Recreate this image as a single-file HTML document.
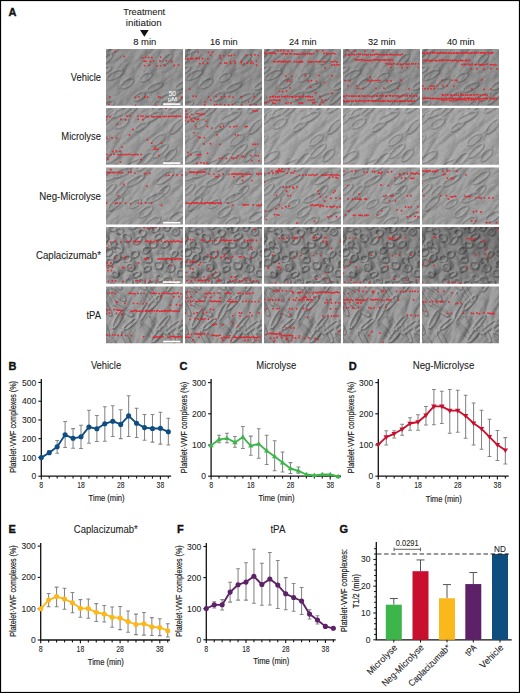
<!DOCTYPE html>
<html><head><meta charset="utf-8"><style>
html,body{margin:0;padding:0;background:#fff;}
svg{display:block;font-family:"Liberation Sans", sans-serif;}
</style></head><body>
<svg width="520" height="693" viewBox="0 0 520 693">
<rect x="0" y="0" width="520" height="693" fill="#fff"/>
<text x="8.60" y="15.80" font-size="11" text-anchor="start" fill="#111" font-weight="bold" stroke="#111" stroke-width="0.35">A</text>
<text x="144.20" y="14.80" font-size="9.3" text-anchor="middle" fill="#222" textLength="42.00" lengthAdjust="spacingAndGlyphs" stroke="#222" stroke-width="0.08" >Treatment</text>
<text x="143.80" y="25.80" font-size="9.3" text-anchor="middle" fill="#222" textLength="36.00" lengthAdjust="spacingAndGlyphs" stroke="#222" stroke-width="0.08" >initiation</text>
<path d="M140.0 30.1 L148.7 30.1 L144.35 36.7 Z" fill="#111"/>
<text x="144.80" y="45.00" font-size="9.9" text-anchor="middle" fill="#151515" textLength="23.20" lengthAdjust="spacingAndGlyphs" stroke="#151515" stroke-width="0.08" >8 min</text>
<text x="223.80" y="45.00" font-size="9.9" text-anchor="middle" fill="#151515" textLength="27.70" lengthAdjust="spacingAndGlyphs" stroke="#151515" stroke-width="0.08" >16 min</text>
<text x="302.80" y="45.00" font-size="9.9" text-anchor="middle" fill="#151515" textLength="27.70" lengthAdjust="spacingAndGlyphs" stroke="#151515" stroke-width="0.08" >24 min</text>
<text x="381.80" y="45.00" font-size="9.9" text-anchor="middle" fill="#151515" textLength="27.70" lengthAdjust="spacingAndGlyphs" stroke="#151515" stroke-width="0.08" >32 min</text>
<text x="460.80" y="45.00" font-size="9.9" text-anchor="middle" fill="#151515" textLength="27.70" lengthAdjust="spacingAndGlyphs" stroke="#151515" stroke-width="0.08" >40 min</text>
<text x="101.00" y="81.30" font-size="10.0" text-anchor="end" fill="#1a1a1a" textLength="30.20" lengthAdjust="spacingAndGlyphs" stroke="#1a1a1a" stroke-width="0.08" >Vehicle</text>
<text x="101.00" y="140.30" font-size="10.0" text-anchor="end" fill="#1a1a1a" textLength="39.70" lengthAdjust="spacingAndGlyphs" stroke="#1a1a1a" stroke-width="0.08" >Microlyse</text>
<text x="101.00" y="199.90" font-size="10.0" text-anchor="end" fill="#1a1a1a" textLength="61.70" lengthAdjust="spacingAndGlyphs" stroke="#1a1a1a" stroke-width="0.08" >Neg-Microlyse</text>
<text x="101.00" y="259.30" font-size="10.0" text-anchor="end" fill="#1a1a1a" textLength="65.00" lengthAdjust="spacingAndGlyphs" stroke="#1a1a1a" stroke-width="0.08" >Caplacizumab*</text>
<text x="101.00" y="318.70" font-size="10.0" text-anchor="end" fill="#1a1a1a" textLength="14.50" lengthAdjust="spacingAndGlyphs" stroke="#1a1a1a" stroke-width="0.08" >tPA</text>
<defs>
<clipPath id="tc"><rect x="0" y="0" width="77" height="56.8"/></clipPath>
<filter id="dic0" x="0" y="0" width="100%" height="100%" color-interpolation-filters="sRGB"><feTurbulence type="turbulence" baseFrequency="0.035 0.08" numOctaves="3" seed="4" result="n"/><feDiffuseLighting in="n" surfaceScale="2.4" diffuseConstant="1" lighting-color="#ffffff" result="l"><feDistantLight azimuth="225" elevation="50"/></feDiffuseLighting><feComposite in="SourceGraphic" in2="l" operator="arithmetic" k1="0" k2="1" k3="0.24" k4="-0.173"/></filter>
<filter id="dic1" x="0" y="0" width="100%" height="100%" color-interpolation-filters="sRGB"><feTurbulence type="turbulence" baseFrequency="0.035 0.085" numOctaves="3" seed="6" result="n"/><feDiffuseLighting in="n" surfaceScale="2.2" diffuseConstant="1" lighting-color="#ffffff" result="l"><feDistantLight azimuth="225" elevation="50"/></feDiffuseLighting><feComposite in="SourceGraphic" in2="l" operator="arithmetic" k1="0" k2="1" k3="0.22" k4="-0.158"/></filter>
<filter id="dic2" x="0" y="0" width="100%" height="100%" color-interpolation-filters="sRGB"><feTurbulence type="turbulence" baseFrequency="0.035 0.08" numOctaves="3" seed="8" result="n"/><feDiffuseLighting in="n" surfaceScale="2.4" diffuseConstant="1" lighting-color="#ffffff" result="l"><feDistantLight azimuth="225" elevation="50"/></feDiffuseLighting><feComposite in="SourceGraphic" in2="l" operator="arithmetic" k1="0" k2="1" k3="0.24" k4="-0.173"/></filter>
<filter id="dic3" x="0" y="0" width="100%" height="100%" color-interpolation-filters="sRGB"><feTurbulence type="turbulence" baseFrequency="0.085 0.075" numOctaves="2" seed="10" result="n"/><feDiffuseLighting in="n" surfaceScale="3.0" diffuseConstant="1" lighting-color="#ffffff" result="l"><feDistantLight azimuth="225" elevation="50"/></feDiffuseLighting><feComposite in="SourceGraphic" in2="l" operator="arithmetic" k1="0" k2="1" k3="0.28" k4="-0.202"/></filter>
<filter id="dic4" x="0" y="0" width="100%" height="100%" color-interpolation-filters="sRGB"><feTurbulence type="turbulence" baseFrequency="0.03 0.09" numOctaves="3" seed="12" result="n"/><feDiffuseLighting in="n" surfaceScale="2.6" diffuseConstant="1" lighting-color="#ffffff" result="l"><feDistantLight azimuth="225" elevation="50"/></feDiffuseLighting><feComposite in="SourceGraphic" in2="l" operator="arithmetic" k1="0" k2="1" k3="0.26" k4="-0.187"/></filter>
<filter id="grain" x="0" y="0" width="100%" height="100%" color-interpolation-filters="sRGB"><feTurbulence type="fractalNoise" baseFrequency="0.9" numOctaves="1" seed="9" result="g"/><feColorMatrix in="g" type="matrix" values="0.33 0.33 0.33 0 0  0.33 0.33 0.33 0 0  0.33 0.33 0.33 0 0  0 0 0 0 1" result="gg"/><feComposite in="SourceGraphic" in2="gg" operator="arithmetic" k1="0" k2="1" k3="0.14" k4="-0.07"/></filter>
<filter id="soft" x="-5%" y="-5%" width="110%" height="110%"><feGaussianBlur stdDeviation="0.35"/></filter>
</defs>
<defs><filter id="emb0" filterUnits="userSpaceOnUse" x="-2" y="-2" width="81" height="60.8" color-interpolation-filters="sRGB"><feGaussianBlur in="SourceAlpha" stdDeviation="0.7" result="b"/><feDiffuseLighting in="b" surfaceScale="1.4" diffuseConstant="1" lighting-color="#ffffff" result="l"><feDistantLight azimuth="225" elevation="45"/></feDiffuseLighting><feColorMatrix in="l" type="matrix" values="0 0 0 0 1  0 0 0 0 1  0 0 0 0 1  0.26 0 0 0 -0.1838" result="hi"/><feColorMatrix in="l" type="matrix" values="0 0 0 0 0  0 0 0 0 0  0 0 0 0 0  -0.26 0 0 0 0.1838" result="lo"/><feMerge><feMergeNode in="hi"/><feMergeNode in="lo"/></feMerge></filter><g id="cells0"><ellipse cx="9.1" cy="25.6" rx="8.8" ry="3.3" transform="rotate(-27 9.1 25.6)" fill="none" stroke="#000" stroke-width="1.3"/><ellipse cx="33.0" cy="47.2" rx="6.3" ry="2.9" transform="rotate(-34 33.0 47.2)" fill="none" stroke="#000" stroke-width="1.3"/><ellipse cx="1.0" cy="55.6" rx="7.3" ry="2.8" transform="rotate(-22 1.0 55.6)" fill="none" stroke="#000" stroke-width="1.3"/><ellipse cx="60.7" cy="9.8" rx="6.8" ry="2.8" transform="rotate(-45 60.7 9.8)" fill="none" stroke="#000" stroke-width="1.3"/><ellipse cx="49.0" cy="57.5" rx="9.8" ry="3.1" transform="rotate(-44 49.0 57.5)" fill="none" stroke="#000" stroke-width="1.3"/><ellipse cx="71.8" cy="48.4" rx="8.6" ry="2.5" transform="rotate(-45 71.8 48.4)" fill="none" stroke="#000" stroke-width="1.3"/><ellipse cx="-2.5" cy="21.8" rx="8.3" ry="2.6" transform="rotate(-27 -2.5 21.8)" fill="none" stroke="#000" stroke-width="1.3"/><ellipse cx="77.4" cy="35.3" rx="9.1" ry="3.0" transform="rotate(-28 77.4 35.3)" fill="none" stroke="#000" stroke-width="1.3"/><ellipse cx="21.1" cy="34.1" rx="7.4" ry="3.4" transform="rotate(-34 21.1 34.1)" fill="none" stroke="#000" stroke-width="1.3"/><ellipse cx="60.2" cy="48.1" rx="8.6" ry="2.7" transform="rotate(-23 60.2 48.1)" fill="none" stroke="#000" stroke-width="1.3"/><ellipse cx="39.6" cy="28.0" rx="6.6" ry="3.2" transform="rotate(-33 39.6 28.0)" fill="none" stroke="#000" stroke-width="1.3"/><ellipse cx="7.0" cy="0.2" rx="6.9" ry="2.8" transform="rotate(-32 7.0 0.2)" fill="none" stroke="#000" stroke-width="1.3"/><ellipse cx="48.6" cy="37.9" rx="8.3" ry="2.8" transform="rotate(-28 48.6 37.9)" fill="none" stroke="#000" stroke-width="1.3"/><ellipse cx="0.9" cy="9.4" rx="6.4" ry="2.6" transform="rotate(-43 0.9 9.4)" fill="none" stroke="#000" stroke-width="1.3"/></g></defs>
<defs><filter id="emb1" filterUnits="userSpaceOnUse" x="-2" y="-2" width="81" height="60.8" color-interpolation-filters="sRGB"><feGaussianBlur in="SourceAlpha" stdDeviation="0.7" result="b"/><feDiffuseLighting in="b" surfaceScale="1.3" diffuseConstant="1" lighting-color="#ffffff" result="l"><feDistantLight azimuth="225" elevation="45"/></feDiffuseLighting><feColorMatrix in="l" type="matrix" values="0 0 0 0 1  0 0 0 0 1  0 0 0 0 1  0.25 0 0 0 -0.1768" result="hi"/><feColorMatrix in="l" type="matrix" values="0 0 0 0 0  0 0 0 0 0  0 0 0 0 0  -0.25 0 0 0 0.1768" result="lo"/><feMerge><feMergeNode in="hi"/><feMergeNode in="lo"/></feMerge></filter><g id="cells1"><ellipse cx="45.2" cy="9.2" rx="10.9" ry="3.0" transform="rotate(-27 45.2 9.2)" fill="none" stroke="#000" stroke-width="1.3"/><ellipse cx="15.4" cy="15.1" rx="7.7" ry="3.6" transform="rotate(-33 15.4 15.1)" fill="none" stroke="#000" stroke-width="1.3"/><ellipse cx="2.8" cy="9.1" rx="10.2" ry="2.8" transform="rotate(-48 2.8 9.1)" fill="none" stroke="#000" stroke-width="1.3"/><ellipse cx="36.1" cy="17.5" rx="8.6" ry="2.6" transform="rotate(-35 36.1 17.5)" fill="none" stroke="#000" stroke-width="1.3"/><ellipse cx="6.2" cy="48.7" rx="9.7" ry="3.5" transform="rotate(-34 6.2 48.7)" fill="none" stroke="#000" stroke-width="1.3"/><ellipse cx="52.5" cy="-2.6" rx="9.2" ry="2.8" transform="rotate(-39 52.5 -2.6)" fill="none" stroke="#000" stroke-width="1.3"/><ellipse cx="-2.2" cy="32.4" rx="6.9" ry="2.6" transform="rotate(-46 -2.2 32.4)" fill="none" stroke="#000" stroke-width="1.3"/><ellipse cx="53.8" cy="42.7" rx="9.7" ry="3.0" transform="rotate(-41 53.8 42.7)" fill="none" stroke="#000" stroke-width="1.3"/><ellipse cx="38.4" cy="52.0" rx="10.7" ry="3.2" transform="rotate(-43 38.4 52.0)" fill="none" stroke="#000" stroke-width="1.3"/><ellipse cx="25.7" cy="56.4" rx="10.5" ry="2.5" transform="rotate(-29 25.7 56.4)" fill="none" stroke="#000" stroke-width="1.3"/><ellipse cx="64.2" cy="46.8" rx="7.6" ry="3.4" transform="rotate(-47 64.2 46.8)" fill="none" stroke="#000" stroke-width="1.3"/><ellipse cx="70.4" cy="18.2" rx="9.2" ry="3.2" transform="rotate(-48 70.4 18.2)" fill="none" stroke="#000" stroke-width="1.3"/><ellipse cx="26.1" cy="0.6" rx="10.5" ry="2.5" transform="rotate(-43 26.1 0.6)" fill="none" stroke="#000" stroke-width="1.3"/><ellipse cx="14.0" cy="4.0" rx="10.8" ry="2.8" transform="rotate(-26 14.0 4.0)" fill="none" stroke="#000" stroke-width="1.3"/><ellipse cx="70.7" cy="-2.2" rx="10.6" ry="3.0" transform="rotate(-35 70.7 -2.2)" fill="none" stroke="#000" stroke-width="1.3"/><ellipse cx="51.8" cy="31.7" rx="8.3" ry="3.5" transform="rotate(-37 51.8 31.7)" fill="none" stroke="#000" stroke-width="1.3"/></g></defs>
<defs><filter id="emb2" filterUnits="userSpaceOnUse" x="-2" y="-2" width="81" height="60.8" color-interpolation-filters="sRGB"><feGaussianBlur in="SourceAlpha" stdDeviation="0.7" result="b"/><feDiffuseLighting in="b" surfaceScale="1.4" diffuseConstant="1" lighting-color="#ffffff" result="l"><feDistantLight azimuth="225" elevation="45"/></feDiffuseLighting><feColorMatrix in="l" type="matrix" values="0 0 0 0 1  0 0 0 0 1  0 0 0 0 1  0.26 0 0 0 -0.1838" result="hi"/><feColorMatrix in="l" type="matrix" values="0 0 0 0 0  0 0 0 0 0  0 0 0 0 0  -0.26 0 0 0 0.1838" result="lo"/><feMerge><feMergeNode in="hi"/><feMergeNode in="lo"/></feMerge></filter><g id="cells2"><ellipse cx="9.3" cy="35.7" rx="9.4" ry="3.1" transform="rotate(-44 9.3 35.7)" fill="none" stroke="#000" stroke-width="1.3"/><ellipse cx="28.9" cy="35.8" rx="6.6" ry="3.0" transform="rotate(-33 28.9 35.8)" fill="none" stroke="#000" stroke-width="1.3"/><ellipse cx="48.4" cy="29.6" rx="9.5" ry="2.9" transform="rotate(-24 48.4 29.6)" fill="none" stroke="#000" stroke-width="1.3"/><ellipse cx="15.8" cy="5.0" rx="9.3" ry="3.1" transform="rotate(-26 15.8 5.0)" fill="none" stroke="#000" stroke-width="1.3"/><ellipse cx="39.3" cy="43.9" rx="8.1" ry="3.5" transform="rotate(-37 39.3 43.9)" fill="none" stroke="#000" stroke-width="1.3"/><ellipse cx="70.8" cy="48.8" rx="8.4" ry="3.5" transform="rotate(-31 70.8 48.8)" fill="none" stroke="#000" stroke-width="1.3"/><ellipse cx="46.8" cy="54.5" rx="8.6" ry="3.6" transform="rotate(-32 46.8 54.5)" fill="none" stroke="#000" stroke-width="1.3"/><ellipse cx="28.9" cy="13.0" rx="10.4" ry="2.7" transform="rotate(-30 28.9 13.0)" fill="none" stroke="#000" stroke-width="1.3"/><ellipse cx="15.3" cy="23.1" rx="8.4" ry="2.7" transform="rotate(-45 15.3 23.1)" fill="none" stroke="#000" stroke-width="1.3"/><ellipse cx="3.7" cy="21.4" rx="6.9" ry="2.6" transform="rotate(-45 3.7 21.4)" fill="none" stroke="#000" stroke-width="1.3"/><ellipse cx="57.4" cy="23.0" rx="7.2" ry="2.8" transform="rotate(-42 57.4 23.0)" fill="none" stroke="#000" stroke-width="1.3"/><ellipse cx="58.7" cy="9.7" rx="9.8" ry="3.4" transform="rotate(-36 58.7 9.7)" fill="none" stroke="#000" stroke-width="1.3"/><ellipse cx="4.7" cy="7.7" rx="8.0" ry="3.4" transform="rotate(-27 4.7 7.7)" fill="none" stroke="#000" stroke-width="1.3"/><ellipse cx="35.9" cy="-2.5" rx="7.3" ry="3.2" transform="rotate(-41 35.9 -2.5)" fill="none" stroke="#000" stroke-width="1.3"/></g></defs>
<defs><filter id="emb3" filterUnits="userSpaceOnUse" x="-2" y="-2" width="81" height="60.8" color-interpolation-filters="sRGB"><feGaussianBlur in="SourceAlpha" stdDeviation="0.7" result="b"/><feDiffuseLighting in="b" surfaceScale="1.6" diffuseConstant="1" lighting-color="#ffffff" result="l"><feDistantLight azimuth="225" elevation="45"/></feDiffuseLighting><feColorMatrix in="l" type="matrix" values="0 0 0 0 1  0 0 0 0 1  0 0 0 0 1  0.4 0 0 0 -0.2828" result="hi"/><feColorMatrix in="l" type="matrix" values="0 0 0 0 0  0 0 0 0 0  0 0 0 0 0  -0.4 0 0 0 0.2828" result="lo"/><feMerge><feMergeNode in="hi"/><feMergeNode in="lo"/></feMerge></filter><g id="cells3"><ellipse cx="78.3" cy="25.7" rx="4.1" ry="2.6" transform="rotate(12 78.3 25.7)" fill="none" stroke="#000" stroke-width="1.5"/><ellipse cx="3.5" cy="34.9" rx="3.5" ry="3.4" transform="rotate(-48 3.5 34.9)" fill="none" stroke="#000" stroke-width="1.5"/><ellipse cx="69.4" cy="4.5" rx="3.2" ry="3.3" transform="rotate(-52 69.4 4.5)" fill="none" stroke="#000" stroke-width="1.5"/><ellipse cx="-0.9" cy="11.1" rx="3.0" ry="2.9" transform="rotate(-49 -0.9 11.1)" fill="none" stroke="#000" stroke-width="1.5"/><ellipse cx="12.2" cy="22.7" rx="4.1" ry="2.8" transform="rotate(13 12.2 22.7)" fill="none" stroke="#000" stroke-width="1.5"/><ellipse cx="62.2" cy="33.0" rx="3.2" ry="2.7" transform="rotate(23 62.2 33.0)" fill="none" stroke="#000" stroke-width="1.5"/><ellipse cx="45.2" cy="56.4" rx="3.7" ry="2.6" transform="rotate(2 45.2 56.4)" fill="none" stroke="#000" stroke-width="1.5"/><ellipse cx="20.4" cy="10.6" rx="4.4" ry="3.4" transform="rotate(39 20.4 10.6)" fill="none" stroke="#000" stroke-width="1.5"/><ellipse cx="40.9" cy="41.5" rx="3.7" ry="2.5" transform="rotate(-30 40.9 41.5)" fill="none" stroke="#000" stroke-width="1.5"/><ellipse cx="31.9" cy="12.9" rx="4.5" ry="2.4" transform="rotate(-50 31.9 12.9)" fill="none" stroke="#000" stroke-width="1.5"/><ellipse cx="64.5" cy="40.9" rx="3.7" ry="3.5" transform="rotate(-51 64.5 40.9)" fill="none" stroke="#000" stroke-width="1.5"/><ellipse cx="21.2" cy="31.5" rx="3.5" ry="3.3" transform="rotate(-0 21.2 31.5)" fill="none" stroke="#000" stroke-width="1.5"/><ellipse cx="2.4" cy="24.9" rx="4.0" ry="3.3" transform="rotate(-56 2.4 24.9)" fill="none" stroke="#000" stroke-width="1.5"/><ellipse cx="42.1" cy="32.5" rx="3.2" ry="2.8" transform="rotate(2 42.1 32.5)" fill="none" stroke="#000" stroke-width="1.5"/><ellipse cx="28.5" cy="27.0" rx="3.8" ry="3.1" transform="rotate(-27 28.5 27.0)" fill="none" stroke="#000" stroke-width="1.5"/><ellipse cx="24.2" cy="40.0" rx="3.8" ry="3.5" transform="rotate(25 24.2 40.0)" fill="none" stroke="#000" stroke-width="1.5"/><ellipse cx="22.7" cy="54.7" rx="3.4" ry="3.3" transform="rotate(-42 22.7 54.7)" fill="none" stroke="#000" stroke-width="1.5"/><ellipse cx="69.3" cy="56.3" rx="3.4" ry="2.7" transform="rotate(8 69.3 56.3)" fill="none" stroke="#000" stroke-width="1.5"/><ellipse cx="49.4" cy="1.2" rx="4.4" ry="3.0" transform="rotate(-57 49.4 1.2)" fill="none" stroke="#000" stroke-width="1.5"/><ellipse cx="58.7" cy="17.0" rx="3.7" ry="2.8" transform="rotate(-35 58.7 17.0)" fill="none" stroke="#000" stroke-width="1.5"/><ellipse cx="46.3" cy="17.6" rx="3.6" ry="2.5" transform="rotate(19 46.3 17.6)" fill="none" stroke="#000" stroke-width="1.5"/><ellipse cx="61.3" cy="53.2" rx="3.8" ry="3.3" transform="rotate(8 61.3 53.2)" fill="none" stroke="#000" stroke-width="1.5"/><ellipse cx="74.5" cy="-2.4" rx="2.8" ry="2.7" transform="rotate(-11 74.5 -2.4)" fill="none" stroke="#000" stroke-width="1.5"/><ellipse cx="53.2" cy="51.1" rx="2.8" ry="3.5" transform="rotate(-34 53.2 51.1)" fill="none" stroke="#000" stroke-width="1.5"/><ellipse cx="6.3" cy="0.3" rx="3.8" ry="3.3" transform="rotate(33 6.3 0.3)" fill="none" stroke="#000" stroke-width="1.5"/><ellipse cx="52.3" cy="38.0" rx="4.1" ry="3.5" transform="rotate(-9 52.3 38.0)" fill="none" stroke="#000" stroke-width="1.5"/><ellipse cx="60.5" cy="0.3" rx="2.8" ry="3.2" transform="rotate(-32 60.5 0.3)" fill="none" stroke="#000" stroke-width="1.5"/><ellipse cx="13.4" cy="3.8" rx="3.4" ry="2.8" transform="rotate(5 13.4 3.8)" fill="none" stroke="#000" stroke-width="1.5"/><ellipse cx="78.0" cy="36.9" rx="4.2" ry="3.4" transform="rotate(22 78.0 36.9)" fill="none" stroke="#000" stroke-width="1.5"/><ellipse cx="27.0" cy="-1.8" rx="4.4" ry="3.2" transform="rotate(-34 27.0 -1.8)" fill="none" stroke="#000" stroke-width="1.5"/><ellipse cx="52.4" cy="9.4" rx="4.5" ry="2.6" transform="rotate(-30 52.4 9.4)" fill="none" stroke="#000" stroke-width="1.5"/><ellipse cx="35.5" cy="54.5" rx="3.3" ry="2.6" transform="rotate(18 35.5 54.5)" fill="none" stroke="#000" stroke-width="1.5"/><ellipse cx="7.1" cy="17.0" rx="3.0" ry="2.7" transform="rotate(-36 7.1 17.0)" fill="none" stroke="#000" stroke-width="1.5"/><ellipse cx="16.8" cy="59.7" rx="4.4" ry="2.6" transform="rotate(10 16.8 59.7)" fill="none" stroke="#000" stroke-width="1.5"/><ellipse cx="36.1" cy="5.7" rx="3.5" ry="3.4" transform="rotate(-57 36.1 5.7)" fill="none" stroke="#000" stroke-width="1.5"/><ellipse cx="30.4" cy="47.3" rx="4.1" ry="2.3" transform="rotate(-33 30.4 47.3)" fill="none" stroke="#000" stroke-width="1.5"/><ellipse cx="9.2" cy="47.0" rx="3.3" ry="2.6" transform="rotate(25 9.2 47.0)" fill="none" stroke="#000" stroke-width="1.5"/><ellipse cx="4.4" cy="59.1" rx="3.3" ry="2.9" transform="rotate(-3 4.4 59.1)" fill="none" stroke="#000" stroke-width="1.5"/><ellipse cx="74.6" cy="45.9" rx="3.9" ry="3.4" transform="rotate(2 74.6 45.9)" fill="none" stroke="#000" stroke-width="1.5"/><ellipse cx="42.2" cy="-2.1" rx="4.0" ry="2.7" transform="rotate(28 42.2 -2.1)" fill="none" stroke="#000" stroke-width="1.5"/><ellipse cx="68.3" cy="26.8" rx="3.6" ry="2.4" transform="rotate(-49 68.3 26.8)" fill="none" stroke="#000" stroke-width="1.5"/><ellipse cx="40.2" cy="22.7" rx="3.9" ry="2.9" transform="rotate(-28 40.2 22.7)" fill="none" stroke="#000" stroke-width="1.5"/><ellipse cx="10.6" cy="30.7" rx="3.7" ry="2.9" transform="rotate(-42 10.6 30.7)" fill="none" stroke="#000" stroke-width="1.5"/><ellipse cx="-2.2" cy="18.7" rx="4.3" ry="2.8" transform="rotate(-9 -2.2 18.7)" fill="none" stroke="#000" stroke-width="1.5"/></g></defs>
<defs><filter id="emb4" filterUnits="userSpaceOnUse" x="-2" y="-2" width="81" height="60.8" color-interpolation-filters="sRGB"><feGaussianBlur in="SourceAlpha" stdDeviation="0.7" result="b"/><feDiffuseLighting in="b" surfaceScale="1.6" diffuseConstant="1" lighting-color="#ffffff" result="l"><feDistantLight azimuth="225" elevation="45"/></feDiffuseLighting><feColorMatrix in="l" type="matrix" values="0 0 0 0 1  0 0 0 0 1  0 0 0 0 1  0.36 0 0 0 -0.2546" result="hi"/><feColorMatrix in="l" type="matrix" values="0 0 0 0 0  0 0 0 0 0  0 0 0 0 0  -0.36 0 0 0 0.2546" result="lo"/><feMerge><feMergeNode in="hi"/><feMergeNode in="lo"/></feMerge></filter><g id="cells4"><ellipse cx="76.7" cy="51.8" rx="8.2" ry="2.4" transform="rotate(43 76.7 51.8)" fill="none" stroke="#000" stroke-width="1.4"/><ellipse cx="64.0" cy="-1.9" rx="7.3" ry="2.3" transform="rotate(-60 64.0 -1.9)" fill="none" stroke="#000" stroke-width="1.4"/><ellipse cx="24.4" cy="37.5" rx="8.5" ry="2.0" transform="rotate(-39 24.4 37.5)" fill="none" stroke="#000" stroke-width="1.4"/><ellipse cx="48.6" cy="36.5" rx="9.2" ry="2.0" transform="rotate(53 48.6 36.5)" fill="none" stroke="#000" stroke-width="1.4"/><ellipse cx="11.9" cy="32.7" rx="10.4" ry="2.5" transform="rotate(-62 11.9 32.7)" fill="none" stroke="#000" stroke-width="1.4"/><ellipse cx="17.9" cy="23.0" rx="11.2" ry="1.9" transform="rotate(37 17.9 23.0)" fill="none" stroke="#000" stroke-width="1.4"/><ellipse cx="52.4" cy="47.6" rx="10.9" ry="2.6" transform="rotate(-49 52.4 47.6)" fill="none" stroke="#000" stroke-width="1.4"/><ellipse cx="0.3" cy="20.8" rx="9.6" ry="1.8" transform="rotate(61 0.3 20.8)" fill="none" stroke="#000" stroke-width="1.4"/><ellipse cx="9.8" cy="-2.4" rx="7.1" ry="2.3" transform="rotate(41 9.8 -2.4)" fill="none" stroke="#000" stroke-width="1.4"/><ellipse cx="56.6" cy="36.6" rx="10.0" ry="2.0" transform="rotate(-49 56.6 36.6)" fill="none" stroke="#000" stroke-width="1.4"/><ellipse cx="66.9" cy="40.6" rx="10.5" ry="2.2" transform="rotate(-39 66.9 40.6)" fill="none" stroke="#000" stroke-width="1.4"/><ellipse cx="40.4" cy="43.1" rx="10.9" ry="1.9" transform="rotate(48 40.4 43.1)" fill="none" stroke="#000" stroke-width="1.4"/><ellipse cx="37.2" cy="25.4" rx="9.4" ry="2.5" transform="rotate(-62 37.2 25.4)" fill="none" stroke="#000" stroke-width="1.4"/><ellipse cx="47.8" cy="16.3" rx="9.6" ry="2.5" transform="rotate(-48 47.8 16.3)" fill="none" stroke="#000" stroke-width="1.4"/><ellipse cx="-2.1" cy="40.3" rx="8.2" ry="1.9" transform="rotate(59 -2.1 40.3)" fill="none" stroke="#000" stroke-width="1.4"/><ellipse cx="4.1" cy="10.3" rx="10.3" ry="1.8" transform="rotate(58 4.1 10.3)" fill="none" stroke="#000" stroke-width="1.4"/><ellipse cx="39.0" cy="11.4" rx="7.6" ry="2.2" transform="rotate(49 39.0 11.4)" fill="none" stroke="#000" stroke-width="1.4"/><ellipse cx="2.9" cy="52.6" rx="9.2" ry="2.6" transform="rotate(48 2.9 52.6)" fill="none" stroke="#000" stroke-width="1.4"/><ellipse cx="19.9" cy="53.4" rx="10.2" ry="2.6" transform="rotate(61 19.9 53.4)" fill="none" stroke="#000" stroke-width="1.4"/><ellipse cx="35.1" cy="-2.3" rx="6.9" ry="2.1" transform="rotate(48 35.1 -2.3)" fill="none" stroke="#000" stroke-width="1.4"/><ellipse cx="11.8" cy="7.5" rx="9.8" ry="2.4" transform="rotate(41 11.8 7.5)" fill="none" stroke="#000" stroke-width="1.4"/><ellipse cx="64.4" cy="48.6" rx="8.2" ry="2.0" transform="rotate(63 64.4 48.6)" fill="none" stroke="#000" stroke-width="1.4"/><ellipse cx="77.7" cy="39.2" rx="7.8" ry="2.3" transform="rotate(-36 77.7 39.2)" fill="none" stroke="#000" stroke-width="1.4"/><ellipse cx="44.7" cy="6.2" rx="10.9" ry="1.9" transform="rotate(58 44.7 6.2)" fill="none" stroke="#000" stroke-width="1.4"/></g></defs>
<defs><linearGradient id="gR" x1="0" y1="1" x2="1" y2="0"><stop offset="0" stop-color="#fff" stop-opacity="0.06"/><stop offset="1" stop-color="#000" stop-opacity="0.16"/></linearGradient><linearGradient id="gR2" x1="0" y1="1" x2="1" y2="0"><stop offset="0" stop-color="#fff" stop-opacity="0.04"/><stop offset="1" stop-color="#000" stop-opacity="0.08"/></linearGradient></defs>
<g transform="translate(106 49.00)"><g clip-path="url(#tc)">
<g filter="url(#grain)"><rect x="-21.5" y="-31.6" width="120" height="120" fill="rgb(142,142,142)" filter="url(#dic0)" transform="rotate(-35 38.5 28.4)"/></g>
<g filter="url(#emb0)"><use href="#cells0"/></g>
<circle cx="9.20" cy="2.45" r="0.9" fill="#e4232b"/>
<circle cx="18.10" cy="7.46" r="0.9" fill="#e4232b"/>
<circle cx="36.70" cy="8.82" r="0.9" fill="#e4232b"/>
<circle cx="39.70" cy="8.37" r="0.9" fill="#e4232b"/>
<circle cx="42.60" cy="8.41" r="0.9" fill="#e4232b"/>
<circle cx="45.90" cy="8.49" r="0.9" fill="#e4232b"/>
<circle cx="54.80" cy="8.08" r="0.9" fill="#e4232b"/>
<circle cx="38.20" cy="12.21" r="0.9" fill="#e4232b"/>
<circle cx="40.00" cy="12.33" r="0.9" fill="#e4232b"/>
<circle cx="44.40" cy="12.49" r="0.9" fill="#e4232b"/>
<circle cx="47.80" cy="11.79" r="0.9" fill="#e4232b"/>
<circle cx="54.00" cy="12.00" r="0.9" fill="#e4232b"/>
<circle cx="60.40" cy="11.79" r="0.9" fill="#e4232b"/>
<circle cx="65.90" cy="12.51" r="0.9" fill="#e4232b"/>
<circle cx="38.50" cy="16.59" r="0.9" fill="#e4232b"/>
<circle cx="43.40" cy="15.94" r="0.9" fill="#e4232b"/>
<circle cx="51.10" cy="16.88" r="0.9" fill="#e4232b"/>
<circle cx="54.50" cy="16.86" r="0.9" fill="#e4232b"/>
<circle cx="58.90" cy="16.55" r="0.9" fill="#e4232b"/>
<circle cx="68.10" cy="16.52" r="0.9" fill="#e4232b"/>
<circle cx="72.60" cy="16.06" r="0.9" fill="#e4232b"/>
<circle cx="4.00" cy="47.82" r="0.9" fill="#e4232b"/>
<circle cx="29.60" cy="48.33" r="0.9" fill="#e4232b"/>
<circle cx="32.90" cy="47.86" r="0.9" fill="#e4232b"/>
<circle cx="38.80" cy="47.99" r="0.9" fill="#e4232b"/>
<circle cx="41.50" cy="48.04" r="0.9" fill="#e4232b"/>
<circle cx="52.60" cy="47.83" r="0.9" fill="#e4232b"/>
<circle cx="54.20" cy="48.26" r="0.9" fill="#e4232b"/>
<circle cx="75.50" cy="48.24" r="0.9" fill="#e4232b"/>
<circle cx="3.00" cy="55.14" r="0.9" fill="#e4232b"/>
<circle cx="29.60" cy="56.32" r="0.9" fill="#e4232b"/>
<circle cx="49.60" cy="56.44" r="0.9" fill="#e4232b"/>
</g></g>
<g transform="translate(185 49.00)"><g clip-path="url(#tc)">
<g filter="url(#grain)"><rect x="-21.5" y="-31.6" width="120" height="120" fill="rgb(140,140,140)" filter="url(#dic0)" transform="rotate(-35 38.5 28.4)"/></g>
<g filter="url(#emb0)"><use href="#cells0"/></g>
<circle cx="13.30" cy="3.30" r="0.9" fill="#e4232b"/>
<circle cx="23.40" cy="3.46" r="0.9" fill="#e4232b"/>
<circle cx="27.40" cy="3.26" r="0.9" fill="#e4232b"/>
<circle cx="25.90" cy="6.08" r="0.9" fill="#e4232b"/>
<circle cx="34.80" cy="6.80" r="0.9" fill="#e4232b"/>
<circle cx="38.80" cy="6.80" r="0.9" fill="#e4232b"/>
<circle cx="43.70" cy="6.64" r="0.9" fill="#e4232b"/>
<circle cx="46.30" cy="6.51" r="0.9" fill="#e4232b"/>
<circle cx="49.60" cy="6.12" r="0.9" fill="#e4232b"/>
<circle cx="61.20" cy="6.03" r="0.9" fill="#e4232b"/>
<circle cx="65.90" cy="6.09" r="0.9" fill="#e4232b"/>
<circle cx="70.00" cy="5.87" r="0.9" fill="#e4232b"/>
<circle cx="73.30" cy="6.57" r="0.9" fill="#e4232b"/>
<circle cx="-0.10" cy="9.91" r="0.9" fill="#e4232b"/>
<circle cx="2.27" cy="9.91" r="0.9" fill="#e4232b"/>
<circle cx="3.05" cy="9.97" r="0.9" fill="#e4232b"/>
<circle cx="5.69" cy="9.51" r="0.9" fill="#e4232b"/>
<circle cx="6.92" cy="9.85" r="0.9" fill="#e4232b"/>
<circle cx="8.10" cy="9.45" r="0.9" fill="#e4232b"/>
<circle cx="11.00" cy="9.26" r="0.9" fill="#e4232b"/>
<circle cx="12.05" cy="9.20" r="0.9" fill="#e4232b"/>
<circle cx="14.23" cy="9.65" r="0.9" fill="#e4232b"/>
<circle cx="17.50" cy="9.49" r="0.9" fill="#e4232b"/>
<circle cx="23.00" cy="10.03" r="0.9" fill="#e4232b"/>
<circle cx="35.80" cy="9.43" r="0.9" fill="#e4232b"/>
<circle cx="45.20" cy="12.74" r="0.9" fill="#e4232b"/>
<circle cx="49.60" cy="12.22" r="0.9" fill="#e4232b"/>
<circle cx="56.30" cy="12.52" r="0.9" fill="#e4232b"/>
<circle cx="66.60" cy="12.31" r="0.9" fill="#e4232b"/>
<circle cx="71.50" cy="12.37" r="0.9" fill="#e4232b"/>
<circle cx="14.80" cy="14.67" r="0.9" fill="#e4232b"/>
<circle cx="18.20" cy="14.50" r="0.9" fill="#e4232b"/>
<circle cx="22.50" cy="14.00" r="0.9" fill="#e4232b"/>
<circle cx="35.80" cy="14.58" r="0.9" fill="#e4232b"/>
<circle cx="39.70" cy="13.91" r="0.9" fill="#e4232b"/>
<circle cx="41.50" cy="14.09" r="0.9" fill="#e4232b"/>
<circle cx="45.90" cy="14.55" r="0.9" fill="#e4232b"/>
<circle cx="50.30" cy="14.34" r="0.9" fill="#e4232b"/>
<circle cx="56.30" cy="13.80" r="0.9" fill="#e4232b"/>
<circle cx="59.20" cy="14.69" r="0.9" fill="#e4232b"/>
<circle cx="62.20" cy="13.91" r="0.9" fill="#e4232b"/>
<circle cx="65.90" cy="13.96" r="0.9" fill="#e4232b"/>
<circle cx="68.10" cy="14.47" r="0.9" fill="#e4232b"/>
<circle cx="71.50" cy="16.13" r="0.9" fill="#e4232b"/>
<circle cx="4.70" cy="40.10" r="0.9" fill="#e4232b"/>
<circle cx="8.10" cy="47.27" r="0.9" fill="#e4232b"/>
<circle cx="11.10" cy="47.29" r="0.9" fill="#e4232b"/>
<circle cx="23.70" cy="47.78" r="0.9" fill="#e4232b"/>
<circle cx="31.10" cy="47.44" r="0.9" fill="#e4232b"/>
<circle cx="36.30" cy="47.80" r="0.9" fill="#e4232b"/>
<circle cx="40.00" cy="47.57" r="0.9" fill="#e4232b"/>
<circle cx="44.40" cy="47.65" r="0.9" fill="#e4232b"/>
<circle cx="48.10" cy="48.16" r="0.9" fill="#e4232b"/>
<circle cx="56.00" cy="47.68" r="0.9" fill="#e4232b"/>
<circle cx="69.60" cy="47.77" r="0.9" fill="#e4232b"/>
<circle cx="25.90" cy="51.17" r="0.9" fill="#e4232b"/>
<circle cx="19.70" cy="52.88" r="0.9" fill="#e4232b"/>
<circle cx="63.70" cy="52.85" r="0.9" fill="#e4232b"/>
<circle cx="19.70" cy="56.01" r="0.9" fill="#e4232b"/>
<circle cx="29.60" cy="55.92" r="0.9" fill="#e4232b"/>
<circle cx="31.80" cy="55.35" r="0.9" fill="#e4232b"/>
<circle cx="35.50" cy="55.29" r="0.9" fill="#e4232b"/>
<circle cx="39.70" cy="55.84" r="0.9" fill="#e4232b"/>
<circle cx="43.70" cy="56.04" r="0.9" fill="#e4232b"/>
<circle cx="47.40" cy="55.30" r="0.9" fill="#e4232b"/>
<circle cx="57.00" cy="56.05" r="0.9" fill="#e4232b"/>
<circle cx="65.20" cy="55.98" r="0.9" fill="#e4232b"/>
<circle cx="71.10" cy="55.70" r="0.9" fill="#e4232b"/>
</g></g>
<g transform="translate(264 49.00)"><g clip-path="url(#tc)">
<g filter="url(#grain)"><rect x="-21.5" y="-31.6" width="120" height="120" fill="rgb(140,140,140)" filter="url(#dic0)" transform="rotate(-35 38.5 28.4)"/></g>
<g filter="url(#emb0)"><use href="#cells0"/></g>
<circle cx="14.00" cy="1.72" r="0.9" fill="#e4232b"/>
<circle cx="17.00" cy="1.40" r="0.9" fill="#e4232b"/>
<circle cx="20.00" cy="1.34" r="0.9" fill="#e4232b"/>
<circle cx="24.00" cy="2.26" r="0.9" fill="#e4232b"/>
<circle cx="28.00" cy="1.54" r="0.9" fill="#e4232b"/>
<circle cx="53.00" cy="2.00" r="0.9" fill="#e4232b"/>
<circle cx="59.00" cy="1.56" r="0.9" fill="#e4232b"/>
<circle cx="0.32" cy="4.39" r="0.9" fill="#e4232b"/>
<circle cx="1.32" cy="4.50" r="0.9" fill="#e4232b"/>
<circle cx="2.86" cy="4.35" r="0.9" fill="#e4232b"/>
<circle cx="5.28" cy="4.10" r="0.9" fill="#e4232b"/>
<circle cx="6.93" cy="3.86" r="0.9" fill="#e4232b"/>
<circle cx="8.80" cy="3.90" r="0.9" fill="#e4232b"/>
<circle cx="10.29" cy="4.36" r="0.9" fill="#e4232b"/>
<circle cx="11.82" cy="4.65" r="0.9" fill="#e4232b"/>
<circle cx="18.16" cy="4.97" r="0.9" fill="#e4232b"/>
<circle cx="19.59" cy="4.38" r="0.9" fill="#e4232b"/>
<circle cx="21.90" cy="4.98" r="0.9" fill="#e4232b"/>
<circle cx="23.24" cy="4.92" r="0.9" fill="#e4232b"/>
<circle cx="25.82" cy="4.64" r="0.9" fill="#e4232b"/>
<circle cx="27.42" cy="4.84" r="0.9" fill="#e4232b"/>
<circle cx="30.30" cy="5.01" r="0.9" fill="#e4232b"/>
<circle cx="32.23" cy="5.17" r="0.9" fill="#e4232b"/>
<circle cx="33.91" cy="5.16" r="0.9" fill="#e4232b"/>
<circle cx="35.80" cy="5.06" r="0.9" fill="#e4232b"/>
<circle cx="38.11" cy="4.91" r="0.9" fill="#e4232b"/>
<circle cx="39.92" cy="4.90" r="0.9" fill="#e4232b"/>
<circle cx="41.57" cy="5.24" r="0.9" fill="#e4232b"/>
<circle cx="43.82" cy="4.70" r="0.9" fill="#e4232b"/>
<circle cx="45.73" cy="4.75" r="0.9" fill="#e4232b"/>
<circle cx="47.37" cy="5.03" r="0.9" fill="#e4232b"/>
<circle cx="49.44" cy="4.78" r="0.9" fill="#e4232b"/>
<circle cx="60.20" cy="4.50" r="0.9" fill="#e4232b"/>
<circle cx="62.39" cy="4.28" r="0.9" fill="#e4232b"/>
<circle cx="63.31" cy="4.66" r="0.9" fill="#e4232b"/>
<circle cx="64.86" cy="4.87" r="0.9" fill="#e4232b"/>
<circle cx="67.13" cy="4.85" r="0.9" fill="#e4232b"/>
<circle cx="69.12" cy="4.23" r="0.9" fill="#e4232b"/>
<circle cx="71.10" cy="4.87" r="0.9" fill="#e4232b"/>
<circle cx="9.88" cy="12.67" r="0.9" fill="#e4232b"/>
<circle cx="11.00" cy="12.60" r="0.9" fill="#e4232b"/>
<circle cx="13.37" cy="12.79" r="0.9" fill="#e4232b"/>
<circle cx="14.52" cy="12.30" r="0.9" fill="#e4232b"/>
<circle cx="15.97" cy="12.34" r="0.9" fill="#e4232b"/>
<circle cx="17.74" cy="12.59" r="0.9" fill="#e4232b"/>
<circle cx="19.32" cy="13.03" r="0.9" fill="#e4232b"/>
<circle cx="20.00" cy="12.18" r="0.9" fill="#e4232b"/>
<circle cx="21.64" cy="12.79" r="0.9" fill="#e4232b"/>
<circle cx="23.42" cy="12.86" r="0.9" fill="#e4232b"/>
<circle cx="24.45" cy="12.56" r="0.9" fill="#e4232b"/>
<circle cx="26.34" cy="12.36" r="0.9" fill="#e4232b"/>
<circle cx="30.55" cy="12.92" r="0.9" fill="#e4232b"/>
<circle cx="32.78" cy="12.94" r="0.9" fill="#e4232b"/>
<circle cx="34.98" cy="12.97" r="0.9" fill="#e4232b"/>
<circle cx="35.99" cy="12.51" r="0.9" fill="#e4232b"/>
<circle cx="37.35" cy="12.99" r="0.9" fill="#e4232b"/>
<circle cx="38.62" cy="12.66" r="0.9" fill="#e4232b"/>
<circle cx="44.02" cy="12.70" r="0.9" fill="#e4232b"/>
<circle cx="45.85" cy="12.86" r="0.9" fill="#e4232b"/>
<circle cx="47.61" cy="12.99" r="0.9" fill="#e4232b"/>
<circle cx="49.59" cy="12.56" r="0.9" fill="#e4232b"/>
<circle cx="52.24" cy="12.49" r="0.9" fill="#e4232b"/>
<circle cx="54.04" cy="12.87" r="0.9" fill="#e4232b"/>
<circle cx="55.71" cy="12.74" r="0.9" fill="#e4232b"/>
<circle cx="59.00" cy="12.82" r="0.9" fill="#e4232b"/>
<circle cx="61.00" cy="12.92" r="0.9" fill="#e4232b"/>
<circle cx="67.00" cy="12.74" r="0.9" fill="#e4232b"/>
<circle cx="69.00" cy="12.82" r="0.9" fill="#e4232b"/>
<circle cx="71.00" cy="12.31" r="0.9" fill="#e4232b"/>
<circle cx="73.00" cy="13.00" r="0.9" fill="#e4232b"/>
<circle cx="68.00" cy="15.98" r="0.9" fill="#e4232b"/>
<circle cx="70.50" cy="15.98" r="0.9" fill="#e4232b"/>
<circle cx="73.00" cy="15.54" r="0.9" fill="#e4232b"/>
<circle cx="75.00" cy="15.79" r="0.9" fill="#e4232b"/>
<circle cx="61.00" cy="18.82" r="0.9" fill="#e4232b"/>
<circle cx="22.00" cy="27.21" r="0.9" fill="#e4232b"/>
<circle cx="28.00" cy="27.16" r="0.9" fill="#e4232b"/>
<circle cx="41.50" cy="26.65" r="0.9" fill="#e4232b"/>
<circle cx="55.00" cy="26.38" r="0.9" fill="#e4232b"/>
<circle cx="68.00" cy="26.74" r="0.9" fill="#e4232b"/>
<circle cx="23.70" cy="32.05" r="0.9" fill="#e4232b"/>
<circle cx="26.00" cy="32.27" r="0.9" fill="#e4232b"/>
<circle cx="44.40" cy="31.99" r="0.9" fill="#e4232b"/>
<circle cx="47.40" cy="31.53" r="0.9" fill="#e4232b"/>
<circle cx="52.60" cy="32.31" r="0.9" fill="#e4232b"/>
<circle cx="60.40" cy="33.36" r="0.9" fill="#e4232b"/>
<circle cx="26.00" cy="38.90" r="0.9" fill="#e4232b"/>
<circle cx="46.60" cy="38.27" r="0.9" fill="#e4232b"/>
<circle cx="15.50" cy="42.24" r="0.9" fill="#e4232b"/>
<circle cx="18.50" cy="42.69" r="0.9" fill="#e4232b"/>
<circle cx="22.50" cy="42.04" r="0.9" fill="#e4232b"/>
<circle cx="51.50" cy="43.85" r="0.9" fill="#e4232b"/>
<circle cx="67.80" cy="44.22" r="0.9" fill="#e4232b"/>
<circle cx="6.22" cy="48.01" r="0.9" fill="#e4232b"/>
<circle cx="8.36" cy="47.69" r="0.9" fill="#e4232b"/>
<circle cx="9.59" cy="47.45" r="0.9" fill="#e4232b"/>
<circle cx="11.60" cy="47.91" r="0.9" fill="#e4232b"/>
<circle cx="13.71" cy="48.01" r="0.9" fill="#e4232b"/>
<circle cx="15.32" cy="47.59" r="0.9" fill="#e4232b"/>
<circle cx="17.93" cy="47.44" r="0.9" fill="#e4232b"/>
<circle cx="20.02" cy="47.72" r="0.9" fill="#e4232b"/>
<circle cx="21.09" cy="47.73" r="0.9" fill="#e4232b"/>
<circle cx="23.28" cy="47.27" r="0.9" fill="#e4232b"/>
<circle cx="25.30" cy="47.61" r="0.9" fill="#e4232b"/>
<circle cx="27.33" cy="47.69" r="0.9" fill="#e4232b"/>
<circle cx="28.75" cy="47.73" r="0.9" fill="#e4232b"/>
<circle cx="31.37" cy="48.08" r="0.9" fill="#e4232b"/>
<circle cx="32.51" cy="47.36" r="0.9" fill="#e4232b"/>
<circle cx="34.60" cy="48.06" r="0.9" fill="#e4232b"/>
<circle cx="35.87" cy="47.42" r="0.9" fill="#e4232b"/>
<circle cx="38.34" cy="47.37" r="0.9" fill="#e4232b"/>
<circle cx="39.41" cy="47.42" r="0.9" fill="#e4232b"/>
<circle cx="41.68" cy="47.54" r="0.9" fill="#e4232b"/>
<circle cx="43.30" cy="47.34" r="0.9" fill="#e4232b"/>
<circle cx="44.74" cy="47.71" r="0.9" fill="#e4232b"/>
<circle cx="46.43" cy="47.73" r="0.9" fill="#e4232b"/>
<circle cx="48.35" cy="47.62" r="0.9" fill="#e4232b"/>
<circle cx="56.00" cy="47.36" r="0.9" fill="#e4232b"/>
<circle cx="5.70" cy="51.12" r="0.9" fill="#e4232b"/>
<circle cx="7.80" cy="51.32" r="0.9" fill="#e4232b"/>
<circle cx="9.88" cy="50.76" r="0.9" fill="#e4232b"/>
<circle cx="11.66" cy="51.36" r="0.9" fill="#e4232b"/>
<circle cx="12.73" cy="51.38" r="0.9" fill="#e4232b"/>
<circle cx="14.91" cy="51.35" r="0.9" fill="#e4232b"/>
<circle cx="15.60" cy="51.20" r="0.9" fill="#e4232b"/>
<circle cx="32.00" cy="50.60" r="0.9" fill="#e4232b"/>
<circle cx="44.00" cy="51.33" r="0.9" fill="#e4232b"/>
<circle cx="46.00" cy="50.92" r="0.9" fill="#e4232b"/>
<circle cx="48.00" cy="51.29" r="0.9" fill="#e4232b"/>
<circle cx="50.00" cy="50.63" r="0.9" fill="#e4232b"/>
<circle cx="58.00" cy="50.90" r="0.9" fill="#e4232b"/>
<circle cx="61.50" cy="51.19" r="0.9" fill="#e4232b"/>
<circle cx="0.00" cy="53.52" r="0.9" fill="#e4232b"/>
<circle cx="2.00" cy="53.70" r="0.9" fill="#e4232b"/>
<circle cx="9.00" cy="54.18" r="0.9" fill="#e4232b"/>
<circle cx="11.00" cy="54.41" r="0.9" fill="#e4232b"/>
<circle cx="22.00" cy="54.47" r="0.9" fill="#e4232b"/>
<circle cx="24.00" cy="53.62" r="0.9" fill="#e4232b"/>
<circle cx="27.00" cy="54.01" r="0.9" fill="#e4232b"/>
<circle cx="35.00" cy="54.26" r="0.9" fill="#e4232b"/>
<circle cx="37.00" cy="54.00" r="0.9" fill="#e4232b"/>
<circle cx="38.50" cy="54.19" r="0.9" fill="#e4232b"/>
<circle cx="49.00" cy="53.69" r="0.9" fill="#e4232b"/>
<circle cx="50.60" cy="53.57" r="0.9" fill="#e4232b"/>
<circle cx="59.00" cy="53.61" r="0.9" fill="#e4232b"/>
<circle cx="56.00" cy="55.54" r="0.9" fill="#e4232b"/>
</g></g>
<g transform="translate(343 49.00)"><g clip-path="url(#tc)">
<g filter="url(#grain)"><rect x="-21.5" y="-31.6" width="120" height="120" fill="rgb(140,140,140)" filter="url(#dic0)" transform="rotate(-35 38.5 28.4)"/></g>
<g filter="url(#emb0)"><use href="#cells0"/></g>
<circle cx="6.00" cy="2.05" r="0.9" fill="#e4232b"/>
<circle cx="12.00" cy="2.01" r="0.9" fill="#e4232b"/>
<circle cx="22.00" cy="2.07" r="0.9" fill="#e4232b"/>
<circle cx="30.00" cy="1.65" r="0.9" fill="#e4232b"/>
<circle cx="2.68" cy="5.23" r="0.9" fill="#e4232b"/>
<circle cx="5.51" cy="5.88" r="0.9" fill="#e4232b"/>
<circle cx="6.09" cy="5.91" r="0.9" fill="#e4232b"/>
<circle cx="8.55" cy="5.34" r="0.9" fill="#e4232b"/>
<circle cx="10.06" cy="5.44" r="0.9" fill="#e4232b"/>
<circle cx="11.41" cy="5.68" r="0.9" fill="#e4232b"/>
<circle cx="13.60" cy="5.46" r="0.9" fill="#e4232b"/>
<circle cx="15.77" cy="5.23" r="0.9" fill="#e4232b"/>
<circle cx="17.44" cy="5.06" r="0.9" fill="#e4232b"/>
<circle cx="19.78" cy="5.68" r="0.9" fill="#e4232b"/>
<circle cx="21.64" cy="5.41" r="0.9" fill="#e4232b"/>
<circle cx="23.37" cy="5.93" r="0.9" fill="#e4232b"/>
<circle cx="25.11" cy="5.87" r="0.9" fill="#e4232b"/>
<circle cx="27.58" cy="5.78" r="0.9" fill="#e4232b"/>
<circle cx="29.42" cy="5.84" r="0.9" fill="#e4232b"/>
<circle cx="31.21" cy="5.74" r="0.9" fill="#e4232b"/>
<circle cx="32.89" cy="5.11" r="0.9" fill="#e4232b"/>
<circle cx="34.31" cy="5.06" r="0.9" fill="#e4232b"/>
<circle cx="36.17" cy="5.61" r="0.9" fill="#e4232b"/>
<circle cx="38.08" cy="5.65" r="0.9" fill="#e4232b"/>
<circle cx="39.47" cy="5.56" r="0.9" fill="#e4232b"/>
<circle cx="41.00" cy="5.95" r="0.9" fill="#e4232b"/>
<circle cx="43.20" cy="5.74" r="0.9" fill="#e4232b"/>
<circle cx="44.63" cy="5.60" r="0.9" fill="#e4232b"/>
<circle cx="46.81" cy="5.41" r="0.9" fill="#e4232b"/>
<circle cx="48.23" cy="5.39" r="0.9" fill="#e4232b"/>
<circle cx="49.80" cy="5.87" r="0.9" fill="#e4232b"/>
<circle cx="51.87" cy="5.92" r="0.9" fill="#e4232b"/>
<circle cx="54.19" cy="5.62" r="0.9" fill="#e4232b"/>
<circle cx="55.27" cy="5.59" r="0.9" fill="#e4232b"/>
<circle cx="57.20" cy="5.89" r="0.9" fill="#e4232b"/>
<circle cx="59.18" cy="5.20" r="0.9" fill="#e4232b"/>
<circle cx="12.11" cy="10.60" r="0.9" fill="#e4232b"/>
<circle cx="13.64" cy="11.02" r="0.9" fill="#e4232b"/>
<circle cx="15.11" cy="10.81" r="0.9" fill="#e4232b"/>
<circle cx="16.86" cy="10.81" r="0.9" fill="#e4232b"/>
<circle cx="18.19" cy="10.56" r="0.9" fill="#e4232b"/>
<circle cx="19.26" cy="10.69" r="0.9" fill="#e4232b"/>
<circle cx="21.22" cy="11.36" r="0.9" fill="#e4232b"/>
<circle cx="22.49" cy="11.44" r="0.9" fill="#e4232b"/>
<circle cx="24.23" cy="11.36" r="0.9" fill="#e4232b"/>
<circle cx="26.07" cy="11.43" r="0.9" fill="#e4232b"/>
<circle cx="27.44" cy="11.39" r="0.9" fill="#e4232b"/>
<circle cx="28.98" cy="11.43" r="0.9" fill="#e4232b"/>
<circle cx="30.76" cy="10.65" r="0.9" fill="#e4232b"/>
<circle cx="32.15" cy="10.73" r="0.9" fill="#e4232b"/>
<circle cx="33.45" cy="10.66" r="0.9" fill="#e4232b"/>
<circle cx="35.02" cy="10.96" r="0.9" fill="#e4232b"/>
<circle cx="36.27" cy="10.93" r="0.9" fill="#e4232b"/>
<circle cx="37.85" cy="11.45" r="0.9" fill="#e4232b"/>
<circle cx="39.78" cy="10.76" r="0.9" fill="#e4232b"/>
<circle cx="41.19" cy="11.26" r="0.9" fill="#e4232b"/>
<circle cx="42.19" cy="10.79" r="0.9" fill="#e4232b"/>
<circle cx="43.97" cy="11.08" r="0.9" fill="#e4232b"/>
<circle cx="45.71" cy="10.72" r="0.9" fill="#e4232b"/>
<circle cx="47.26" cy="11.37" r="0.9" fill="#e4232b"/>
<circle cx="48.00" cy="10.60" r="0.9" fill="#e4232b"/>
<circle cx="49.73" cy="11.11" r="0.9" fill="#e4232b"/>
<circle cx="43.04" cy="14.62" r="0.9" fill="#e4232b"/>
<circle cx="44.95" cy="15.05" r="0.9" fill="#e4232b"/>
<circle cx="46.85" cy="14.98" r="0.9" fill="#e4232b"/>
<circle cx="48.69" cy="15.22" r="0.9" fill="#e4232b"/>
<circle cx="50.79" cy="14.66" r="0.9" fill="#e4232b"/>
<circle cx="53.68" cy="15.24" r="0.9" fill="#e4232b"/>
<circle cx="55.36" cy="14.78" r="0.9" fill="#e4232b"/>
<circle cx="57.65" cy="15.14" r="0.9" fill="#e4232b"/>
<circle cx="60.10" cy="15.04" r="0.9" fill="#e4232b"/>
<circle cx="62.99" cy="14.93" r="0.9" fill="#e4232b"/>
<circle cx="64.16" cy="15.34" r="0.9" fill="#e4232b"/>
<circle cx="65.91" cy="15.06" r="0.9" fill="#e4232b"/>
<circle cx="68.60" cy="14.82" r="0.9" fill="#e4232b"/>
<circle cx="70.31" cy="14.74" r="0.9" fill="#e4232b"/>
<circle cx="72.55" cy="14.82" r="0.9" fill="#e4232b"/>
<circle cx="75.44" cy="14.80" r="0.9" fill="#e4232b"/>
<circle cx="48.00" cy="18.36" r="0.9" fill="#e4232b"/>
<circle cx="59.00" cy="18.73" r="0.9" fill="#e4232b"/>
<circle cx="64.00" cy="18.37" r="0.9" fill="#e4232b"/>
<circle cx="75.00" cy="18.12" r="0.9" fill="#e4232b"/>
<circle cx="27.00" cy="28.21" r="0.9" fill="#e4232b"/>
<circle cx="2.00" cy="31.57" r="0.9" fill="#e4232b"/>
<circle cx="7.00" cy="31.92" r="0.9" fill="#e4232b"/>
<circle cx="25.00" cy="31.94" r="0.9" fill="#e4232b"/>
<circle cx="27.00" cy="31.91" r="0.9" fill="#e4232b"/>
<circle cx="29.00" cy="31.44" r="0.9" fill="#e4232b"/>
<circle cx="31.00" cy="31.80" r="0.9" fill="#e4232b"/>
<circle cx="33.00" cy="31.30" r="0.9" fill="#e4232b"/>
<circle cx="35.00" cy="31.32" r="0.9" fill="#e4232b"/>
<circle cx="37.00" cy="31.40" r="0.9" fill="#e4232b"/>
<circle cx="44.00" cy="31.93" r="0.9" fill="#e4232b"/>
<circle cx="48.00" cy="31.89" r="0.9" fill="#e4232b"/>
<circle cx="58.00" cy="31.25" r="0.9" fill="#e4232b"/>
<circle cx="5.00" cy="36.86" r="0.9" fill="#e4232b"/>
<circle cx="14.00" cy="36.87" r="0.9" fill="#e4232b"/>
<circle cx="15.00" cy="39.36" r="0.9" fill="#e4232b"/>
<circle cx="20.00" cy="39.40" r="0.9" fill="#e4232b"/>
<circle cx="33.00" cy="39.39" r="0.9" fill="#e4232b"/>
<circle cx="41.00" cy="39.19" r="0.9" fill="#e4232b"/>
<circle cx="55.00" cy="39.56" r="0.9" fill="#e4232b"/>
<circle cx="66.00" cy="39.80" r="0.9" fill="#e4232b"/>
<circle cx="0.04" cy="47.30" r="0.9" fill="#e4232b"/>
<circle cx="1.61" cy="47.23" r="0.9" fill="#e4232b"/>
<circle cx="3.88" cy="46.57" r="0.9" fill="#e4232b"/>
<circle cx="6.04" cy="47.06" r="0.9" fill="#e4232b"/>
<circle cx="8.38" cy="47.27" r="0.9" fill="#e4232b"/>
<circle cx="9.85" cy="47.26" r="0.9" fill="#e4232b"/>
<circle cx="10.97" cy="47.21" r="0.9" fill="#e4232b"/>
<circle cx="13.16" cy="47.12" r="0.9" fill="#e4232b"/>
<circle cx="15.45" cy="47.13" r="0.9" fill="#e4232b"/>
<circle cx="16.63" cy="47.24" r="0.9" fill="#e4232b"/>
<circle cx="19.08" cy="46.90" r="0.9" fill="#e4232b"/>
<circle cx="21.06" cy="47.16" r="0.9" fill="#e4232b"/>
<circle cx="22.51" cy="47.20" r="0.9" fill="#e4232b"/>
<circle cx="24.93" cy="46.92" r="0.9" fill="#e4232b"/>
<circle cx="26.81" cy="47.32" r="0.9" fill="#e4232b"/>
<circle cx="29.08" cy="47.35" r="0.9" fill="#e4232b"/>
<circle cx="31.11" cy="47.02" r="0.9" fill="#e4232b"/>
<circle cx="33.31" cy="46.93" r="0.9" fill="#e4232b"/>
<circle cx="34.49" cy="47.22" r="0.9" fill="#e4232b"/>
<circle cx="36.96" cy="46.70" r="0.9" fill="#e4232b"/>
<circle cx="38.69" cy="46.81" r="0.9" fill="#e4232b"/>
<circle cx="40.55" cy="46.83" r="0.9" fill="#e4232b"/>
<circle cx="42.75" cy="47.25" r="0.9" fill="#e4232b"/>
<circle cx="43.83" cy="46.96" r="0.9" fill="#e4232b"/>
<circle cx="46.62" cy="46.58" r="0.9" fill="#e4232b"/>
<circle cx="47.51" cy="46.75" r="0.9" fill="#e4232b"/>
<circle cx="49.74" cy="47.09" r="0.9" fill="#e4232b"/>
<circle cx="50.90" cy="46.80" r="0.9" fill="#e4232b"/>
<circle cx="53.13" cy="46.83" r="0.9" fill="#e4232b"/>
<circle cx="55.11" cy="46.98" r="0.9" fill="#e4232b"/>
<circle cx="56.90" cy="47.37" r="0.9" fill="#e4232b"/>
<circle cx="58.33" cy="47.41" r="0.9" fill="#e4232b"/>
<circle cx="59.89" cy="46.59" r="0.9" fill="#e4232b"/>
<circle cx="62.68" cy="46.90" r="0.9" fill="#e4232b"/>
<circle cx="64.30" cy="46.80" r="0.9" fill="#e4232b"/>
<circle cx="66.69" cy="46.76" r="0.9" fill="#e4232b"/>
<circle cx="68.04" cy="46.88" r="0.9" fill="#e4232b"/>
<circle cx="70.38" cy="47.10" r="0.9" fill="#e4232b"/>
<circle cx="71.47" cy="46.84" r="0.9" fill="#e4232b"/>
<circle cx="73.90" cy="47.01" r="0.9" fill="#e4232b"/>
<circle cx="0.49" cy="51.79" r="0.9" fill="#e4232b"/>
<circle cx="1.35" cy="52.24" r="0.9" fill="#e4232b"/>
<circle cx="3.38" cy="52.31" r="0.9" fill="#e4232b"/>
<circle cx="4.53" cy="51.79" r="0.9" fill="#e4232b"/>
<circle cx="6.36" cy="51.98" r="0.9" fill="#e4232b"/>
<circle cx="8.88" cy="52.08" r="0.9" fill="#e4232b"/>
<circle cx="10.14" cy="52.26" r="0.9" fill="#e4232b"/>
<circle cx="12.38" cy="51.63" r="0.9" fill="#e4232b"/>
<circle cx="13.56" cy="52.04" r="0.9" fill="#e4232b"/>
<circle cx="15.21" cy="52.30" r="0.9" fill="#e4232b"/>
<circle cx="16.92" cy="51.62" r="0.9" fill="#e4232b"/>
<circle cx="18.63" cy="52.19" r="0.9" fill="#e4232b"/>
<circle cx="20.44" cy="51.65" r="0.9" fill="#e4232b"/>
<circle cx="21.83" cy="52.42" r="0.9" fill="#e4232b"/>
<circle cx="23.91" cy="51.56" r="0.9" fill="#e4232b"/>
<circle cx="25.57" cy="51.76" r="0.9" fill="#e4232b"/>
<circle cx="27.04" cy="51.56" r="0.9" fill="#e4232b"/>
<circle cx="29.37" cy="51.74" r="0.9" fill="#e4232b"/>
<circle cx="30.62" cy="51.89" r="0.9" fill="#e4232b"/>
<circle cx="32.33" cy="51.85" r="0.9" fill="#e4232b"/>
<circle cx="34.31" cy="51.78" r="0.9" fill="#e4232b"/>
<circle cx="35.86" cy="51.85" r="0.9" fill="#e4232b"/>
<circle cx="37.66" cy="52.20" r="0.9" fill="#e4232b"/>
<circle cx="39.50" cy="51.63" r="0.9" fill="#e4232b"/>
<circle cx="40.21" cy="52.16" r="0.9" fill="#e4232b"/>
<circle cx="42.11" cy="51.91" r="0.9" fill="#e4232b"/>
<circle cx="44.42" cy="51.63" r="0.9" fill="#e4232b"/>
<circle cx="45.49" cy="51.66" r="0.9" fill="#e4232b"/>
<circle cx="47.03" cy="52.38" r="0.9" fill="#e4232b"/>
<circle cx="49.10" cy="52.13" r="0.9" fill="#e4232b"/>
<circle cx="51.26" cy="51.90" r="0.9" fill="#e4232b"/>
<circle cx="52.42" cy="51.56" r="0.9" fill="#e4232b"/>
<circle cx="54.33" cy="52.43" r="0.9" fill="#e4232b"/>
<circle cx="56.15" cy="52.10" r="0.9" fill="#e4232b"/>
<circle cx="57.20" cy="51.86" r="0.9" fill="#e4232b"/>
<circle cx="58.75" cy="51.89" r="0.9" fill="#e4232b"/>
<circle cx="61.12" cy="52.29" r="0.9" fill="#e4232b"/>
<circle cx="62.24" cy="52.24" r="0.9" fill="#e4232b"/>
<circle cx="64.56" cy="51.87" r="0.9" fill="#e4232b"/>
<circle cx="65.84" cy="52.19" r="0.9" fill="#e4232b"/>
<circle cx="68.20" cy="52.19" r="0.9" fill="#e4232b"/>
<circle cx="69.78" cy="52.40" r="0.9" fill="#e4232b"/>
<circle cx="71.54" cy="51.62" r="0.9" fill="#e4232b"/>
</g></g>
<g transform="translate(422 49.00)"><g clip-path="url(#tc)">
<g filter="url(#grain)"><rect x="-21.5" y="-31.6" width="120" height="120" fill="rgb(140,140,140)" filter="url(#dic0)" transform="rotate(-35 38.5 28.4)"/></g>
<g filter="url(#emb0)"><use href="#cells0"/></g>
<circle cx="0.08" cy="4.18" r="0.9" fill="#e4232b"/>
<circle cx="1.80" cy="3.88" r="0.9" fill="#e4232b"/>
<circle cx="2.45" cy="4.43" r="0.9" fill="#e4232b"/>
<circle cx="4.49" cy="4.04" r="0.9" fill="#e4232b"/>
<circle cx="5.65" cy="3.79" r="0.9" fill="#e4232b"/>
<circle cx="7.78" cy="4.29" r="0.9" fill="#e4232b"/>
<circle cx="8.44" cy="4.29" r="0.9" fill="#e4232b"/>
<circle cx="10.57" cy="3.77" r="0.9" fill="#e4232b"/>
<circle cx="12.01" cy="3.72" r="0.9" fill="#e4232b"/>
<circle cx="12.76" cy="3.58" r="0.9" fill="#e4232b"/>
<circle cx="14.96" cy="4.40" r="0.9" fill="#e4232b"/>
<circle cx="15.84" cy="4.15" r="0.9" fill="#e4232b"/>
<circle cx="17.51" cy="4.08" r="0.9" fill="#e4232b"/>
<circle cx="18.79" cy="3.73" r="0.9" fill="#e4232b"/>
<circle cx="20.37" cy="3.90" r="0.9" fill="#e4232b"/>
<circle cx="21.91" cy="4.02" r="0.9" fill="#e4232b"/>
<circle cx="23.64" cy="3.85" r="0.9" fill="#e4232b"/>
<circle cx="24.66" cy="4.15" r="0.9" fill="#e4232b"/>
<circle cx="26.85" cy="4.09" r="0.9" fill="#e4232b"/>
<circle cx="27.76" cy="4.11" r="0.9" fill="#e4232b"/>
<circle cx="29.68" cy="4.23" r="0.9" fill="#e4232b"/>
<circle cx="31.38" cy="4.30" r="0.9" fill="#e4232b"/>
<circle cx="32.46" cy="3.94" r="0.9" fill="#e4232b"/>
<circle cx="34.46" cy="4.02" r="0.9" fill="#e4232b"/>
<circle cx="35.47" cy="4.36" r="0.9" fill="#e4232b"/>
<circle cx="36.47" cy="4.20" r="0.9" fill="#e4232b"/>
<circle cx="38.84" cy="4.09" r="0.9" fill="#e4232b"/>
<circle cx="40.02" cy="4.08" r="0.9" fill="#e4232b"/>
<circle cx="41.07" cy="3.95" r="0.9" fill="#e4232b"/>
<circle cx="42.81" cy="3.60" r="0.9" fill="#e4232b"/>
<circle cx="44.52" cy="3.77" r="0.9" fill="#e4232b"/>
<circle cx="45.75" cy="3.76" r="0.9" fill="#e4232b"/>
<circle cx="47.50" cy="4.42" r="0.9" fill="#e4232b"/>
<circle cx="49.02" cy="3.93" r="0.9" fill="#e4232b"/>
<circle cx="50.01" cy="4.22" r="0.9" fill="#e4232b"/>
<circle cx="52.20" cy="3.64" r="0.9" fill="#e4232b"/>
<circle cx="53.06" cy="4.03" r="0.9" fill="#e4232b"/>
<circle cx="54.65" cy="3.77" r="0.9" fill="#e4232b"/>
<circle cx="56.34" cy="3.61" r="0.9" fill="#e4232b"/>
<circle cx="58.52" cy="3.91" r="0.9" fill="#e4232b"/>
<circle cx="59.68" cy="3.59" r="0.9" fill="#e4232b"/>
<circle cx="61.20" cy="3.83" r="0.9" fill="#e4232b"/>
<circle cx="62.70" cy="4.43" r="0.9" fill="#e4232b"/>
<circle cx="63.43" cy="3.82" r="0.9" fill="#e4232b"/>
<circle cx="65.83" cy="3.73" r="0.9" fill="#e4232b"/>
<circle cx="66.94" cy="3.98" r="0.9" fill="#e4232b"/>
<circle cx="68.76" cy="4.45" r="0.9" fill="#e4232b"/>
<circle cx="69.81" cy="3.72" r="0.9" fill="#e4232b"/>
<circle cx="70.91" cy="3.65" r="0.9" fill="#e4232b"/>
<circle cx="-0.19" cy="11.86" r="0.9" fill="#e4232b"/>
<circle cx="2.01" cy="11.17" r="0.9" fill="#e4232b"/>
<circle cx="3.93" cy="11.45" r="0.9" fill="#e4232b"/>
<circle cx="4.53" cy="11.33" r="0.9" fill="#e4232b"/>
<circle cx="6.21" cy="11.21" r="0.9" fill="#e4232b"/>
<circle cx="8.09" cy="11.76" r="0.9" fill="#e4232b"/>
<circle cx="9.59" cy="11.85" r="0.9" fill="#e4232b"/>
<circle cx="10.79" cy="11.32" r="0.9" fill="#e4232b"/>
<circle cx="13.05" cy="11.30" r="0.9" fill="#e4232b"/>
<circle cx="14.14" cy="11.93" r="0.9" fill="#e4232b"/>
<circle cx="16.11" cy="11.53" r="0.9" fill="#e4232b"/>
<circle cx="17.49" cy="11.31" r="0.9" fill="#e4232b"/>
<circle cx="19.12" cy="11.13" r="0.9" fill="#e4232b"/>
<circle cx="20.52" cy="11.27" r="0.9" fill="#e4232b"/>
<circle cx="21.75" cy="11.22" r="0.9" fill="#e4232b"/>
<circle cx="24.00" cy="11.08" r="0.9" fill="#e4232b"/>
<circle cx="25.32" cy="11.40" r="0.9" fill="#e4232b"/>
<circle cx="26.90" cy="11.21" r="0.9" fill="#e4232b"/>
<circle cx="28.65" cy="11.37" r="0.9" fill="#e4232b"/>
<circle cx="30.46" cy="11.52" r="0.9" fill="#e4232b"/>
<circle cx="32.10" cy="11.67" r="0.9" fill="#e4232b"/>
<circle cx="33.80" cy="11.21" r="0.9" fill="#e4232b"/>
<circle cx="34.75" cy="11.60" r="0.9" fill="#e4232b"/>
<circle cx="36.44" cy="11.75" r="0.9" fill="#e4232b"/>
<circle cx="38.54" cy="11.26" r="0.9" fill="#e4232b"/>
<circle cx="39.54" cy="11.57" r="0.9" fill="#e4232b"/>
<circle cx="40.93" cy="11.59" r="0.9" fill="#e4232b"/>
<circle cx="43.17" cy="11.84" r="0.9" fill="#e4232b"/>
<circle cx="44.13" cy="11.07" r="0.9" fill="#e4232b"/>
<circle cx="45.99" cy="11.45" r="0.9" fill="#e4232b"/>
<circle cx="47.78" cy="11.12" r="0.9" fill="#e4232b"/>
<circle cx="40.07" cy="15.54" r="0.9" fill="#e4232b"/>
<circle cx="42.07" cy="15.18" r="0.9" fill="#e4232b"/>
<circle cx="43.82" cy="15.33" r="0.9" fill="#e4232b"/>
<circle cx="46.50" cy="15.29" r="0.9" fill="#e4232b"/>
<circle cx="48.24" cy="15.79" r="0.9" fill="#e4232b"/>
<circle cx="50.24" cy="15.19" r="0.9" fill="#e4232b"/>
<circle cx="53.07" cy="15.76" r="0.9" fill="#e4232b"/>
<circle cx="54.40" cy="15.38" r="0.9" fill="#e4232b"/>
<circle cx="56.83" cy="15.09" r="0.9" fill="#e4232b"/>
<circle cx="58.71" cy="15.94" r="0.9" fill="#e4232b"/>
<circle cx="60.22" cy="15.72" r="0.9" fill="#e4232b"/>
<circle cx="61.74" cy="15.85" r="0.9" fill="#e4232b"/>
<circle cx="63.71" cy="15.32" r="0.9" fill="#e4232b"/>
<circle cx="65.43" cy="15.08" r="0.9" fill="#e4232b"/>
<circle cx="68.61" cy="15.71" r="0.9" fill="#e4232b"/>
<circle cx="69.99" cy="15.55" r="0.9" fill="#e4232b"/>
<circle cx="72.09" cy="15.89" r="0.9" fill="#e4232b"/>
<circle cx="73.96" cy="15.93" r="0.9" fill="#e4232b"/>
<circle cx="49.00" cy="19.54" r="0.9" fill="#e4232b"/>
<circle cx="55.00" cy="19.90" r="0.9" fill="#e4232b"/>
<circle cx="62.00" cy="20.15" r="0.9" fill="#e4232b"/>
<circle cx="69.00" cy="19.56" r="0.9" fill="#e4232b"/>
<circle cx="75.00" cy="19.84" r="0.9" fill="#e4232b"/>
<circle cx="20.00" cy="31.19" r="0.9" fill="#e4232b"/>
<circle cx="30.00" cy="31.36" r="0.9" fill="#e4232b"/>
<circle cx="33.00" cy="31.09" r="0.9" fill="#e4232b"/>
<circle cx="35.00" cy="31.39" r="0.9" fill="#e4232b"/>
<circle cx="60.00" cy="30.96" r="0.9" fill="#e4232b"/>
<circle cx="1.00" cy="36.89" r="0.9" fill="#e4232b"/>
<circle cx="8.00" cy="37.34" r="0.9" fill="#e4232b"/>
<circle cx="10.00" cy="36.88" r="0.9" fill="#e4232b"/>
<circle cx="12.00" cy="37.28" r="0.9" fill="#e4232b"/>
<circle cx="15.00" cy="36.72" r="0.9" fill="#e4232b"/>
<circle cx="21.00" cy="36.85" r="0.9" fill="#e4232b"/>
<circle cx="25.00" cy="36.68" r="0.9" fill="#e4232b"/>
<circle cx="32.00" cy="37.05" r="0.9" fill="#e4232b"/>
<circle cx="0.00" cy="39.66" r="0.9" fill="#e4232b"/>
<circle cx="3.00" cy="39.70" r="0.9" fill="#e4232b"/>
<circle cx="6.00" cy="39.71" r="0.9" fill="#e4232b"/>
<circle cx="9.00" cy="39.97" r="0.9" fill="#e4232b"/>
<circle cx="12.00" cy="39.81" r="0.9" fill="#e4232b"/>
<circle cx="50.00" cy="39.95" r="0.9" fill="#e4232b"/>
<circle cx="62.00" cy="40.49" r="0.9" fill="#e4232b"/>
<circle cx="69.00" cy="40.18" r="0.9" fill="#e4232b"/>
<circle cx="20.36" cy="45.73" r="0.9" fill="#e4232b"/>
<circle cx="21.58" cy="46.17" r="0.9" fill="#e4232b"/>
<circle cx="23.77" cy="45.57" r="0.9" fill="#e4232b"/>
<circle cx="25.60" cy="45.90" r="0.9" fill="#e4232b"/>
<circle cx="28.50" cy="45.79" r="0.9" fill="#e4232b"/>
<circle cx="29.92" cy="46.39" r="0.9" fill="#e4232b"/>
<circle cx="32.52" cy="46.20" r="0.9" fill="#e4232b"/>
<circle cx="34.20" cy="45.84" r="0.9" fill="#e4232b"/>
<circle cx="36.27" cy="46.34" r="0.9" fill="#e4232b"/>
<circle cx="38.92" cy="46.02" r="0.9" fill="#e4232b"/>
<circle cx="40.29" cy="45.76" r="0.9" fill="#e4232b"/>
<circle cx="41.78" cy="46.09" r="0.9" fill="#e4232b"/>
<circle cx="43.67" cy="45.93" r="0.9" fill="#e4232b"/>
<circle cx="45.62" cy="46.19" r="0.9" fill="#e4232b"/>
<circle cx="48.12" cy="46.15" r="0.9" fill="#e4232b"/>
<circle cx="49.42" cy="45.80" r="0.9" fill="#e4232b"/>
<circle cx="51.89" cy="45.90" r="0.9" fill="#e4232b"/>
<circle cx="54.10" cy="45.81" r="0.9" fill="#e4232b"/>
<circle cx="56.07" cy="45.59" r="0.9" fill="#e4232b"/>
<circle cx="58.20" cy="46.06" r="0.9" fill="#e4232b"/>
<circle cx="60.90" cy="45.82" r="0.9" fill="#e4232b"/>
<circle cx="63.08" cy="45.74" r="0.9" fill="#e4232b"/>
<circle cx="65.07" cy="46.41" r="0.9" fill="#e4232b"/>
<circle cx="-0.27" cy="49.62" r="0.9" fill="#e4232b"/>
<circle cx="1.17" cy="49.40" r="0.9" fill="#e4232b"/>
<circle cx="2.35" cy="49.35" r="0.9" fill="#e4232b"/>
<circle cx="3.71" cy="49.19" r="0.9" fill="#e4232b"/>
<circle cx="5.32" cy="49.20" r="0.9" fill="#e4232b"/>
<circle cx="6.65" cy="49.13" r="0.9" fill="#e4232b"/>
<circle cx="8.21" cy="49.19" r="0.9" fill="#e4232b"/>
<circle cx="10.01" cy="49.55" r="0.9" fill="#e4232b"/>
<circle cx="10.91" cy="49.40" r="0.9" fill="#e4232b"/>
<circle cx="12.35" cy="49.41" r="0.9" fill="#e4232b"/>
<circle cx="14.00" cy="49.58" r="0.9" fill="#e4232b"/>
<circle cx="15.28" cy="49.28" r="0.9" fill="#e4232b"/>
<circle cx="16.51" cy="49.85" r="0.9" fill="#e4232b"/>
<circle cx="17.93" cy="49.65" r="0.9" fill="#e4232b"/>
<circle cx="19.43" cy="49.60" r="0.9" fill="#e4232b"/>
<circle cx="21.05" cy="49.57" r="0.9" fill="#e4232b"/>
<circle cx="23.18" cy="49.61" r="0.9" fill="#e4232b"/>
<circle cx="24.35" cy="49.42" r="0.9" fill="#e4232b"/>
<circle cx="26.12" cy="49.84" r="0.9" fill="#e4232b"/>
<circle cx="27.60" cy="49.08" r="0.9" fill="#e4232b"/>
<circle cx="28.46" cy="49.33" r="0.9" fill="#e4232b"/>
<circle cx="30.32" cy="49.18" r="0.9" fill="#e4232b"/>
<circle cx="30.87" cy="49.66" r="0.9" fill="#e4232b"/>
<circle cx="31.97" cy="49.54" r="0.9" fill="#e4232b"/>
<circle cx="33.62" cy="49.49" r="0.9" fill="#e4232b"/>
<circle cx="35.48" cy="49.61" r="0.9" fill="#e4232b"/>
<circle cx="37.27" cy="49.92" r="0.9" fill="#e4232b"/>
<circle cx="38.16" cy="49.85" r="0.9" fill="#e4232b"/>
<circle cx="39.89" cy="49.68" r="0.9" fill="#e4232b"/>
<circle cx="41.72" cy="49.79" r="0.9" fill="#e4232b"/>
<circle cx="42.65" cy="49.49" r="0.9" fill="#e4232b"/>
<circle cx="43.91" cy="49.31" r="0.9" fill="#e4232b"/>
<circle cx="45.68" cy="49.26" r="0.9" fill="#e4232b"/>
<circle cx="46.80" cy="49.21" r="0.9" fill="#e4232b"/>
<circle cx="48.08" cy="49.11" r="0.9" fill="#e4232b"/>
<circle cx="49.28" cy="49.68" r="0.9" fill="#e4232b"/>
<circle cx="50.89" cy="49.74" r="0.9" fill="#e4232b"/>
<circle cx="52.06" cy="49.83" r="0.9" fill="#e4232b"/>
<circle cx="53.63" cy="49.28" r="0.9" fill="#e4232b"/>
<circle cx="55.84" cy="49.40" r="0.9" fill="#e4232b"/>
<circle cx="56.89" cy="49.69" r="0.9" fill="#e4232b"/>
<circle cx="58.34" cy="49.73" r="0.9" fill="#e4232b"/>
<circle cx="60.50" cy="49.56" r="0.9" fill="#e4232b"/>
<circle cx="61.80" cy="49.61" r="0.9" fill="#e4232b"/>
<circle cx="63.55" cy="49.16" r="0.9" fill="#e4232b"/>
<circle cx="64.82" cy="49.26" r="0.9" fill="#e4232b"/>
<circle cx="65.46" cy="49.58" r="0.9" fill="#e4232b"/>
<circle cx="68.13" cy="49.17" r="0.9" fill="#e4232b"/>
<circle cx="69.16" cy="49.62" r="0.9" fill="#e4232b"/>
<circle cx="71.09" cy="49.94" r="0.9" fill="#e4232b"/>
<circle cx="72.08" cy="49.16" r="0.9" fill="#e4232b"/>
<circle cx="72.87" cy="49.71" r="0.9" fill="#e4232b"/>
<circle cx="74.45" cy="49.35" r="0.9" fill="#e4232b"/>
<circle cx="20.04" cy="50.98" r="0.9" fill="#e4232b"/>
<circle cx="22.01" cy="51.27" r="0.9" fill="#e4232b"/>
<circle cx="24.59" cy="50.90" r="0.9" fill="#e4232b"/>
<circle cx="27.49" cy="51.43" r="0.9" fill="#e4232b"/>
<circle cx="29.63" cy="51.04" r="0.9" fill="#e4232b"/>
<circle cx="31.65" cy="50.71" r="0.9" fill="#e4232b"/>
<circle cx="34.40" cy="50.78" r="0.9" fill="#e4232b"/>
<circle cx="35.89" cy="50.84" r="0.9" fill="#e4232b"/>
<circle cx="38.22" cy="50.68" r="0.9" fill="#e4232b"/>
<circle cx="40.35" cy="50.75" r="0.9" fill="#e4232b"/>
<circle cx="42.74" cy="50.78" r="0.9" fill="#e4232b"/>
<circle cx="44.35" cy="51.35" r="0.9" fill="#e4232b"/>
<circle cx="46.51" cy="50.71" r="0.9" fill="#e4232b"/>
<circle cx="49.72" cy="50.73" r="0.9" fill="#e4232b"/>
<circle cx="51.84" cy="50.92" r="0.9" fill="#e4232b"/>
<circle cx="54.33" cy="50.60" r="0.9" fill="#e4232b"/>
<circle cx="56.95" cy="51.11" r="0.9" fill="#e4232b"/>
<circle cx="59.35" cy="51.33" r="0.9" fill="#e4232b"/>
</g></g>
<g transform="translate(106 108.00)"><g clip-path="url(#tc)">
<g filter="url(#grain)"><rect x="-21.5" y="-31.6" width="120" height="120" fill="rgb(151,151,151)" filter="url(#dic1)" transform="rotate(-38 38.5 28.4)"/></g>
<g filter="url(#emb1)"><use href="#cells1"/></g>
<circle cx="60.00" cy="0.24" r="0.9" fill="#e4232b"/>
<circle cx="1.00" cy="8.83" r="0.9" fill="#e4232b"/>
<circle cx="4.00" cy="8.72" r="0.9" fill="#e4232b"/>
<circle cx="21.00" cy="8.18" r="0.9" fill="#e4232b"/>
<circle cx="24.00" cy="8.03" r="0.9" fill="#e4232b"/>
<circle cx="32.00" cy="8.17" r="0.9" fill="#e4232b"/>
<circle cx="35.00" cy="8.12" r="0.9" fill="#e4232b"/>
<circle cx="37.00" cy="8.07" r="0.9" fill="#e4232b"/>
<circle cx="40.00" cy="8.36" r="0.9" fill="#e4232b"/>
<circle cx="42.00" cy="8.75" r="0.9" fill="#e4232b"/>
<circle cx="45.81" cy="8.51" r="0.9" fill="#e4232b"/>
<circle cx="47.16" cy="8.91" r="0.9" fill="#e4232b"/>
<circle cx="48.93" cy="8.78" r="0.9" fill="#e4232b"/>
<circle cx="51.12" cy="8.41" r="0.9" fill="#e4232b"/>
<circle cx="53.21" cy="8.74" r="0.9" fill="#e4232b"/>
<circle cx="54.60" cy="8.91" r="0.9" fill="#e4232b"/>
<circle cx="56.92" cy="8.28" r="0.9" fill="#e4232b"/>
<circle cx="58.30" cy="8.57" r="0.9" fill="#e4232b"/>
<circle cx="60.26" cy="8.38" r="0.9" fill="#e4232b"/>
<circle cx="62.58" cy="8.38" r="0.9" fill="#e4232b"/>
<circle cx="64.00" cy="8.30" r="0.9" fill="#e4232b"/>
<circle cx="66.03" cy="8.13" r="0.9" fill="#e4232b"/>
<circle cx="68.12" cy="8.24" r="0.9" fill="#e4232b"/>
<circle cx="69.88" cy="8.66" r="0.9" fill="#e4232b"/>
<circle cx="71.00" cy="8.18" r="0.9" fill="#e4232b"/>
<circle cx="73.01" cy="8.06" r="0.9" fill="#e4232b"/>
<circle cx="74.77" cy="8.34" r="0.9" fill="#e4232b"/>
<circle cx="0.00" cy="11.95" r="0.9" fill="#e4232b"/>
<circle cx="15.00" cy="11.20" r="0.9" fill="#e4232b"/>
<circle cx="19.50" cy="11.88" r="0.9" fill="#e4232b"/>
<circle cx="32.00" cy="11.32" r="0.9" fill="#e4232b"/>
<circle cx="37.00" cy="11.75" r="0.9" fill="#e4232b"/>
<circle cx="12.00" cy="16.11" r="0.9" fill="#e4232b"/>
<circle cx="27.00" cy="21.49" r="0.9" fill="#e4232b"/>
<circle cx="23.50" cy="26.93" r="0.9" fill="#e4232b"/>
<circle cx="1.00" cy="30.46" r="0.9" fill="#e4232b"/>
<circle cx="6.00" cy="29.72" r="0.9" fill="#e4232b"/>
<circle cx="10.50" cy="29.91" r="0.9" fill="#e4232b"/>
<circle cx="41.50" cy="31.71" r="0.9" fill="#e4232b"/>
<circle cx="45.50" cy="35.18" r="0.9" fill="#e4232b"/>
<circle cx="55.50" cy="35.27" r="0.9" fill="#e4232b"/>
<circle cx="16.00" cy="39.18" r="0.9" fill="#e4232b"/>
<circle cx="49.00" cy="39.45" r="0.9" fill="#e4232b"/>
<circle cx="48.00" cy="41.32" r="0.9" fill="#e4232b"/>
<circle cx="50.00" cy="41.18" r="0.9" fill="#e4232b"/>
<circle cx="52.00" cy="41.36" r="0.9" fill="#e4232b"/>
<circle cx="7.00" cy="43.49" r="0.9" fill="#e4232b"/>
<circle cx="10.00" cy="42.65" r="0.9" fill="#e4232b"/>
<circle cx="14.00" cy="43.13" r="0.9" fill="#e4232b"/>
<circle cx="1.00" cy="46.38" r="0.9" fill="#e4232b"/>
<circle cx="5.00" cy="46.64" r="0.9" fill="#e4232b"/>
<circle cx="8.00" cy="46.21" r="0.9" fill="#e4232b"/>
<circle cx="12.00" cy="46.62" r="0.9" fill="#e4232b"/>
<circle cx="14.00" cy="46.89" r="0.9" fill="#e4232b"/>
<circle cx="16.00" cy="46.86" r="0.9" fill="#e4232b"/>
<circle cx="18.00" cy="46.63" r="0.9" fill="#e4232b"/>
<circle cx="20.00" cy="46.50" r="0.9" fill="#e4232b"/>
<circle cx="22.00" cy="46.57" r="0.9" fill="#e4232b"/>
<circle cx="23.60" cy="46.11" r="0.9" fill="#e4232b"/>
<circle cx="26.00" cy="46.84" r="0.9" fill="#e4232b"/>
<circle cx="28.00" cy="46.69" r="0.9" fill="#e4232b"/>
<circle cx="30.00" cy="46.45" r="0.9" fill="#e4232b"/>
<circle cx="32.00" cy="46.67" r="0.9" fill="#e4232b"/>
<circle cx="35.00" cy="46.42" r="0.9" fill="#e4232b"/>
<circle cx="53.00" cy="47.38" r="0.9" fill="#e4232b"/>
<circle cx="2.00" cy="51.23" r="0.9" fill="#e4232b"/>
<circle cx="35.00" cy="51.60" r="0.9" fill="#e4232b"/>
<circle cx="14.50" cy="54.07" r="0.9" fill="#e4232b"/>
</g></g>
<g transform="translate(185 108.00)"><g clip-path="url(#tc)">
<g filter="url(#grain)"><rect x="-21.5" y="-31.6" width="120" height="120" fill="rgb(151,151,151)" filter="url(#dic1)" transform="rotate(-38 38.5 28.4)"/></g>
<g filter="url(#emb1)"><use href="#cells1"/></g>
<circle cx="1.00" cy="3.02" r="0.9" fill="#e4232b"/>
<circle cx="68.00" cy="2.53" r="0.9" fill="#e4232b"/>
<circle cx="70.00" cy="3.13" r="0.9" fill="#e4232b"/>
<circle cx="72.00" cy="2.95" r="0.9" fill="#e4232b"/>
<circle cx="0.00" cy="6.09" r="0.9" fill="#e4232b"/>
<circle cx="2.00" cy="6.09" r="0.9" fill="#e4232b"/>
<circle cx="7.00" cy="6.43" r="0.9" fill="#e4232b"/>
<circle cx="12.00" cy="5.65" r="0.9" fill="#e4232b"/>
<circle cx="14.00" cy="5.97" r="0.9" fill="#e4232b"/>
<circle cx="16.00" cy="6.49" r="0.9" fill="#e4232b"/>
<circle cx="17.60" cy="6.24" r="0.9" fill="#e4232b"/>
<circle cx="19.20" cy="5.81" r="0.9" fill="#e4232b"/>
<circle cx="0.00" cy="9.24" r="0.9" fill="#e4232b"/>
<circle cx="2.00" cy="9.49" r="0.9" fill="#e4232b"/>
<circle cx="4.50" cy="8.90" r="0.9" fill="#e4232b"/>
<circle cx="6.00" cy="11.37" r="0.9" fill="#e4232b"/>
<circle cx="10.00" cy="10.63" r="0.9" fill="#e4232b"/>
<circle cx="12.00" cy="11.49" r="0.9" fill="#e4232b"/>
<circle cx="13.50" cy="10.99" r="0.9" fill="#e4232b"/>
<circle cx="0.00" cy="12.73" r="0.9" fill="#e4232b"/>
<circle cx="3.00" cy="13.34" r="0.9" fill="#e4232b"/>
<circle cx="7.00" cy="13.15" r="0.9" fill="#e4232b"/>
<circle cx="8.60" cy="13.44" r="0.9" fill="#e4232b"/>
<circle cx="21.00" cy="13.33" r="0.9" fill="#e4232b"/>
<circle cx="11.00" cy="18.80" r="0.9" fill="#e4232b"/>
<circle cx="22.50" cy="18.51" r="0.9" fill="#e4232b"/>
<circle cx="35.50" cy="18.99" r="0.9" fill="#e4232b"/>
<circle cx="38.50" cy="18.06" r="0.9" fill="#e4232b"/>
<circle cx="45.00" cy="18.87" r="0.9" fill="#e4232b"/>
<circle cx="49.00" cy="18.71" r="0.9" fill="#e4232b"/>
<circle cx="51.50" cy="18.25" r="0.9" fill="#e4232b"/>
<circle cx="60.50" cy="18.81" r="0.9" fill="#e4232b"/>
<circle cx="62.10" cy="18.45" r="0.9" fill="#e4232b"/>
<circle cx="27.00" cy="20.04" r="0.9" fill="#e4232b"/>
<circle cx="9.00" cy="24.87" r="0.9" fill="#e4232b"/>
<circle cx="32.00" cy="26.70" r="0.9" fill="#e4232b"/>
<circle cx="50.50" cy="26.78" r="0.9" fill="#e4232b"/>
<circle cx="53.00" cy="27.14" r="0.9" fill="#e4232b"/>
<circle cx="13.50" cy="29.07" r="0.9" fill="#e4232b"/>
<circle cx="15.00" cy="29.55" r="0.9" fill="#e4232b"/>
<circle cx="19.50" cy="29.79" r="0.9" fill="#e4232b"/>
<circle cx="19.00" cy="35.99" r="0.9" fill="#e4232b"/>
<circle cx="25.50" cy="35.74" r="0.9" fill="#e4232b"/>
<circle cx="35.00" cy="36.30" r="0.9" fill="#e4232b"/>
<circle cx="68.00" cy="36.36" r="0.9" fill="#e4232b"/>
<circle cx="70.00" cy="36.27" r="0.9" fill="#e4232b"/>
<circle cx="72.50" cy="36.05" r="0.9" fill="#e4232b"/>
<circle cx="2.80" cy="44.41" r="0.9" fill="#e4232b"/>
<circle cx="22.50" cy="45.30" r="0.9" fill="#e4232b"/>
<circle cx="6.00" cy="46.65" r="0.9" fill="#e4232b"/>
<circle cx="12.00" cy="46.87" r="0.9" fill="#e4232b"/>
<circle cx="14.00" cy="46.60" r="0.9" fill="#e4232b"/>
<circle cx="15.60" cy="46.54" r="0.9" fill="#e4232b"/>
<circle cx="53.00" cy="47.85" r="0.9" fill="#e4232b"/>
<circle cx="57.00" cy="48.36" r="0.9" fill="#e4232b"/>
<circle cx="58.60" cy="48.33" r="0.9" fill="#e4232b"/>
<circle cx="66.00" cy="47.62" r="0.9" fill="#e4232b"/>
<circle cx="71.00" cy="47.68" r="0.9" fill="#e4232b"/>
<circle cx="73.50" cy="47.89" r="0.9" fill="#e4232b"/>
<circle cx="34.50" cy="50.35" r="0.9" fill="#e4232b"/>
<circle cx="37.00" cy="50.12" r="0.9" fill="#e4232b"/>
<circle cx="41.50" cy="50.40" r="0.9" fill="#e4232b"/>
<circle cx="46.50" cy="49.57" r="0.9" fill="#e4232b"/>
<circle cx="48.50" cy="50.49" r="0.9" fill="#e4232b"/>
<circle cx="51.50" cy="49.71" r="0.9" fill="#e4232b"/>
<circle cx="67.00" cy="52.63" r="0.9" fill="#e4232b"/>
<circle cx="74.00" cy="52.88" r="0.9" fill="#e4232b"/>
<circle cx="12.00" cy="55.23" r="0.9" fill="#e4232b"/>
<circle cx="16.00" cy="54.70" r="0.9" fill="#e4232b"/>
<circle cx="19.00" cy="55.17" r="0.9" fill="#e4232b"/>
<circle cx="22.00" cy="54.93" r="0.9" fill="#e4232b"/>
</g></g>
<g transform="translate(264 108.00)"><g clip-path="url(#tc)">
<g filter="url(#grain)"><rect x="-21.5" y="-31.6" width="120" height="120" fill="rgb(159,159,159)" filter="url(#dic1)" transform="rotate(-38 38.5 28.4)"/></g>
<g filter="url(#emb1)"><use href="#cells1"/></g>
</g></g>
<g transform="translate(343 108.00)"><g clip-path="url(#tc)">
<g filter="url(#grain)"><rect x="-21.5" y="-31.6" width="120" height="120" fill="rgb(160,160,160)" filter="url(#dic1)" transform="rotate(-38 38.5 28.4)"/></g>
<g filter="url(#emb1)"><use href="#cells1"/></g>
</g></g>
<g transform="translate(422 108.00)"><g clip-path="url(#tc)">
<g filter="url(#grain)"><rect x="-21.5" y="-31.6" width="120" height="120" fill="rgb(159,159,159)" filter="url(#dic1)" transform="rotate(-38 38.5 28.4)"/></g>
<g filter="url(#emb1)"><use href="#cells1"/></g>
</g></g>
<g transform="translate(106 167.60)"><g clip-path="url(#tc)">
<g filter="url(#grain)"><rect x="-21.5" y="-31.6" width="120" height="120" fill="rgb(153,153,153)" filter="url(#dic2)" transform="rotate(-35 38.5 28.4)"/></g>
<g filter="url(#emb2)"><use href="#cells2"/></g>
<circle cx="5.00" cy="2.02" r="0.9" fill="#e4232b"/>
<circle cx="0.00" cy="4.84" r="0.9" fill="#e4232b"/>
<circle cx="1.50" cy="4.82" r="0.9" fill="#e4232b"/>
<circle cx="3.00" cy="5.13" r="0.9" fill="#e4232b"/>
<circle cx="4.50" cy="4.78" r="0.9" fill="#e4232b"/>
<circle cx="7.00" cy="5.10" r="0.9" fill="#e4232b"/>
<circle cx="9.00" cy="5.19" r="0.9" fill="#e4232b"/>
<circle cx="11.00" cy="4.68" r="0.9" fill="#e4232b"/>
<circle cx="13.00" cy="4.63" r="0.9" fill="#e4232b"/>
<circle cx="15.00" cy="5.19" r="0.9" fill="#e4232b"/>
<circle cx="16.50" cy="4.97" r="0.9" fill="#e4232b"/>
<circle cx="22.50" cy="4.63" r="0.9" fill="#e4232b"/>
<circle cx="25.00" cy="4.62" r="0.9" fill="#e4232b"/>
<circle cx="29.00" cy="5.44" r="0.9" fill="#e4232b"/>
<circle cx="38.50" cy="6.11" r="0.9" fill="#e4232b"/>
<circle cx="40.00" cy="5.86" r="0.9" fill="#e4232b"/>
<circle cx="44.00" cy="5.70" r="0.9" fill="#e4232b"/>
<circle cx="60.50" cy="7.99" r="0.9" fill="#e4232b"/>
<circle cx="63.00" cy="7.69" r="0.9" fill="#e4232b"/>
<circle cx="67.00" cy="7.74" r="0.9" fill="#e4232b"/>
<circle cx="71.00" cy="7.36" r="0.9" fill="#e4232b"/>
<circle cx="76.00" cy="7.31" r="0.9" fill="#e4232b"/>
<circle cx="18.00" cy="16.91" r="0.9" fill="#e4232b"/>
<circle cx="41.00" cy="18.65" r="0.9" fill="#e4232b"/>
<circle cx="12.50" cy="28.13" r="0.9" fill="#e4232b"/>
<circle cx="0.50" cy="35.42" r="0.9" fill="#e4232b"/>
<circle cx="9.50" cy="35.82" r="0.9" fill="#e4232b"/>
<circle cx="11.10" cy="35.41" r="0.9" fill="#e4232b"/>
<circle cx="14.00" cy="35.46" r="0.9" fill="#e4232b"/>
<circle cx="19.50" cy="35.51" r="0.9" fill="#e4232b"/>
<circle cx="24.50" cy="35.94" r="0.9" fill="#e4232b"/>
<circle cx="32.50" cy="35.35" r="0.9" fill="#e4232b"/>
<circle cx="35.50" cy="35.70" r="0.9" fill="#e4232b"/>
<circle cx="39.50" cy="35.24" r="0.9" fill="#e4232b"/>
<circle cx="45.50" cy="35.58" r="0.9" fill="#e4232b"/>
<circle cx="55.50" cy="37.78" r="0.9" fill="#e4232b"/>
</g></g>
<g transform="translate(185 167.60)"><g clip-path="url(#tc)">
<g filter="url(#grain)"><rect x="-21.5" y="-31.6" width="120" height="120" fill="rgb(153,153,153)" filter="url(#dic2)" transform="rotate(-35 38.5 28.4)"/></g>
<g filter="url(#emb2)"><use href="#cells2"/></g>
<circle cx="0.00" cy="4.87" r="0.9" fill="#e4232b"/>
<circle cx="5.00" cy="4.29" r="0.9" fill="#e4232b"/>
<circle cx="6.50" cy="4.85" r="0.9" fill="#e4232b"/>
<circle cx="8.00" cy="4.68" r="0.9" fill="#e4232b"/>
<circle cx="9.50" cy="4.45" r="0.9" fill="#e4232b"/>
<circle cx="11.00" cy="4.93" r="0.9" fill="#e4232b"/>
<circle cx="12.50" cy="4.39" r="0.9" fill="#e4232b"/>
<circle cx="14.00" cy="4.74" r="0.9" fill="#e4232b"/>
<circle cx="15.50" cy="4.60" r="0.9" fill="#e4232b"/>
<circle cx="17.00" cy="4.45" r="0.9" fill="#e4232b"/>
<circle cx="18.50" cy="4.06" r="0.9" fill="#e4232b"/>
<circle cx="20.00" cy="4.42" r="0.9" fill="#e4232b"/>
<circle cx="24.00" cy="6.28" r="0.9" fill="#e4232b"/>
<circle cx="29.00" cy="6.44" r="0.9" fill="#e4232b"/>
<circle cx="34.00" cy="6.95" r="0.9" fill="#e4232b"/>
<circle cx="38.00" cy="6.29" r="0.9" fill="#e4232b"/>
<circle cx="44.00" cy="6.69" r="0.9" fill="#e4232b"/>
<circle cx="47.00" cy="6.67" r="0.9" fill="#e4232b"/>
<circle cx="48.50" cy="6.24" r="0.9" fill="#e4232b"/>
<circle cx="50.00" cy="6.41" r="0.9" fill="#e4232b"/>
<circle cx="51.50" cy="6.13" r="0.9" fill="#e4232b"/>
<circle cx="53.00" cy="6.90" r="0.9" fill="#e4232b"/>
<circle cx="54.50" cy="6.25" r="0.9" fill="#e4232b"/>
<circle cx="56.00" cy="6.42" r="0.9" fill="#e4232b"/>
<circle cx="57.60" cy="6.34" r="0.9" fill="#e4232b"/>
<circle cx="60.00" cy="6.82" r="0.9" fill="#e4232b"/>
<circle cx="62.00" cy="6.85" r="0.9" fill="#e4232b"/>
<circle cx="64.00" cy="6.59" r="0.9" fill="#e4232b"/>
<circle cx="65.60" cy="6.55" r="0.9" fill="#e4232b"/>
<circle cx="72.00" cy="6.10" r="0.9" fill="#e4232b"/>
<circle cx="73.50" cy="6.90" r="0.9" fill="#e4232b"/>
<circle cx="75.00" cy="6.09" r="0.9" fill="#e4232b"/>
<circle cx="76.60" cy="6.36" r="0.9" fill="#e4232b"/>
<circle cx="31.00" cy="8.87" r="0.9" fill="#e4232b"/>
<circle cx="33.00" cy="9.22" r="0.9" fill="#e4232b"/>
<circle cx="49.00" cy="9.17" r="0.9" fill="#e4232b"/>
<circle cx="58.00" cy="8.84" r="0.9" fill="#e4232b"/>
<circle cx="57.50" cy="12.90" r="0.9" fill="#e4232b"/>
<circle cx="67.00" cy="12.95" r="0.9" fill="#e4232b"/>
<circle cx="-0.48" cy="35.62" r="0.9" fill="#e4232b"/>
<circle cx="1.31" cy="35.47" r="0.9" fill="#e4232b"/>
<circle cx="2.99" cy="35.59" r="0.9" fill="#e4232b"/>
<circle cx="5.03" cy="35.94" r="0.9" fill="#e4232b"/>
<circle cx="6.29" cy="35.63" r="0.9" fill="#e4232b"/>
<circle cx="8.04" cy="35.11" r="0.9" fill="#e4232b"/>
<circle cx="8.90" cy="35.64" r="0.9" fill="#e4232b"/>
<circle cx="10.80" cy="35.24" r="0.9" fill="#e4232b"/>
<circle cx="11.35" cy="35.41" r="0.9" fill="#e4232b"/>
<circle cx="12.89" cy="35.20" r="0.9" fill="#e4232b"/>
<circle cx="14.99" cy="35.72" r="0.9" fill="#e4232b"/>
<circle cx="16.51" cy="35.71" r="0.9" fill="#e4232b"/>
<circle cx="17.44" cy="35.47" r="0.9" fill="#e4232b"/>
<circle cx="19.38" cy="35.90" r="0.9" fill="#e4232b"/>
<circle cx="20.24" cy="35.37" r="0.9" fill="#e4232b"/>
<circle cx="22.23" cy="35.15" r="0.9" fill="#e4232b"/>
<circle cx="23.63" cy="35.51" r="0.9" fill="#e4232b"/>
<circle cx="25.16" cy="35.17" r="0.9" fill="#e4232b"/>
<circle cx="26.34" cy="35.31" r="0.9" fill="#e4232b"/>
<circle cx="27.70" cy="35.42" r="0.9" fill="#e4232b"/>
<circle cx="28.90" cy="35.46" r="0.9" fill="#e4232b"/>
<circle cx="30.64" cy="35.82" r="0.9" fill="#e4232b"/>
<circle cx="32.28" cy="35.19" r="0.9" fill="#e4232b"/>
<circle cx="33.69" cy="35.42" r="0.9" fill="#e4232b"/>
<circle cx="35.56" cy="35.92" r="0.9" fill="#e4232b"/>
<circle cx="36.13" cy="35.19" r="0.9" fill="#e4232b"/>
<circle cx="43.00" cy="35.73" r="0.9" fill="#e4232b"/>
<circle cx="48.00" cy="37.71" r="0.9" fill="#e4232b"/>
<circle cx="58.00" cy="37.16" r="0.9" fill="#e4232b"/>
<circle cx="59.50" cy="37.53" r="0.9" fill="#e4232b"/>
<circle cx="61.00" cy="37.03" r="0.9" fill="#e4232b"/>
<circle cx="63.00" cy="37.11" r="0.9" fill="#e4232b"/>
<circle cx="68.00" cy="37.30" r="0.9" fill="#e4232b"/>
<circle cx="72.00" cy="37.97" r="0.9" fill="#e4232b"/>
<circle cx="73.50" cy="37.64" r="0.9" fill="#e4232b"/>
<circle cx="75.00" cy="37.85" r="0.9" fill="#e4232b"/>
<circle cx="76.60" cy="37.05" r="0.9" fill="#e4232b"/>
</g></g>
<g transform="translate(264 167.60)"><g clip-path="url(#tc)">
<g filter="url(#grain)"><rect x="-21.5" y="-31.6" width="120" height="120" fill="rgb(154,154,154)" filter="url(#dic2)" transform="rotate(-35 38.5 28.4)"/></g>
<g filter="url(#emb2)"><use href="#cells2"/></g>
<circle cx="15.00" cy="1.42" r="0.9" fill="#e4232b"/>
<circle cx="18.00" cy="1.08" r="0.9" fill="#e4232b"/>
<circle cx="24.50" cy="1.26" r="0.9" fill="#e4232b"/>
<circle cx="8.00" cy="3.11" r="0.9" fill="#e4232b"/>
<circle cx="12.00" cy="3.92" r="0.9" fill="#e4232b"/>
<circle cx="13.50" cy="3.33" r="0.9" fill="#e4232b"/>
<circle cx="15.00" cy="3.49" r="0.9" fill="#e4232b"/>
<circle cx="16.50" cy="3.65" r="0.9" fill="#e4232b"/>
<circle cx="18.00" cy="3.89" r="0.9" fill="#e4232b"/>
<circle cx="20.00" cy="3.95" r="0.9" fill="#e4232b"/>
<circle cx="30.50" cy="3.57" r="0.9" fill="#e4232b"/>
<circle cx="0.00" cy="5.50" r="0.9" fill="#e4232b"/>
<circle cx="5.00" cy="5.90" r="0.9" fill="#e4232b"/>
<circle cx="9.00" cy="5.39" r="0.9" fill="#e4232b"/>
<circle cx="14.00" cy="5.30" r="0.9" fill="#e4232b"/>
<circle cx="23.00" cy="5.74" r="0.9" fill="#e4232b"/>
<circle cx="27.00" cy="5.26" r="0.9" fill="#e4232b"/>
<circle cx="29.00" cy="5.37" r="0.9" fill="#e4232b"/>
<circle cx="35.50" cy="7.43" r="0.9" fill="#e4232b"/>
<circle cx="39.00" cy="7.48" r="0.9" fill="#e4232b"/>
<circle cx="42.00" cy="7.36" r="0.9" fill="#e4232b"/>
<circle cx="45.00" cy="7.43" r="0.9" fill="#e4232b"/>
<circle cx="47.00" cy="7.45" r="0.9" fill="#e4232b"/>
<circle cx="49.00" cy="7.05" r="0.9" fill="#e4232b"/>
<circle cx="51.00" cy="7.84" r="0.9" fill="#e4232b"/>
<circle cx="53.00" cy="7.06" r="0.9" fill="#e4232b"/>
<circle cx="58.00" cy="7.53" r="0.9" fill="#e4232b"/>
<circle cx="60.00" cy="7.55" r="0.9" fill="#e4232b"/>
<circle cx="62.00" cy="7.40" r="0.9" fill="#e4232b"/>
<circle cx="64.00" cy="7.22" r="0.9" fill="#e4232b"/>
<circle cx="66.00" cy="7.10" r="0.9" fill="#e4232b"/>
<circle cx="68.00" cy="7.37" r="0.9" fill="#e4232b"/>
<circle cx="70.00" cy="7.31" r="0.9" fill="#e4232b"/>
<circle cx="72.00" cy="7.48" r="0.9" fill="#e4232b"/>
<circle cx="73.50" cy="7.23" r="0.9" fill="#e4232b"/>
<circle cx="75.00" cy="7.75" r="0.9" fill="#e4232b"/>
<circle cx="65.00" cy="9.99" r="0.9" fill="#e4232b"/>
<circle cx="69.00" cy="9.51" r="0.9" fill="#e4232b"/>
<circle cx="72.00" cy="9.91" r="0.9" fill="#e4232b"/>
<circle cx="73.50" cy="10.47" r="0.9" fill="#e4232b"/>
<circle cx="0.50" cy="14.51" r="0.9" fill="#e4232b"/>
<circle cx="19.50" cy="19.59" r="0.9" fill="#e4232b"/>
<circle cx="22.50" cy="19.96" r="0.9" fill="#e4232b"/>
<circle cx="25.50" cy="19.37" r="0.9" fill="#e4232b"/>
<circle cx="29.00" cy="19.60" r="0.9" fill="#e4232b"/>
<circle cx="33.00" cy="19.37" r="0.9" fill="#e4232b"/>
<circle cx="29.50" cy="20.80" r="0.9" fill="#e4232b"/>
<circle cx="22.50" cy="23.61" r="0.9" fill="#e4232b"/>
<circle cx="54.00" cy="23.59" r="0.9" fill="#e4232b"/>
<circle cx="71.00" cy="23.32" r="0.9" fill="#e4232b"/>
<circle cx="69.50" cy="25.00" r="0.9" fill="#e4232b"/>
<circle cx="55.50" cy="26.52" r="0.9" fill="#e4232b"/>
<circle cx="12.50" cy="27.75" r="0.9" fill="#e4232b"/>
<circle cx="24.00" cy="28.05" r="0.9" fill="#e4232b"/>
<circle cx="26.50" cy="28.09" r="0.9" fill="#e4232b"/>
<circle cx="56.50" cy="29.25" r="0.9" fill="#e4232b"/>
<circle cx="62.50" cy="29.27" r="0.9" fill="#e4232b"/>
<circle cx="67.00" cy="30.80" r="0.9" fill="#e4232b"/>
<circle cx="72.00" cy="30.43" r="0.9" fill="#e4232b"/>
<circle cx="76.00" cy="30.86" r="0.9" fill="#e4232b"/>
<circle cx="60.50" cy="33.40" r="0.9" fill="#e4232b"/>
<circle cx="15.00" cy="37.29" r="0.9" fill="#e4232b"/>
<circle cx="47.00" cy="37.68" r="0.9" fill="#e4232b"/>
<circle cx="48.50" cy="37.09" r="0.9" fill="#e4232b"/>
<circle cx="50.00" cy="37.98" r="0.9" fill="#e4232b"/>
<circle cx="51.50" cy="37.83" r="0.9" fill="#e4232b"/>
<circle cx="53.00" cy="37.33" r="0.9" fill="#e4232b"/>
<circle cx="54.50" cy="37.32" r="0.9" fill="#e4232b"/>
<circle cx="56.50" cy="37.82" r="0.9" fill="#e4232b"/>
<circle cx="58.00" cy="37.79" r="0.9" fill="#e4232b"/>
<circle cx="22.00" cy="39.14" r="0.9" fill="#e4232b"/>
<circle cx="25.00" cy="38.56" r="0.9" fill="#e4232b"/>
<circle cx="56.00" cy="39.26" r="0.9" fill="#e4232b"/>
<circle cx="59.50" cy="38.55" r="0.9" fill="#e4232b"/>
<circle cx="63.00" cy="39.12" r="0.9" fill="#e4232b"/>
<circle cx="66.00" cy="39.05" r="0.9" fill="#e4232b"/>
<circle cx="67.50" cy="39.43" r="0.9" fill="#e4232b"/>
<circle cx="69.00" cy="39.14" r="0.9" fill="#e4232b"/>
<circle cx="70.50" cy="38.52" r="0.9" fill="#e4232b"/>
<circle cx="73.00" cy="39.43" r="0.9" fill="#e4232b"/>
<circle cx="76.00" cy="39.25" r="0.9" fill="#e4232b"/>
<circle cx="12.00" cy="41.08" r="0.9" fill="#e4232b"/>
<circle cx="18.00" cy="40.51" r="0.9" fill="#e4232b"/>
<circle cx="1.50" cy="43.74" r="0.9" fill="#e4232b"/>
<circle cx="10.50" cy="46.92" r="0.9" fill="#e4232b"/>
<circle cx="13.00" cy="47.18" r="0.9" fill="#e4232b"/>
<circle cx="15.00" cy="47.48" r="0.9" fill="#e4232b"/>
<circle cx="64.00" cy="49.42" r="0.9" fill="#e4232b"/>
<circle cx="67.00" cy="48.57" r="0.9" fill="#e4232b"/>
<circle cx="72.50" cy="49.28" r="0.9" fill="#e4232b"/>
<circle cx="2.50" cy="51.94" r="0.9" fill="#e4232b"/>
<circle cx="50.50" cy="53.75" r="0.9" fill="#e4232b"/>
<circle cx="33.00" cy="55.38" r="0.9" fill="#e4232b"/>
</g></g>
<g transform="translate(343 167.60)"><g clip-path="url(#tc)">
<g filter="url(#grain)"><rect x="-21.5" y="-31.6" width="120" height="120" fill="rgb(153,153,153)" filter="url(#dic2)" transform="rotate(-35 38.5 28.4)"/></g>
<g filter="url(#emb2)"><use href="#cells2"/></g>
<circle cx="1.00" cy="3.45" r="0.9" fill="#e4232b"/>
<circle cx="9.00" cy="3.44" r="0.9" fill="#e4232b"/>
<circle cx="12.50" cy="3.12" r="0.9" fill="#e4232b"/>
<circle cx="21.00" cy="4.32" r="0.9" fill="#e4232b"/>
<circle cx="24.00" cy="4.73" r="0.9" fill="#e4232b"/>
<circle cx="29.50" cy="4.07" r="0.9" fill="#e4232b"/>
<circle cx="31.50" cy="4.12" r="0.9" fill="#e4232b"/>
<circle cx="36.00" cy="4.83" r="0.9" fill="#e4232b"/>
<circle cx="39.00" cy="4.67" r="0.9" fill="#e4232b"/>
<circle cx="45.00" cy="4.55" r="0.9" fill="#e4232b"/>
<circle cx="48.50" cy="4.11" r="0.9" fill="#e4232b"/>
<circle cx="35.50" cy="5.62" r="0.9" fill="#e4232b"/>
<circle cx="38.00" cy="5.81" r="0.9" fill="#e4232b"/>
<circle cx="57.00" cy="6.45" r="0.9" fill="#e4232b"/>
<circle cx="61.00" cy="6.06" r="0.9" fill="#e4232b"/>
<circle cx="64.50" cy="6.42" r="0.9" fill="#e4232b"/>
<circle cx="68.00" cy="5.71" r="0.9" fill="#e4232b"/>
<circle cx="69.50" cy="5.91" r="0.9" fill="#e4232b"/>
<circle cx="71.00" cy="6.04" r="0.9" fill="#e4232b"/>
<circle cx="72.50" cy="6.34" r="0.9" fill="#e4232b"/>
<circle cx="74.00" cy="5.62" r="0.9" fill="#e4232b"/>
<circle cx="76.00" cy="6.37" r="0.9" fill="#e4232b"/>
<circle cx="56.50" cy="6.97" r="0.9" fill="#e4232b"/>
<circle cx="52.00" cy="10.03" r="0.9" fill="#e4232b"/>
<circle cx="58.50" cy="10.43" r="0.9" fill="#e4232b"/>
<circle cx="62.50" cy="10.38" r="0.9" fill="#e4232b"/>
<circle cx="68.00" cy="10.67" r="0.9" fill="#e4232b"/>
<circle cx="69.50" cy="10.93" r="0.9" fill="#e4232b"/>
<circle cx="71.00" cy="10.49" r="0.9" fill="#e4232b"/>
<circle cx="4.50" cy="17.69" r="0.9" fill="#e4232b"/>
<circle cx="38.00" cy="17.39" r="0.9" fill="#e4232b"/>
<circle cx="45.50" cy="17.78" r="0.9" fill="#e4232b"/>
<circle cx="16.00" cy="26.61" r="0.9" fill="#e4232b"/>
<circle cx="41.00" cy="28.74" r="0.9" fill="#e4232b"/>
<circle cx="43.00" cy="28.17" r="0.9" fill="#e4232b"/>
<circle cx="48.00" cy="28.59" r="0.9" fill="#e4232b"/>
<circle cx="50.00" cy="28.20" r="0.9" fill="#e4232b"/>
<circle cx="64.50" cy="28.35" r="0.9" fill="#e4232b"/>
<circle cx="68.00" cy="28.16" r="0.9" fill="#e4232b"/>
<circle cx="5.00" cy="31.35" r="0.9" fill="#e4232b"/>
<circle cx="9.50" cy="31.59" r="0.9" fill="#e4232b"/>
<circle cx="12.50" cy="31.52" r="0.9" fill="#e4232b"/>
<circle cx="15.00" cy="31.39" r="0.9" fill="#e4232b"/>
<circle cx="16.50" cy="31.57" r="0.9" fill="#e4232b"/>
<circle cx="18.10" cy="31.84" r="0.9" fill="#e4232b"/>
<circle cx="22.00" cy="31.36" r="0.9" fill="#e4232b"/>
<circle cx="23.50" cy="31.58" r="0.9" fill="#e4232b"/>
<circle cx="46.50" cy="32.98" r="0.9" fill="#e4232b"/>
<circle cx="52.50" cy="33.48" r="0.9" fill="#e4232b"/>
<circle cx="62.50" cy="39.33" r="0.9" fill="#e4232b"/>
<circle cx="65.50" cy="39.70" r="0.9" fill="#e4232b"/>
<circle cx="68.00" cy="39.23" r="0.9" fill="#e4232b"/>
<circle cx="75.00" cy="39.26" r="0.9" fill="#e4232b"/>
<circle cx="54.00" cy="42.23" r="0.9" fill="#e4232b"/>
<circle cx="6.00" cy="43.57" r="0.9" fill="#e4232b"/>
<circle cx="39.00" cy="43.26" r="0.9" fill="#e4232b"/>
<circle cx="58.50" cy="43.06" r="0.9" fill="#e4232b"/>
<circle cx="74.00" cy="44.82" r="0.9" fill="#e4232b"/>
<circle cx="2.50" cy="47.38" r="0.9" fill="#e4232b"/>
<circle cx="10.50" cy="47.72" r="0.9" fill="#e4232b"/>
<circle cx="12.00" cy="47.43" r="0.9" fill="#e4232b"/>
<circle cx="16.00" cy="47.62" r="0.9" fill="#e4232b"/>
<circle cx="17.60" cy="47.56" r="0.9" fill="#e4232b"/>
<circle cx="19.20" cy="47.98" r="0.9" fill="#e4232b"/>
<circle cx="22.00" cy="47.91" r="0.9" fill="#e4232b"/>
<circle cx="23.50" cy="47.46" r="0.9" fill="#e4232b"/>
<circle cx="25.00" cy="47.49" r="0.9" fill="#e4232b"/>
<circle cx="34.50" cy="47.23" r="0.9" fill="#e4232b"/>
<circle cx="64.00" cy="49.25" r="0.9" fill="#e4232b"/>
<circle cx="67.50" cy="48.60" r="0.9" fill="#e4232b"/>
<circle cx="72.00" cy="48.81" r="0.9" fill="#e4232b"/>
<circle cx="75.00" cy="49.35" r="0.9" fill="#e4232b"/>
</g></g>
<g transform="translate(422 167.60)"><g clip-path="url(#tc)">
<g filter="url(#grain)"><rect x="-21.5" y="-31.6" width="120" height="120" fill="rgb(153,153,153)" filter="url(#dic2)" transform="rotate(-35 38.5 28.4)"/></g>
<g filter="url(#emb2)"><use href="#cells2"/></g>
<circle cx="0.00" cy="3.04" r="0.9" fill="#e4232b"/>
<circle cx="1.50" cy="3.70" r="0.9" fill="#e4232b"/>
<circle cx="3.00" cy="3.57" r="0.9" fill="#e4232b"/>
<circle cx="4.50" cy="3.55" r="0.9" fill="#e4232b"/>
<circle cx="6.00" cy="3.33" r="0.9" fill="#e4232b"/>
<circle cx="8.00" cy="3.15" r="0.9" fill="#e4232b"/>
<circle cx="10.50" cy="3.95" r="0.9" fill="#e4232b"/>
<circle cx="12.00" cy="3.76" r="0.9" fill="#e4232b"/>
<circle cx="13.50" cy="3.81" r="0.9" fill="#e4232b"/>
<circle cx="15.10" cy="3.10" r="0.9" fill="#e4232b"/>
<circle cx="21.00" cy="3.78" r="0.9" fill="#e4232b"/>
<circle cx="25.50" cy="3.22" r="0.9" fill="#e4232b"/>
<circle cx="27.50" cy="3.20" r="0.9" fill="#e4232b"/>
<circle cx="35.00" cy="3.53" r="0.9" fill="#e4232b"/>
<circle cx="21.50" cy="7.11" r="0.9" fill="#e4232b"/>
<circle cx="23.10" cy="6.62" r="0.9" fill="#e4232b"/>
<circle cx="44.00" cy="7.26" r="0.9" fill="#e4232b"/>
<circle cx="25.50" cy="10.58" r="0.9" fill="#e4232b"/>
<circle cx="29.00" cy="10.90" r="0.9" fill="#e4232b"/>
<circle cx="31.00" cy="10.92" r="0.9" fill="#e4232b"/>
<circle cx="0.00" cy="15.19" r="0.9" fill="#e4232b"/>
<circle cx="0.00" cy="23.86" r="0.9" fill="#e4232b"/>
<circle cx="2.00" cy="28.45" r="0.9" fill="#e4232b"/>
<circle cx="18.50" cy="28.22" r="0.9" fill="#e4232b"/>
<circle cx="24.50" cy="27.79" r="0.9" fill="#e4232b"/>
<circle cx="29.00" cy="29.36" r="0.9" fill="#e4232b"/>
<circle cx="30.50" cy="29.23" r="0.9" fill="#e4232b"/>
<circle cx="32.00" cy="28.76" r="0.9" fill="#e4232b"/>
<circle cx="33.60" cy="28.75" r="0.9" fill="#e4232b"/>
<circle cx="43.00" cy="28.52" r="0.9" fill="#e4232b"/>
<circle cx="45.00" cy="29.04" r="0.9" fill="#e4232b"/>
<circle cx="46.50" cy="28.75" r="0.9" fill="#e4232b"/>
<circle cx="48.00" cy="28.79" r="0.9" fill="#e4232b"/>
<circle cx="54.00" cy="30.25" r="0.9" fill="#e4232b"/>
<circle cx="57.00" cy="30.13" r="0.9" fill="#e4232b"/>
<circle cx="59.00" cy="30.48" r="0.9" fill="#e4232b"/>
<circle cx="62.50" cy="30.27" r="0.9" fill="#e4232b"/>
<circle cx="67.00" cy="30.29" r="0.9" fill="#e4232b"/>
<circle cx="71.00" cy="30.28" r="0.9" fill="#e4232b"/>
<circle cx="26.50" cy="31.51" r="0.9" fill="#e4232b"/>
<circle cx="51.50" cy="44.37" r="0.9" fill="#e4232b"/>
<circle cx="54.50" cy="43.66" r="0.9" fill="#e4232b"/>
<circle cx="59.00" cy="44.36" r="0.9" fill="#e4232b"/>
<circle cx="49.50" cy="53.35" r="0.9" fill="#e4232b"/>
<circle cx="53.50" cy="53.11" r="0.9" fill="#e4232b"/>
<circle cx="64.50" cy="55.04" r="0.9" fill="#e4232b"/>
<circle cx="68.00" cy="55.23" r="0.9" fill="#e4232b"/>
<circle cx="74.50" cy="55.03" r="0.9" fill="#e4232b"/>
</g></g>
<g transform="translate(106 227.00)"><g clip-path="url(#tc)">
<g filter="url(#grain)"><rect x="-21.5" y="-31.6" width="120" height="120" fill="rgb(146,146,146)" filter="url(#dic3)" transform="rotate(-20 38.5 28.4)"/></g>
<g filter="url(#emb3)"><use href="#cells3"/></g>
<circle cx="38.00" cy="0.66" r="0.9" fill="#e4232b"/>
<circle cx="42.00" cy="0.92" r="0.9" fill="#e4232b"/>
<circle cx="45.00" cy="0.78" r="0.9" fill="#e4232b"/>
<circle cx="50.00" cy="0.26" r="0.9" fill="#e4232b"/>
<circle cx="57.00" cy="0.05" r="0.9" fill="#e4232b"/>
<circle cx="4.50" cy="14.94" r="0.9" fill="#e4232b"/>
<circle cx="9.00" cy="14.36" r="0.9" fill="#e4232b"/>
<circle cx="15.00" cy="14.79" r="0.9" fill="#e4232b"/>
<circle cx="20.50" cy="14.23" r="0.9" fill="#e4232b"/>
<circle cx="24.00" cy="14.45" r="0.9" fill="#e4232b"/>
<circle cx="27.50" cy="14.37" r="0.9" fill="#e4232b"/>
<circle cx="29.00" cy="14.73" r="0.9" fill="#e4232b"/>
<circle cx="31.00" cy="14.94" r="0.9" fill="#e4232b"/>
<circle cx="32.50" cy="14.51" r="0.9" fill="#e4232b"/>
<circle cx="34.00" cy="14.57" r="0.9" fill="#e4232b"/>
<circle cx="40.00" cy="14.35" r="0.9" fill="#e4232b"/>
<circle cx="41.50" cy="14.23" r="0.9" fill="#e4232b"/>
<circle cx="43.00" cy="14.95" r="0.9" fill="#e4232b"/>
<circle cx="44.50" cy="14.11" r="0.9" fill="#e4232b"/>
<circle cx="46.00" cy="14.94" r="0.9" fill="#e4232b"/>
<circle cx="48.00" cy="14.66" r="0.9" fill="#e4232b"/>
<circle cx="50.50" cy="14.07" r="0.9" fill="#e4232b"/>
<circle cx="52.00" cy="14.90" r="0.9" fill="#e4232b"/>
<circle cx="55.50" cy="14.10" r="0.9" fill="#e4232b"/>
<circle cx="59.00" cy="14.57" r="0.9" fill="#e4232b"/>
<circle cx="61.00" cy="14.12" r="0.9" fill="#e4232b"/>
<circle cx="63.00" cy="14.99" r="0.9" fill="#e4232b"/>
<circle cx="64.60" cy="14.31" r="0.9" fill="#e4232b"/>
<circle cx="66.20" cy="14.87" r="0.9" fill="#e4232b"/>
<circle cx="67.80" cy="14.06" r="0.9" fill="#e4232b"/>
<circle cx="69.40" cy="14.67" r="0.9" fill="#e4232b"/>
<circle cx="71.00" cy="14.07" r="0.9" fill="#e4232b"/>
<circle cx="72.60" cy="14.03" r="0.9" fill="#e4232b"/>
<circle cx="74.20" cy="14.57" r="0.9" fill="#e4232b"/>
<circle cx="75.80" cy="14.98" r="0.9" fill="#e4232b"/>
<circle cx="1.00" cy="20.69" r="0.9" fill="#e4232b"/>
<circle cx="9.00" cy="30.86" r="0.9" fill="#e4232b"/>
<circle cx="17.00" cy="30.78" r="0.9" fill="#e4232b"/>
<circle cx="20.00" cy="30.52" r="0.9" fill="#e4232b"/>
<circle cx="38.50" cy="31.58" r="0.9" fill="#e4232b"/>
<circle cx="40.00" cy="32.03" r="0.9" fill="#e4232b"/>
<circle cx="42.00" cy="31.68" r="0.9" fill="#e4232b"/>
<circle cx="52.00" cy="32.03" r="0.9" fill="#e4232b"/>
<circle cx="53.50" cy="31.85" r="0.9" fill="#e4232b"/>
<circle cx="55.00" cy="32.00" r="0.9" fill="#e4232b"/>
<circle cx="56.50" cy="31.70" r="0.9" fill="#e4232b"/>
<circle cx="58.00" cy="32.21" r="0.9" fill="#e4232b"/>
<circle cx="59.50" cy="31.92" r="0.9" fill="#e4232b"/>
<circle cx="61.00" cy="31.99" r="0.9" fill="#e4232b"/>
<circle cx="62.50" cy="31.58" r="0.9" fill="#e4232b"/>
<circle cx="64.00" cy="31.99" r="0.9" fill="#e4232b"/>
<circle cx="66.00" cy="32.06" r="0.9" fill="#e4232b"/>
<circle cx="68.00" cy="32.47" r="0.9" fill="#e4232b"/>
<circle cx="69.50" cy="32.06" r="0.9" fill="#e4232b"/>
<circle cx="71.00" cy="31.63" r="0.9" fill="#e4232b"/>
<circle cx="72.50" cy="31.80" r="0.9" fill="#e4232b"/>
<circle cx="74.00" cy="31.84" r="0.9" fill="#e4232b"/>
<circle cx="75.60" cy="32.20" r="0.9" fill="#e4232b"/>
<circle cx="1.00" cy="35.94" r="0.9" fill="#e4232b"/>
<circle cx="5.00" cy="35.98" r="0.9" fill="#e4232b"/>
<circle cx="32.50" cy="35.95" r="0.9" fill="#e4232b"/>
<circle cx="2.50" cy="38.43" r="0.9" fill="#e4232b"/>
<circle cx="65.00" cy="38.36" r="0.9" fill="#e4232b"/>
<circle cx="2.00" cy="40.93" r="0.9" fill="#e4232b"/>
<circle cx="6.50" cy="40.02" r="0.9" fill="#e4232b"/>
<circle cx="16.50" cy="40.49" r="0.9" fill="#e4232b"/>
<circle cx="18.50" cy="40.59" r="0.9" fill="#e4232b"/>
<circle cx="25.50" cy="40.69" r="0.9" fill="#e4232b"/>
<circle cx="2.00" cy="43.61" r="0.9" fill="#e4232b"/>
<circle cx="5.50" cy="43.61" r="0.9" fill="#e4232b"/>
<circle cx="2.50" cy="54.43" r="0.9" fill="#e4232b"/>
<circle cx="6.50" cy="53.59" r="0.9" fill="#e4232b"/>
<circle cx="9.50" cy="54.02" r="0.9" fill="#e4232b"/>
<circle cx="17.00" cy="54.46" r="0.9" fill="#e4232b"/>
<circle cx="30.00" cy="53.53" r="0.9" fill="#e4232b"/>
<circle cx="31.60" cy="53.61" r="0.9" fill="#e4232b"/>
<circle cx="34.00" cy="54.37" r="0.9" fill="#e4232b"/>
<circle cx="39.00" cy="54.46" r="0.9" fill="#e4232b"/>
<circle cx="44.00" cy="53.52" r="0.9" fill="#e4232b"/>
<circle cx="51.00" cy="53.53" r="0.9" fill="#e4232b"/>
<circle cx="62.00" cy="54.33" r="0.9" fill="#e4232b"/>
<circle cx="70.00" cy="54.19" r="0.9" fill="#e4232b"/>
</g></g>
<g transform="translate(185 227.00)"><g clip-path="url(#tc)">
<g filter="url(#grain)"><rect x="-21.5" y="-31.6" width="120" height="120" fill="rgb(139,139,139)" filter="url(#dic3)" transform="rotate(-20 38.5 28.4)"/></g>
<g filter="url(#emb3)"><use href="#cells3"/></g>
<circle cx="70.00" cy="2.52" r="0.9" fill="#e4232b"/>
<circle cx="2.50" cy="12.58" r="0.9" fill="#e4232b"/>
<circle cx="5.50" cy="12.76" r="0.9" fill="#e4232b"/>
<circle cx="8.00" cy="12.81" r="0.9" fill="#e4232b"/>
<circle cx="16.50" cy="13.00" r="0.9" fill="#e4232b"/>
<circle cx="18.10" cy="13.07" r="0.9" fill="#e4232b"/>
<circle cx="19.70" cy="13.79" r="0.9" fill="#e4232b"/>
<circle cx="24.50" cy="13.98" r="0.9" fill="#e4232b"/>
<circle cx="27.50" cy="13.83" r="0.9" fill="#e4232b"/>
<circle cx="31.00" cy="13.41" r="0.9" fill="#e4232b"/>
<circle cx="35.50" cy="13.34" r="0.9" fill="#e4232b"/>
<circle cx="37.00" cy="13.35" r="0.9" fill="#e4232b"/>
<circle cx="38.50" cy="13.01" r="0.9" fill="#e4232b"/>
<circle cx="40.00" cy="13.77" r="0.9" fill="#e4232b"/>
<circle cx="41.50" cy="13.26" r="0.9" fill="#e4232b"/>
<circle cx="43.00" cy="13.59" r="0.9" fill="#e4232b"/>
<circle cx="44.50" cy="13.53" r="0.9" fill="#e4232b"/>
<circle cx="46.00" cy="13.34" r="0.9" fill="#e4232b"/>
<circle cx="49.00" cy="13.67" r="0.9" fill="#e4232b"/>
<circle cx="51.50" cy="13.45" r="0.9" fill="#e4232b"/>
<circle cx="59.50" cy="13.23" r="0.9" fill="#e4232b"/>
<circle cx="62.50" cy="13.88" r="0.9" fill="#e4232b"/>
<circle cx="64.50" cy="13.18" r="0.9" fill="#e4232b"/>
<circle cx="66.00" cy="13.15" r="0.9" fill="#e4232b"/>
<circle cx="68.00" cy="13.25" r="0.9" fill="#e4232b"/>
<circle cx="71.50" cy="13.48" r="0.9" fill="#e4232b"/>
<circle cx="66.50" cy="20.28" r="0.9" fill="#e4232b"/>
<circle cx="67.00" cy="22.33" r="0.9" fill="#e4232b"/>
<circle cx="32.50" cy="24.74" r="0.9" fill="#e4232b"/>
<circle cx="23.00" cy="27.65" r="0.9" fill="#e4232b"/>
<circle cx="39.50" cy="28.26" r="0.9" fill="#e4232b"/>
<circle cx="26.50" cy="30.02" r="0.9" fill="#e4232b"/>
<circle cx="31.00" cy="29.75" r="0.9" fill="#e4232b"/>
<circle cx="36.50" cy="30.38" r="0.9" fill="#e4232b"/>
<circle cx="39.00" cy="29.68" r="0.9" fill="#e4232b"/>
<circle cx="47.50" cy="29.73" r="0.9" fill="#e4232b"/>
<circle cx="54.50" cy="29.80" r="0.9" fill="#e4232b"/>
<circle cx="56.00" cy="29.83" r="0.9" fill="#e4232b"/>
<circle cx="59.00" cy="30.23" r="0.9" fill="#e4232b"/>
<circle cx="66.50" cy="30.17" r="0.9" fill="#e4232b"/>
<circle cx="44.00" cy="31.79" r="0.9" fill="#e4232b"/>
<circle cx="0.50" cy="35.04" r="0.9" fill="#e4232b"/>
<circle cx="2.00" cy="34.58" r="0.9" fill="#e4232b"/>
<circle cx="5.50" cy="35.26" r="0.9" fill="#e4232b"/>
<circle cx="7.10" cy="34.74" r="0.9" fill="#e4232b"/>
<circle cx="8.70" cy="34.72" r="0.9" fill="#e4232b"/>
<circle cx="10.30" cy="34.91" r="0.9" fill="#e4232b"/>
<circle cx="15.50" cy="35.49" r="0.9" fill="#e4232b"/>
<circle cx="14.00" cy="37.87" r="0.9" fill="#e4232b"/>
<circle cx="5.50" cy="41.36" r="0.9" fill="#e4232b"/>
<circle cx="8.00" cy="41.91" r="0.9" fill="#e4232b"/>
<circle cx="23.50" cy="41.99" r="0.9" fill="#e4232b"/>
<circle cx="1.50" cy="45.39" r="0.9" fill="#e4232b"/>
<circle cx="30.50" cy="45.14" r="0.9" fill="#e4232b"/>
<circle cx="27.00" cy="48.29" r="0.9" fill="#e4232b"/>
<circle cx="7.00" cy="50.28" r="0.9" fill="#e4232b"/>
<circle cx="19.00" cy="49.84" r="0.9" fill="#e4232b"/>
<circle cx="23.50" cy="50.29" r="0.9" fill="#e4232b"/>
<circle cx="46.50" cy="49.88" r="0.9" fill="#e4232b"/>
<circle cx="50.00" cy="49.79" r="0.9" fill="#e4232b"/>
<circle cx="33.00" cy="51.59" r="0.9" fill="#e4232b"/>
<circle cx="59.50" cy="51.74" r="0.9" fill="#e4232b"/>
<circle cx="2.00" cy="53.48" r="0.9" fill="#e4232b"/>
<circle cx="6.50" cy="53.82" r="0.9" fill="#e4232b"/>
<circle cx="10.00" cy="53.01" r="0.9" fill="#e4232b"/>
<circle cx="13.00" cy="53.50" r="0.9" fill="#e4232b"/>
<circle cx="14.60" cy="53.38" r="0.9" fill="#e4232b"/>
<circle cx="16.20" cy="53.07" r="0.9" fill="#e4232b"/>
<circle cx="17.80" cy="53.91" r="0.9" fill="#e4232b"/>
<circle cx="19.40" cy="53.14" r="0.9" fill="#e4232b"/>
<circle cx="21.00" cy="53.21" r="0.9" fill="#e4232b"/>
<circle cx="24.00" cy="53.88" r="0.9" fill="#e4232b"/>
<circle cx="32.50" cy="53.96" r="0.9" fill="#e4232b"/>
<circle cx="35.00" cy="53.93" r="0.9" fill="#e4232b"/>
<circle cx="45.00" cy="53.34" r="0.9" fill="#e4232b"/>
<circle cx="48.00" cy="53.93" r="0.9" fill="#e4232b"/>
<circle cx="50.50" cy="53.14" r="0.9" fill="#e4232b"/>
<circle cx="54.50" cy="53.71" r="0.9" fill="#e4232b"/>
<circle cx="57.00" cy="53.95" r="0.9" fill="#e4232b"/>
<circle cx="61.00" cy="53.19" r="0.9" fill="#e4232b"/>
<circle cx="65.00" cy="53.14" r="0.9" fill="#e4232b"/>
<circle cx="68.50" cy="53.68" r="0.9" fill="#e4232b"/>
<circle cx="71.50" cy="53.88" r="0.9" fill="#e4232b"/>
</g></g>
<g transform="translate(264 227.00)"><g clip-path="url(#tc)">
<g filter="url(#grain)"><rect x="-21.5" y="-31.6" width="120" height="120" fill="rgb(137,137,137)" filter="url(#dic3)" transform="rotate(-20 38.5 28.4)"/></g>
<g filter="url(#emb3)"><use href="#cells3"/></g>
<circle cx="15.50" cy="11.23" r="0.9" fill="#e4232b"/>
<circle cx="19.50" cy="11.45" r="0.9" fill="#e4232b"/>
<circle cx="23.00" cy="10.95" r="0.9" fill="#e4232b"/>
<circle cx="28.50" cy="10.87" r="0.9" fill="#e4232b"/>
<circle cx="30.10" cy="10.62" r="0.9" fill="#e4232b"/>
<circle cx="31.70" cy="10.77" r="0.9" fill="#e4232b"/>
<circle cx="33.30" cy="11.44" r="0.9" fill="#e4232b"/>
<circle cx="38.50" cy="10.57" r="0.9" fill="#e4232b"/>
<circle cx="49.00" cy="10.68" r="0.9" fill="#e4232b"/>
<circle cx="50.60" cy="10.85" r="0.9" fill="#e4232b"/>
<circle cx="52.50" cy="10.55" r="0.9" fill="#e4232b"/>
<circle cx="60.50" cy="10.81" r="0.9" fill="#e4232b"/>
<circle cx="62.00" cy="10.68" r="0.9" fill="#e4232b"/>
<circle cx="59.00" cy="14.12" r="0.9" fill="#e4232b"/>
<circle cx="62.50" cy="14.53" r="0.9" fill="#e4232b"/>
<circle cx="76.00" cy="14.54" r="0.9" fill="#e4232b"/>
<circle cx="62.00" cy="16.57" r="0.9" fill="#e4232b"/>
<circle cx="67.50" cy="21.26" r="0.9" fill="#e4232b"/>
<circle cx="8.50" cy="28.03" r="0.9" fill="#e4232b"/>
<circle cx="30.00" cy="29.45" r="0.9" fill="#e4232b"/>
<circle cx="37.00" cy="28.58" r="0.9" fill="#e4232b"/>
<circle cx="49.50" cy="28.72" r="0.9" fill="#e4232b"/>
<circle cx="56.50" cy="28.58" r="0.9" fill="#e4232b"/>
<circle cx="15.00" cy="36.31" r="0.9" fill="#e4232b"/>
<circle cx="14.00" cy="40.26" r="0.9" fill="#e4232b"/>
<circle cx="15.50" cy="40.42" r="0.9" fill="#e4232b"/>
<circle cx="4.00" cy="41.00" r="0.9" fill="#e4232b"/>
<circle cx="17.00" cy="42.16" r="0.9" fill="#e4232b"/>
<circle cx="62.00" cy="45.83" r="0.9" fill="#e4232b"/>
<circle cx="52.50" cy="52.07" r="0.9" fill="#e4232b"/>
<circle cx="60.00" cy="52.29" r="0.9" fill="#e4232b"/>
<circle cx="66.00" cy="53.79" r="0.9" fill="#e4232b"/>
<circle cx="11.50" cy="55.97" r="0.9" fill="#e4232b"/>
<circle cx="24.00" cy="55.46" r="0.9" fill="#e4232b"/>
</g></g>
<g transform="translate(343 227.00)"><g clip-path="url(#tc)">
<g filter="url(#grain)"><rect x="-21.5" y="-31.6" width="120" height="120" fill="rgb(132,132,132)" filter="url(#dic3)" transform="rotate(-20 38.5 28.4)"/></g>
<g filter="url(#emb3)"><use href="#cells3"/></g>
<rect x="0" y="0" width="77" height="56.8" fill="url(#gR2)"/>
<circle cx="6.50" cy="11.10" r="0.9" fill="#e4232b"/>
<circle cx="12.50" cy="11.35" r="0.9" fill="#e4232b"/>
<circle cx="35.50" cy="10.97" r="0.9" fill="#e4232b"/>
<circle cx="45.50" cy="10.69" r="0.9" fill="#e4232b"/>
<circle cx="47.00" cy="11.44" r="0.9" fill="#e4232b"/>
<circle cx="49.00" cy="11.48" r="0.9" fill="#e4232b"/>
<circle cx="51.00" cy="10.52" r="0.9" fill="#e4232b"/>
<circle cx="56.00" cy="11.26" r="0.9" fill="#e4232b"/>
<circle cx="62.00" cy="10.90" r="0.9" fill="#e4232b"/>
<circle cx="47.00" cy="12.05" r="0.9" fill="#e4232b"/>
<circle cx="49.50" cy="12.16" r="0.9" fill="#e4232b"/>
<circle cx="28.50" cy="28.17" r="0.9" fill="#e4232b"/>
<circle cx="49.50" cy="28.74" r="0.9" fill="#e4232b"/>
<circle cx="56.50" cy="28.21" r="0.9" fill="#e4232b"/>
<circle cx="68.00" cy="28.02" r="0.9" fill="#e4232b"/>
<circle cx="7.00" cy="35.22" r="0.9" fill="#e4232b"/>
<circle cx="13.50" cy="39.80" r="0.9" fill="#e4232b"/>
<circle cx="44.50" cy="39.50" r="0.9" fill="#e4232b"/>
<circle cx="2.00" cy="40.65" r="0.9" fill="#e4232b"/>
<circle cx="0.50" cy="46.47" r="0.9" fill="#e4232b"/>
<circle cx="51.00" cy="52.18" r="0.9" fill="#e4232b"/>
<circle cx="8.00" cy="53.02" r="0.9" fill="#e4232b"/>
<circle cx="64.00" cy="53.30" r="0.9" fill="#e4232b"/>
<circle cx="73.50" cy="53.04" r="0.9" fill="#e4232b"/>
<circle cx="2.00" cy="55.26" r="0.9" fill="#e4232b"/>
<circle cx="11.00" cy="55.62" r="0.9" fill="#e4232b"/>
<circle cx="13.50" cy="55.37" r="0.9" fill="#e4232b"/>
<circle cx="17.50" cy="55.47" r="0.9" fill="#e4232b"/>
<circle cx="26.00" cy="55.62" r="0.9" fill="#e4232b"/>
</g></g>
<g transform="translate(422 227.00)"><g clip-path="url(#tc)">
<g filter="url(#grain)"><rect x="-21.5" y="-31.6" width="120" height="120" fill="rgb(124,124,124)" filter="url(#dic3)" transform="rotate(-20 38.5 28.4)"/></g>
<g filter="url(#emb3)"><use href="#cells3"/></g>
<rect x="0" y="0" width="77" height="56.8" fill="url(#gR)"/>
<circle cx="75.00" cy="2.82" r="0.9" fill="#e4232b"/>
<circle cx="12.00" cy="9.86" r="0.9" fill="#e4232b"/>
<circle cx="13.60" cy="10.38" r="0.9" fill="#e4232b"/>
<circle cx="45.50" cy="11.58" r="0.9" fill="#e4232b"/>
<circle cx="47.50" cy="11.42" r="0.9" fill="#e4232b"/>
<circle cx="50.00" cy="11.54" r="0.9" fill="#e4232b"/>
<circle cx="53.00" cy="11.46" r="0.9" fill="#e4232b"/>
<circle cx="50.00" cy="13.33" r="0.9" fill="#e4232b"/>
<circle cx="61.00" cy="13.91" r="0.9" fill="#e4232b"/>
<circle cx="62.50" cy="13.23" r="0.9" fill="#e4232b"/>
<circle cx="63.50" cy="21.44" r="0.9" fill="#e4232b"/>
<circle cx="63.50" cy="26.85" r="0.9" fill="#e4232b"/>
<circle cx="54.00" cy="28.38" r="0.9" fill="#e4232b"/>
<circle cx="66.50" cy="29.16" r="0.9" fill="#e4232b"/>
<circle cx="7.00" cy="34.51" r="0.9" fill="#e4232b"/>
<circle cx="1.00" cy="36.98" r="0.9" fill="#e4232b"/>
<circle cx="12.00" cy="38.29" r="0.9" fill="#e4232b"/>
<circle cx="44.50" cy="40.67" r="0.9" fill="#e4232b"/>
<circle cx="0.50" cy="55.72" r="0.9" fill="#e4232b"/>
<circle cx="26.00" cy="55.24" r="0.9" fill="#e4232b"/>
<circle cx="30.00" cy="55.58" r="0.9" fill="#e4232b"/>
<circle cx="33.00" cy="55.16" r="0.9" fill="#e4232b"/>
<circle cx="38.00" cy="55.95" r="0.9" fill="#e4232b"/>
</g></g>
<g transform="translate(106 286.40)"><g clip-path="url(#tc)">
<g filter="url(#grain)"><rect x="-21.5" y="-31.6" width="120" height="120" fill="rgb(150,150,150)" filter="url(#dic4)" transform="rotate(-55 38.5 28.4)"/></g>
<g filter="url(#emb4)"><use href="#cells4"/></g>
<circle cx="3.00" cy="6.78" r="0.9" fill="#e4232b"/>
<circle cx="6.00" cy="6.60" r="0.9" fill="#e4232b"/>
<circle cx="9.00" cy="7.19" r="0.9" fill="#e4232b"/>
<circle cx="23.50" cy="6.85" r="0.9" fill="#e4232b"/>
<circle cx="25.00" cy="7.06" r="0.9" fill="#e4232b"/>
<circle cx="27.00" cy="7.00" r="0.9" fill="#e4232b"/>
<circle cx="29.00" cy="7.42" r="0.9" fill="#e4232b"/>
<circle cx="32.00" cy="7.01" r="0.9" fill="#e4232b"/>
<circle cx="38.00" cy="6.88" r="0.9" fill="#e4232b"/>
<circle cx="45.00" cy="6.50" r="0.9" fill="#e4232b"/>
<circle cx="46.50" cy="7.00" r="0.9" fill="#e4232b"/>
<circle cx="48.00" cy="6.77" r="0.9" fill="#e4232b"/>
<circle cx="50.00" cy="7.07" r="0.9" fill="#e4232b"/>
<circle cx="53.00" cy="7.13" r="0.9" fill="#e4232b"/>
<circle cx="56.00" cy="6.96" r="0.9" fill="#e4232b"/>
<circle cx="58.00" cy="6.59" r="0.9" fill="#e4232b"/>
<circle cx="60.00" cy="7.00" r="0.9" fill="#e4232b"/>
<circle cx="62.00" cy="6.98" r="0.9" fill="#e4232b"/>
<circle cx="64.00" cy="7.14" r="0.9" fill="#e4232b"/>
<circle cx="66.00" cy="7.47" r="0.9" fill="#e4232b"/>
<circle cx="68.00" cy="6.78" r="0.9" fill="#e4232b"/>
<circle cx="70.00" cy="6.94" r="0.9" fill="#e4232b"/>
<circle cx="72.00" cy="6.58" r="0.9" fill="#e4232b"/>
<circle cx="75.00" cy="7.30" r="0.9" fill="#e4232b"/>
<circle cx="55.00" cy="9.73" r="0.9" fill="#e4232b"/>
<circle cx="68.00" cy="10.33" r="0.9" fill="#e4232b"/>
<circle cx="73.00" cy="10.30" r="0.9" fill="#e4232b"/>
<circle cx="10.00" cy="15.25" r="0.9" fill="#e4232b"/>
<circle cx="11.50" cy="15.90" r="0.9" fill="#e4232b"/>
<circle cx="19.00" cy="17.00" r="0.9" fill="#e4232b"/>
<circle cx="27.50" cy="16.93" r="0.9" fill="#e4232b"/>
<circle cx="31.50" cy="17.06" r="0.9" fill="#e4232b"/>
<circle cx="37.00" cy="17.45" r="0.9" fill="#e4232b"/>
<circle cx="40.50" cy="16.99" r="0.9" fill="#e4232b"/>
<circle cx="64.50" cy="18.48" r="0.9" fill="#e4232b"/>
<circle cx="70.50" cy="18.29" r="0.9" fill="#e4232b"/>
<circle cx="74.00" cy="18.84" r="0.9" fill="#e4232b"/>
<circle cx="0.50" cy="23.50" r="0.9" fill="#e4232b"/>
<circle cx="3.50" cy="23.34" r="0.9" fill="#e4232b"/>
<circle cx="8.00" cy="23.20" r="0.9" fill="#e4232b"/>
<circle cx="10.50" cy="23.22" r="0.9" fill="#e4232b"/>
<circle cx="12.00" cy="23.83" r="0.9" fill="#e4232b"/>
<circle cx="13.50" cy="23.80" r="0.9" fill="#e4232b"/>
<circle cx="15.00" cy="23.98" r="0.9" fill="#e4232b"/>
<circle cx="16.60" cy="23.92" r="0.9" fill="#e4232b"/>
<circle cx="25.19" cy="24.77" r="0.9" fill="#e4232b"/>
<circle cx="27.01" cy="24.77" r="0.9" fill="#e4232b"/>
<circle cx="28.40" cy="24.32" r="0.9" fill="#e4232b"/>
<circle cx="29.92" cy="24.07" r="0.9" fill="#e4232b"/>
<circle cx="30.93" cy="24.76" r="0.9" fill="#e4232b"/>
<circle cx="33.14" cy="24.89" r="0.9" fill="#e4232b"/>
<circle cx="33.95" cy="24.65" r="0.9" fill="#e4232b"/>
<circle cx="36.21" cy="24.83" r="0.9" fill="#e4232b"/>
<circle cx="36.88" cy="24.67" r="0.9" fill="#e4232b"/>
<circle cx="39.41" cy="24.61" r="0.9" fill="#e4232b"/>
<circle cx="40.50" cy="24.10" r="0.9" fill="#e4232b"/>
<circle cx="42.34" cy="24.76" r="0.9" fill="#e4232b"/>
<circle cx="43.94" cy="24.90" r="0.9" fill="#e4232b"/>
<circle cx="45.52" cy="24.40" r="0.9" fill="#e4232b"/>
<circle cx="46.53" cy="24.19" r="0.9" fill="#e4232b"/>
<circle cx="48.49" cy="24.64" r="0.9" fill="#e4232b"/>
<circle cx="50.70" cy="24.51" r="0.9" fill="#e4232b"/>
<circle cx="51.74" cy="24.22" r="0.9" fill="#e4232b"/>
<circle cx="53.82" cy="24.90" r="0.9" fill="#e4232b"/>
<circle cx="55.53" cy="24.87" r="0.9" fill="#e4232b"/>
<circle cx="57.01" cy="24.61" r="0.9" fill="#e4232b"/>
<circle cx="58.68" cy="24.35" r="0.9" fill="#e4232b"/>
<circle cx="59.87" cy="24.49" r="0.9" fill="#e4232b"/>
<circle cx="61.51" cy="24.53" r="0.9" fill="#e4232b"/>
<circle cx="62.95" cy="24.27" r="0.9" fill="#e4232b"/>
<circle cx="64.18" cy="24.27" r="0.9" fill="#e4232b"/>
<circle cx="65.14" cy="24.10" r="0.9" fill="#e4232b"/>
<circle cx="67.09" cy="24.90" r="0.9" fill="#e4232b"/>
<circle cx="68.63" cy="24.42" r="0.9" fill="#e4232b"/>
<circle cx="70.11" cy="24.91" r="0.9" fill="#e4232b"/>
<circle cx="71.42" cy="24.67" r="0.9" fill="#e4232b"/>
<circle cx="73.27" cy="24.63" r="0.9" fill="#e4232b"/>
<circle cx="0.50" cy="27.40" r="0.9" fill="#e4232b"/>
<circle cx="3.50" cy="26.75" r="0.9" fill="#e4232b"/>
<circle cx="10.50" cy="27.04" r="0.9" fill="#e4232b"/>
<circle cx="16.00" cy="27.50" r="0.9" fill="#e4232b"/>
<circle cx="16.00" cy="28.53" r="0.9" fill="#e4232b"/>
<circle cx="1.00" cy="48.69" r="0.9" fill="#e4232b"/>
<circle cx="3.50" cy="49.27" r="0.9" fill="#e4232b"/>
<circle cx="6.50" cy="48.56" r="0.9" fill="#e4232b"/>
<circle cx="9.00" cy="48.65" r="0.9" fill="#e4232b"/>
<circle cx="12.00" cy="49.05" r="0.9" fill="#e4232b"/>
<circle cx="15.50" cy="48.77" r="0.9" fill="#e4232b"/>
<circle cx="19.50" cy="49.22" r="0.9" fill="#e4232b"/>
<circle cx="25.50" cy="49.23" r="0.9" fill="#e4232b"/>
<circle cx="37.50" cy="50.32" r="0.9" fill="#e4232b"/>
<circle cx="47.50" cy="50.77" r="0.9" fill="#e4232b"/>
<circle cx="49.00" cy="50.65" r="0.9" fill="#e4232b"/>
<circle cx="50.50" cy="50.71" r="0.9" fill="#e4232b"/>
<circle cx="52.00" cy="50.46" r="0.9" fill="#e4232b"/>
<circle cx="53.50" cy="50.43" r="0.9" fill="#e4232b"/>
<circle cx="55.00" cy="50.11" r="0.9" fill="#e4232b"/>
<circle cx="57.00" cy="50.47" r="0.9" fill="#e4232b"/>
<circle cx="62.00" cy="50.95" r="0.9" fill="#e4232b"/>
<circle cx="63.50" cy="50.89" r="0.9" fill="#e4232b"/>
<circle cx="65.00" cy="50.06" r="0.9" fill="#e4232b"/>
<circle cx="66.50" cy="50.07" r="0.9" fill="#e4232b"/>
<circle cx="68.00" cy="50.27" r="0.9" fill="#e4232b"/>
<circle cx="69.50" cy="50.69" r="0.9" fill="#e4232b"/>
<circle cx="71.00" cy="50.44" r="0.9" fill="#e4232b"/>
<circle cx="72.50" cy="50.13" r="0.9" fill="#e4232b"/>
<circle cx="74.00" cy="50.43" r="0.9" fill="#e4232b"/>
<circle cx="75.60" cy="50.57" r="0.9" fill="#e4232b"/>
</g></g>
<g transform="translate(185 286.40)"><g clip-path="url(#tc)">
<g filter="url(#grain)"><rect x="-21.5" y="-31.6" width="120" height="120" fill="rgb(149,149,149)" filter="url(#dic4)" transform="rotate(-55 38.5 28.4)"/></g>
<g filter="url(#emb4)"><use href="#cells4"/></g>
<circle cx="2.00" cy="5.74" r="0.9" fill="#e4232b"/>
<circle cx="5.00" cy="5.40" r="0.9" fill="#e4232b"/>
<circle cx="11.00" cy="5.65" r="0.9" fill="#e4232b"/>
<circle cx="20.00" cy="7.18" r="0.9" fill="#e4232b"/>
<circle cx="22.00" cy="7.12" r="0.9" fill="#e4232b"/>
<circle cx="24.00" cy="6.55" r="0.9" fill="#e4232b"/>
<circle cx="26.00" cy="7.21" r="0.9" fill="#e4232b"/>
<circle cx="29.00" cy="6.63" r="0.9" fill="#e4232b"/>
<circle cx="33.00" cy="6.55" r="0.9" fill="#e4232b"/>
<circle cx="40.00" cy="6.97" r="0.9" fill="#e4232b"/>
<circle cx="42.00" cy="6.52" r="0.9" fill="#e4232b"/>
<circle cx="44.00" cy="6.57" r="0.9" fill="#e4232b"/>
<circle cx="46.00" cy="6.89" r="0.9" fill="#e4232b"/>
<circle cx="53.00" cy="6.97" r="0.9" fill="#e4232b"/>
<circle cx="55.00" cy="6.61" r="0.9" fill="#e4232b"/>
<circle cx="58.00" cy="7.45" r="0.9" fill="#e4232b"/>
<circle cx="61.00" cy="7.35" r="0.9" fill="#e4232b"/>
<circle cx="63.00" cy="6.99" r="0.9" fill="#e4232b"/>
<circle cx="65.00" cy="7.09" r="0.9" fill="#e4232b"/>
<circle cx="68.00" cy="6.82" r="0.9" fill="#e4232b"/>
<circle cx="2.00" cy="11.48" r="0.9" fill="#e4232b"/>
<circle cx="6.00" cy="10.62" r="0.9" fill="#e4232b"/>
<circle cx="21.00" cy="10.80" r="0.9" fill="#e4232b"/>
<circle cx="26.00" cy="10.72" r="0.9" fill="#e4232b"/>
<circle cx="35.00" cy="11.37" r="0.9" fill="#e4232b"/>
<circle cx="45.50" cy="13.01" r="0.9" fill="#e4232b"/>
<circle cx="0.00" cy="14.91" r="0.9" fill="#e4232b"/>
<circle cx="3.00" cy="14.90" r="0.9" fill="#e4232b"/>
<circle cx="5.50" cy="15.39" r="0.9" fill="#e4232b"/>
<circle cx="7.50" cy="14.76" r="0.9" fill="#e4232b"/>
<circle cx="11.00" cy="15.29" r="0.9" fill="#e4232b"/>
<circle cx="12.50" cy="15.21" r="0.9" fill="#e4232b"/>
<circle cx="14.00" cy="14.95" r="0.9" fill="#e4232b"/>
<circle cx="15.50" cy="14.87" r="0.9" fill="#e4232b"/>
<circle cx="17.00" cy="14.94" r="0.9" fill="#e4232b"/>
<circle cx="18.60" cy="14.95" r="0.9" fill="#e4232b"/>
<circle cx="25.50" cy="14.82" r="0.9" fill="#e4232b"/>
<circle cx="27.00" cy="15.12" r="0.9" fill="#e4232b"/>
<circle cx="28.50" cy="14.91" r="0.9" fill="#e4232b"/>
<circle cx="30.00" cy="14.80" r="0.9" fill="#e4232b"/>
<circle cx="31.50" cy="15.27" r="0.9" fill="#e4232b"/>
<circle cx="33.00" cy="14.96" r="0.9" fill="#e4232b"/>
<circle cx="34.50" cy="14.97" r="0.9" fill="#e4232b"/>
<circle cx="36.00" cy="15.38" r="0.9" fill="#e4232b"/>
<circle cx="43.00" cy="14.95" r="0.9" fill="#e4232b"/>
<circle cx="44.50" cy="14.88" r="0.9" fill="#e4232b"/>
<circle cx="46.00" cy="15.40" r="0.9" fill="#e4232b"/>
<circle cx="47.50" cy="15.48" r="0.9" fill="#e4232b"/>
<circle cx="49.00" cy="15.29" r="0.9" fill="#e4232b"/>
<circle cx="50.50" cy="14.90" r="0.9" fill="#e4232b"/>
<circle cx="52.00" cy="15.17" r="0.9" fill="#e4232b"/>
<circle cx="58.00" cy="15.24" r="0.9" fill="#e4232b"/>
<circle cx="61.00" cy="14.80" r="0.9" fill="#e4232b"/>
<circle cx="64.00" cy="15.22" r="0.9" fill="#e4232b"/>
<circle cx="67.00" cy="15.45" r="0.9" fill="#e4232b"/>
<circle cx="70.00" cy="15.16" r="0.9" fill="#e4232b"/>
<circle cx="74.00" cy="15.17" r="0.9" fill="#e4232b"/>
<circle cx="6.00" cy="18.94" r="0.9" fill="#e4232b"/>
<circle cx="17.00" cy="23.15" r="0.9" fill="#e4232b"/>
<circle cx="25.50" cy="22.73" r="0.9" fill="#e4232b"/>
<circle cx="28.50" cy="23.27" r="0.9" fill="#e4232b"/>
<circle cx="0.50" cy="26.54" r="0.9" fill="#e4232b"/>
<circle cx="9.00" cy="26.98" r="0.9" fill="#e4232b"/>
<circle cx="12.00" cy="26.34" r="0.9" fill="#e4232b"/>
<circle cx="18.00" cy="26.71" r="0.9" fill="#e4232b"/>
<circle cx="21.50" cy="26.02" r="0.9" fill="#e4232b"/>
<circle cx="54.50" cy="26.42" r="0.9" fill="#e4232b"/>
<circle cx="56.50" cy="26.77" r="0.9" fill="#e4232b"/>
<circle cx="65.00" cy="26.26" r="0.9" fill="#e4232b"/>
<circle cx="74.00" cy="26.61" r="0.9" fill="#e4232b"/>
<circle cx="48.00" cy="29.22" r="0.9" fill="#e4232b"/>
<circle cx="55.00" cy="29.40" r="0.9" fill="#e4232b"/>
<circle cx="62.00" cy="29.99" r="0.9" fill="#e4232b"/>
<circle cx="67.00" cy="29.20" r="0.9" fill="#e4232b"/>
<circle cx="5.00" cy="32.91" r="0.9" fill="#e4232b"/>
<circle cx="10.00" cy="32.06" r="0.9" fill="#e4232b"/>
<circle cx="13.00" cy="32.58" r="0.9" fill="#e4232b"/>
<circle cx="16.50" cy="32.82" r="0.9" fill="#e4232b"/>
<circle cx="18.00" cy="32.84" r="0.9" fill="#e4232b"/>
<circle cx="20.00" cy="32.39" r="0.9" fill="#e4232b"/>
<circle cx="23.50" cy="32.59" r="0.9" fill="#e4232b"/>
<circle cx="31.00" cy="32.71" r="0.9" fill="#e4232b"/>
<circle cx="48.00" cy="36.26" r="0.9" fill="#e4232b"/>
<circle cx="28.00" cy="38.25" r="0.9" fill="#e4232b"/>
<circle cx="29.50" cy="38.08" r="0.9" fill="#e4232b"/>
<circle cx="31.00" cy="37.75" r="0.9" fill="#e4232b"/>
<circle cx="38.00" cy="38.21" r="0.9" fill="#e4232b"/>
<circle cx="53.00" cy="40.06" r="0.9" fill="#e4232b"/>
<circle cx="3.00" cy="47.54" r="0.9" fill="#e4232b"/>
<circle cx="6.50" cy="47.99" r="0.9" fill="#e4232b"/>
<circle cx="10.00" cy="47.14" r="0.9" fill="#e4232b"/>
<circle cx="11.50" cy="47.78" r="0.9" fill="#e4232b"/>
<circle cx="13.00" cy="47.32" r="0.9" fill="#e4232b"/>
<circle cx="14.50" cy="47.73" r="0.9" fill="#e4232b"/>
<circle cx="16.00" cy="47.95" r="0.9" fill="#e4232b"/>
<circle cx="17.60" cy="47.27" r="0.9" fill="#e4232b"/>
<circle cx="19.20" cy="47.57" r="0.9" fill="#e4232b"/>
<circle cx="23.00" cy="47.53" r="0.9" fill="#e4232b"/>
<circle cx="27.00" cy="49.00" r="0.9" fill="#e4232b"/>
<circle cx="28.50" cy="48.67" r="0.9" fill="#e4232b"/>
<circle cx="30.00" cy="49.13" r="0.9" fill="#e4232b"/>
<circle cx="31.50" cy="49.39" r="0.9" fill="#e4232b"/>
<circle cx="33.00" cy="49.16" r="0.9" fill="#e4232b"/>
<circle cx="35.00" cy="48.79" r="0.9" fill="#e4232b"/>
<circle cx="45.00" cy="49.31" r="0.9" fill="#e4232b"/>
<circle cx="0.00" cy="50.92" r="0.9" fill="#e4232b"/>
<circle cx="1.50" cy="50.65" r="0.9" fill="#e4232b"/>
<circle cx="3.00" cy="51.11" r="0.9" fill="#e4232b"/>
<circle cx="5.00" cy="50.96" r="0.9" fill="#e4232b"/>
<circle cx="14.00" cy="51.03" r="0.9" fill="#e4232b"/>
<circle cx="36.50" cy="51.49" r="0.9" fill="#e4232b"/>
<circle cx="39.00" cy="51.07" r="0.9" fill="#e4232b"/>
<circle cx="40.50" cy="51.45" r="0.9" fill="#e4232b"/>
<circle cx="42.00" cy="50.85" r="0.9" fill="#e4232b"/>
<circle cx="44.00" cy="51.26" r="0.9" fill="#e4232b"/>
<circle cx="49.00" cy="50.58" r="0.9" fill="#e4232b"/>
<circle cx="50.50" cy="50.80" r="0.9" fill="#e4232b"/>
<circle cx="52.00" cy="51.19" r="0.9" fill="#e4232b"/>
<circle cx="53.50" cy="51.19" r="0.9" fill="#e4232b"/>
<circle cx="55.00" cy="51.33" r="0.9" fill="#e4232b"/>
<circle cx="56.50" cy="50.88" r="0.9" fill="#e4232b"/>
<circle cx="58.00" cy="50.77" r="0.9" fill="#e4232b"/>
<circle cx="59.50" cy="50.86" r="0.9" fill="#e4232b"/>
<circle cx="61.00" cy="51.04" r="0.9" fill="#e4232b"/>
<circle cx="62.50" cy="50.52" r="0.9" fill="#e4232b"/>
<circle cx="64.00" cy="50.87" r="0.9" fill="#e4232b"/>
<circle cx="65.50" cy="51.16" r="0.9" fill="#e4232b"/>
<circle cx="67.00" cy="50.65" r="0.9" fill="#e4232b"/>
<circle cx="68.50" cy="50.81" r="0.9" fill="#e4232b"/>
<circle cx="70.00" cy="51.37" r="0.9" fill="#e4232b"/>
<circle cx="71.50" cy="51.43" r="0.9" fill="#e4232b"/>
<circle cx="73.00" cy="50.75" r="0.9" fill="#e4232b"/>
<circle cx="75.00" cy="50.68" r="0.9" fill="#e4232b"/>
<circle cx="8.00" cy="53.62" r="0.9" fill="#e4232b"/>
<circle cx="38.00" cy="53.59" r="0.9" fill="#e4232b"/>
<circle cx="46.00" cy="54.29" r="0.9" fill="#e4232b"/>
<circle cx="60.00" cy="54.24" r="0.9" fill="#e4232b"/>
<circle cx="63.00" cy="53.76" r="0.9" fill="#e4232b"/>
<circle cx="71.00" cy="53.99" r="0.9" fill="#e4232b"/>
</g></g>
<g transform="translate(264 286.40)"><g clip-path="url(#tc)">
<g filter="url(#grain)"><rect x="-21.5" y="-31.6" width="120" height="120" fill="rgb(148,148,148)" filter="url(#dic4)" transform="rotate(-55 38.5 28.4)"/></g>
<g filter="url(#emb4)"><use href="#cells4"/></g>
<circle cx="9.50" cy="4.70" r="0.9" fill="#e4232b"/>
<circle cx="12.00" cy="4.03" r="0.9" fill="#e4232b"/>
<circle cx="13.50" cy="4.82" r="0.9" fill="#e4232b"/>
<circle cx="15.00" cy="4.86" r="0.9" fill="#e4232b"/>
<circle cx="18.50" cy="4.21" r="0.9" fill="#e4232b"/>
<circle cx="22.50" cy="4.70" r="0.9" fill="#e4232b"/>
<circle cx="27.50" cy="4.70" r="0.9" fill="#e4232b"/>
<circle cx="29.00" cy="5.84" r="0.9" fill="#e4232b"/>
<circle cx="33.50" cy="6.38" r="0.9" fill="#e4232b"/>
<circle cx="35.00" cy="5.72" r="0.9" fill="#e4232b"/>
<circle cx="36.50" cy="5.97" r="0.9" fill="#e4232b"/>
<circle cx="38.50" cy="5.81" r="0.9" fill="#e4232b"/>
<circle cx="42.00" cy="5.94" r="0.9" fill="#e4232b"/>
<circle cx="45.50" cy="6.31" r="0.9" fill="#e4232b"/>
<circle cx="49.50" cy="6.07" r="0.9" fill="#e4232b"/>
<circle cx="52.00" cy="6.11" r="0.9" fill="#e4232b"/>
<circle cx="53.50" cy="6.49" r="0.9" fill="#e4232b"/>
<circle cx="55.00" cy="5.72" r="0.9" fill="#e4232b"/>
<circle cx="56.50" cy="5.72" r="0.9" fill="#e4232b"/>
<circle cx="58.00" cy="6.12" r="0.9" fill="#e4232b"/>
<circle cx="60.00" cy="5.65" r="0.9" fill="#e4232b"/>
<circle cx="61.50" cy="6.46" r="0.9" fill="#e4232b"/>
<circle cx="63.00" cy="5.84" r="0.9" fill="#e4232b"/>
<circle cx="64.50" cy="5.94" r="0.9" fill="#e4232b"/>
<circle cx="66.00" cy="5.93" r="0.9" fill="#e4232b"/>
<circle cx="67.50" cy="6.33" r="0.9" fill="#e4232b"/>
<circle cx="69.00" cy="6.42" r="0.9" fill="#e4232b"/>
<circle cx="70.50" cy="6.18" r="0.9" fill="#e4232b"/>
<circle cx="72.00" cy="5.67" r="0.9" fill="#e4232b"/>
<circle cx="73.50" cy="5.86" r="0.9" fill="#e4232b"/>
<circle cx="75.00" cy="6.21" r="0.9" fill="#e4232b"/>
<circle cx="29.00" cy="6.72" r="0.9" fill="#e4232b"/>
<circle cx="32.50" cy="11.38" r="0.9" fill="#e4232b"/>
<circle cx="39.00" cy="11.37" r="0.9" fill="#e4232b"/>
<circle cx="40.50" cy="10.73" r="0.9" fill="#e4232b"/>
<circle cx="42.00" cy="10.86" r="0.9" fill="#e4232b"/>
<circle cx="50.00" cy="10.73" r="0.9" fill="#e4232b"/>
<circle cx="55.50" cy="11.22" r="0.9" fill="#e4232b"/>
<circle cx="1.00" cy="13.05" r="0.9" fill="#e4232b"/>
<circle cx="4.50" cy="13.70" r="0.9" fill="#e4232b"/>
<circle cx="6.50" cy="13.06" r="0.9" fill="#e4232b"/>
<circle cx="8.50" cy="13.84" r="0.9" fill="#e4232b"/>
<circle cx="11.50" cy="13.54" r="0.9" fill="#e4232b"/>
<circle cx="15.00" cy="13.58" r="0.9" fill="#e4232b"/>
<circle cx="18.00" cy="13.10" r="0.9" fill="#e4232b"/>
<circle cx="25.00" cy="13.04" r="0.9" fill="#e4232b"/>
<circle cx="29.50" cy="13.35" r="0.9" fill="#e4232b"/>
<circle cx="31.50" cy="13.98" r="0.9" fill="#e4232b"/>
<circle cx="35.00" cy="13.60" r="0.9" fill="#e4232b"/>
<circle cx="36.50" cy="13.86" r="0.9" fill="#e4232b"/>
<circle cx="38.00" cy="13.06" r="0.9" fill="#e4232b"/>
<circle cx="40.00" cy="13.10" r="0.9" fill="#e4232b"/>
<circle cx="43.00" cy="13.02" r="0.9" fill="#e4232b"/>
<circle cx="44.50" cy="13.70" r="0.9" fill="#e4232b"/>
<circle cx="46.00" cy="13.18" r="0.9" fill="#e4232b"/>
<circle cx="47.50" cy="13.27" r="0.9" fill="#e4232b"/>
<circle cx="49.00" cy="13.67" r="0.9" fill="#e4232b"/>
<circle cx="63.00" cy="13.70" r="0.9" fill="#e4232b"/>
<circle cx="67.00" cy="13.32" r="0.9" fill="#e4232b"/>
<circle cx="61.00" cy="16.47" r="0.9" fill="#e4232b"/>
<circle cx="63.50" cy="16.29" r="0.9" fill="#e4232b"/>
<circle cx="67.50" cy="16.56" r="0.9" fill="#e4232b"/>
<circle cx="71.50" cy="16.36" r="0.9" fill="#e4232b"/>
<circle cx="75.00" cy="16.36" r="0.9" fill="#e4232b"/>
<circle cx="2.50" cy="22.25" r="0.9" fill="#e4232b"/>
<circle cx="9.00" cy="22.29" r="0.9" fill="#e4232b"/>
<circle cx="13.50" cy="22.26" r="0.9" fill="#e4232b"/>
<circle cx="15.50" cy="22.02" r="0.9" fill="#e4232b"/>
<circle cx="25.50" cy="22.31" r="0.9" fill="#e4232b"/>
<circle cx="28.00" cy="22.59" r="0.9" fill="#e4232b"/>
<circle cx="32.50" cy="22.27" r="0.9" fill="#e4232b"/>
<circle cx="39.50" cy="22.11" r="0.9" fill="#e4232b"/>
<circle cx="43.00" cy="22.85" r="0.9" fill="#e4232b"/>
<circle cx="46.50" cy="22.47" r="0.9" fill="#e4232b"/>
<circle cx="66.50" cy="22.51" r="0.9" fill="#e4232b"/>
<circle cx="72.00" cy="22.31" r="0.9" fill="#e4232b"/>
<circle cx="16.50" cy="27.39" r="0.9" fill="#e4232b"/>
<circle cx="26.00" cy="28.25" r="0.9" fill="#e4232b"/>
<circle cx="59.00" cy="29.62" r="0.9" fill="#e4232b"/>
<circle cx="64.00" cy="29.66" r="0.9" fill="#e4232b"/>
<circle cx="67.50" cy="29.69" r="0.9" fill="#e4232b"/>
<circle cx="70.00" cy="29.50" r="0.9" fill="#e4232b"/>
<circle cx="72.00" cy="29.41" r="0.9" fill="#e4232b"/>
<circle cx="74.00" cy="29.39" r="0.9" fill="#e4232b"/>
<circle cx="43.50" cy="31.00" r="0.9" fill="#e4232b"/>
<circle cx="22.00" cy="41.47" r="0.9" fill="#e4232b"/>
<circle cx="27.00" cy="41.53" r="0.9" fill="#e4232b"/>
<circle cx="30.00" cy="41.53" r="0.9" fill="#e4232b"/>
<circle cx="75.00" cy="45.29" r="0.9" fill="#e4232b"/>
<circle cx="2.50" cy="47.89" r="0.9" fill="#e4232b"/>
<circle cx="5.00" cy="47.22" r="0.9" fill="#e4232b"/>
<circle cx="6.50" cy="47.02" r="0.9" fill="#e4232b"/>
<circle cx="8.00" cy="47.30" r="0.9" fill="#e4232b"/>
<circle cx="9.50" cy="47.03" r="0.9" fill="#e4232b"/>
<circle cx="11.00" cy="47.80" r="0.9" fill="#e4232b"/>
<circle cx="12.50" cy="47.62" r="0.9" fill="#e4232b"/>
<circle cx="14.00" cy="47.29" r="0.9" fill="#e4232b"/>
<circle cx="15.50" cy="47.19" r="0.9" fill="#e4232b"/>
<circle cx="17.00" cy="47.87" r="0.9" fill="#e4232b"/>
<circle cx="18.00" cy="49.34" r="0.9" fill="#e4232b"/>
<circle cx="19.50" cy="49.18" r="0.9" fill="#e4232b"/>
<circle cx="21.00" cy="49.19" r="0.9" fill="#e4232b"/>
<circle cx="22.50" cy="49.24" r="0.9" fill="#e4232b"/>
<circle cx="24.00" cy="48.95" r="0.9" fill="#e4232b"/>
<circle cx="25.50" cy="48.90" r="0.9" fill="#e4232b"/>
<circle cx="27.00" cy="49.05" r="0.9" fill="#e4232b"/>
<circle cx="28.60" cy="49.38" r="0.9" fill="#e4232b"/>
<circle cx="35.50" cy="49.49" r="0.9" fill="#e4232b"/>
<circle cx="6.50" cy="51.92" r="0.9" fill="#e4232b"/>
<circle cx="10.00" cy="51.84" r="0.9" fill="#e4232b"/>
<circle cx="13.00" cy="51.07" r="0.9" fill="#e4232b"/>
<circle cx="18.00" cy="51.25" r="0.9" fill="#e4232b"/>
<circle cx="23.00" cy="51.97" r="0.9" fill="#e4232b"/>
<circle cx="28.50" cy="51.54" r="0.9" fill="#e4232b"/>
<circle cx="31.50" cy="51.51" r="0.9" fill="#e4232b"/>
<circle cx="35.00" cy="51.31" r="0.9" fill="#e4232b"/>
<circle cx="40.50" cy="51.86" r="0.9" fill="#e4232b"/>
<circle cx="45.00" cy="51.52" r="0.9" fill="#e4232b"/>
<circle cx="51.00" cy="51.99" r="0.9" fill="#e4232b"/>
<circle cx="22.50" cy="53.08" r="0.9" fill="#e4232b"/>
<circle cx="27.50" cy="53.99" r="0.9" fill="#e4232b"/>
<circle cx="54.00" cy="53.01" r="0.9" fill="#e4232b"/>
<circle cx="10.50" cy="54.65" r="0.9" fill="#e4232b"/>
</g></g>
<g transform="translate(343 286.40)"><g clip-path="url(#tc)">
<g filter="url(#grain)"><rect x="-21.5" y="-31.6" width="120" height="120" fill="rgb(147,147,147)" filter="url(#dic4)" transform="rotate(-55 38.5 28.4)"/></g>
<g filter="url(#emb4)"><use href="#cells4"/></g>
<circle cx="22.50" cy="0.39" r="0.9" fill="#e4232b"/>
<circle cx="11.50" cy="5.14" r="0.9" fill="#e4232b"/>
<circle cx="16.00" cy="4.61" r="0.9" fill="#e4232b"/>
<circle cx="20.00" cy="5.06" r="0.9" fill="#e4232b"/>
<circle cx="23.50" cy="5.44" r="0.9" fill="#e4232b"/>
<circle cx="29.50" cy="4.94" r="0.9" fill="#e4232b"/>
<circle cx="31.00" cy="5.26" r="0.9" fill="#e4232b"/>
<circle cx="38.50" cy="5.09" r="0.9" fill="#e4232b"/>
<circle cx="40.50" cy="5.08" r="0.9" fill="#e4232b"/>
<circle cx="43.00" cy="4.67" r="0.9" fill="#e4232b"/>
<circle cx="53.50" cy="4.96" r="0.9" fill="#e4232b"/>
<circle cx="57.50" cy="5.40" r="0.9" fill="#e4232b"/>
<circle cx="60.50" cy="5.17" r="0.9" fill="#e4232b"/>
<circle cx="63.00" cy="4.72" r="0.9" fill="#e4232b"/>
<circle cx="67.00" cy="4.95" r="0.9" fill="#e4232b"/>
<circle cx="69.50" cy="5.04" r="0.9" fill="#e4232b"/>
<circle cx="72.00" cy="4.84" r="0.9" fill="#e4232b"/>
<circle cx="75.00" cy="5.08" r="0.9" fill="#e4232b"/>
<circle cx="5.00" cy="7.13" r="0.9" fill="#e4232b"/>
<circle cx="30.00" cy="6.52" r="0.9" fill="#e4232b"/>
<circle cx="0.00" cy="13.22" r="0.9" fill="#e4232b"/>
<circle cx="1.50" cy="13.66" r="0.9" fill="#e4232b"/>
<circle cx="3.00" cy="13.21" r="0.9" fill="#e4232b"/>
<circle cx="4.50" cy="13.07" r="0.9" fill="#e4232b"/>
<circle cx="6.00" cy="13.76" r="0.9" fill="#e4232b"/>
<circle cx="8.00" cy="13.33" r="0.9" fill="#e4232b"/>
<circle cx="10.00" cy="13.96" r="0.9" fill="#e4232b"/>
<circle cx="13.00" cy="13.56" r="0.9" fill="#e4232b"/>
<circle cx="14.50" cy="13.10" r="0.9" fill="#e4232b"/>
<circle cx="16.00" cy="13.64" r="0.9" fill="#e4232b"/>
<circle cx="17.50" cy="13.26" r="0.9" fill="#e4232b"/>
<circle cx="19.00" cy="13.81" r="0.9" fill="#e4232b"/>
<circle cx="20.50" cy="13.72" r="0.9" fill="#e4232b"/>
<circle cx="22.00" cy="13.76" r="0.9" fill="#e4232b"/>
<circle cx="24.00" cy="13.06" r="0.9" fill="#e4232b"/>
<circle cx="28.00" cy="13.03" r="0.9" fill="#e4232b"/>
<circle cx="29.50" cy="13.80" r="0.9" fill="#e4232b"/>
<circle cx="31.00" cy="13.14" r="0.9" fill="#e4232b"/>
<circle cx="32.50" cy="13.20" r="0.9" fill="#e4232b"/>
<circle cx="34.00" cy="13.03" r="0.9" fill="#e4232b"/>
<circle cx="36.00" cy="13.16" r="0.9" fill="#e4232b"/>
<circle cx="38.50" cy="13.47" r="0.9" fill="#e4232b"/>
<circle cx="41.00" cy="13.96" r="0.9" fill="#e4232b"/>
<circle cx="44.00" cy="13.32" r="0.9" fill="#e4232b"/>
<circle cx="45.50" cy="13.26" r="0.9" fill="#e4232b"/>
<circle cx="47.00" cy="13.83" r="0.9" fill="#e4232b"/>
<circle cx="48.60" cy="13.18" r="0.9" fill="#e4232b"/>
<circle cx="55.50" cy="13.64" r="0.9" fill="#e4232b"/>
<circle cx="70.50" cy="13.62" r="0.9" fill="#e4232b"/>
<circle cx="2.00" cy="16.94" r="0.9" fill="#e4232b"/>
<circle cx="7.00" cy="16.04" r="0.9" fill="#e4232b"/>
<circle cx="14.00" cy="16.56" r="0.9" fill="#e4232b"/>
<circle cx="15.50" cy="16.38" r="0.9" fill="#e4232b"/>
<circle cx="18.00" cy="16.82" r="0.9" fill="#e4232b"/>
<circle cx="0.50" cy="21.25" r="0.9" fill="#e4232b"/>
<circle cx="3.50" cy="21.71" r="0.9" fill="#e4232b"/>
<circle cx="5.50" cy="21.19" r="0.9" fill="#e4232b"/>
<circle cx="9.50" cy="21.50" r="0.9" fill="#e4232b"/>
<circle cx="11.00" cy="21.97" r="0.9" fill="#e4232b"/>
<circle cx="15.50" cy="21.24" r="0.9" fill="#e4232b"/>
<circle cx="26.00" cy="21.28" r="0.9" fill="#e4232b"/>
<circle cx="28.00" cy="21.92" r="0.9" fill="#e4232b"/>
<circle cx="31.00" cy="21.67" r="0.9" fill="#e4232b"/>
<circle cx="36.50" cy="21.07" r="0.9" fill="#e4232b"/>
<circle cx="43.00" cy="21.19" r="0.9" fill="#e4232b"/>
<circle cx="64.50" cy="28.74" r="0.9" fill="#e4232b"/>
<circle cx="68.00" cy="28.79" r="0.9" fill="#e4232b"/>
<circle cx="72.50" cy="29.34" r="0.9" fill="#e4232b"/>
<circle cx="75.00" cy="29.20" r="0.9" fill="#e4232b"/>
<circle cx="29.00" cy="45.48" r="0.9" fill="#e4232b"/>
<circle cx="37.00" cy="46.67" r="0.9" fill="#e4232b"/>
<circle cx="26.00" cy="49.13" r="0.9" fill="#e4232b"/>
<circle cx="40.00" cy="55.88" r="0.9" fill="#e4232b"/>
</g></g>
<g transform="translate(422 286.40)"><g clip-path="url(#tc)">
<g filter="url(#grain)"><rect x="-21.5" y="-31.6" width="120" height="120" fill="rgb(148,148,148)" filter="url(#dic4)" transform="rotate(-55 38.5 28.4)"/></g>
<g filter="url(#emb4)"><use href="#cells4"/></g>
<circle cx="16.00" cy="5.22" r="0.9" fill="#e4232b"/>
<circle cx="22.00" cy="4.99" r="0.9" fill="#e4232b"/>
<circle cx="30.00" cy="6.56" r="0.9" fill="#e4232b"/>
<circle cx="1.00" cy="15.49" r="0.9" fill="#e4232b"/>
<circle cx="3.50" cy="15.38" r="0.9" fill="#e4232b"/>
<circle cx="8.00" cy="15.53" r="0.9" fill="#e4232b"/>
<circle cx="10.50" cy="15.05" r="0.9" fill="#e4232b"/>
<circle cx="14.00" cy="15.03" r="0.9" fill="#e4232b"/>
<circle cx="15.50" cy="15.98" r="0.9" fill="#e4232b"/>
<circle cx="18.50" cy="15.37" r="0.9" fill="#e4232b"/>
<circle cx="20.00" cy="15.33" r="0.9" fill="#e4232b"/>
<circle cx="21.50" cy="15.15" r="0.9" fill="#e4232b"/>
<circle cx="27.00" cy="15.59" r="0.9" fill="#e4232b"/>
<circle cx="34.00" cy="17.41" r="0.9" fill="#e4232b"/>
<circle cx="35.50" cy="16.68" r="0.9" fill="#e4232b"/>
<circle cx="39.50" cy="17.00" r="0.9" fill="#e4232b"/>
<circle cx="3.50" cy="25.00" r="0.9" fill="#e4232b"/>
<circle cx="25.50" cy="27.27" r="0.9" fill="#e4232b"/>
<circle cx="29.50" cy="27.07" r="0.9" fill="#e4232b"/>
<circle cx="41.50" cy="26.74" r="0.9" fill="#e4232b"/>
<circle cx="49.50" cy="26.69" r="0.9" fill="#e4232b"/>
<circle cx="51.50" cy="27.22" r="0.9" fill="#e4232b"/>
<circle cx="55.00" cy="26.58" r="0.9" fill="#e4232b"/>
<circle cx="57.50" cy="27.36" r="0.9" fill="#e4232b"/>
<circle cx="62.00" cy="26.53" r="0.9" fill="#e4232b"/>
<circle cx="66.00" cy="26.69" r="0.9" fill="#e4232b"/>
<circle cx="67.50" cy="26.97" r="0.9" fill="#e4232b"/>
<circle cx="69.00" cy="27.34" r="0.9" fill="#e4232b"/>
<circle cx="70.50" cy="27.12" r="0.9" fill="#e4232b"/>
<circle cx="72.00" cy="27.25" r="0.9" fill="#e4232b"/>
</g></g>
<rect x="163.1" y="103.30" width="17.3" height="1.6" fill="#fff"/>
<rect x="163.1" y="162.30" width="17.3" height="1.6" fill="#fff"/>
<rect x="163.1" y="221.90" width="17.3" height="1.6" fill="#fff"/>
<rect x="163.1" y="281.30" width="17.3" height="1.6" fill="#fff"/>
<rect x="163.1" y="340.70" width="17.3" height="1.6" fill="#fff"/>
<text x="172.30" y="96.00" font-size="7" text-anchor="middle" fill="#fff" textLength="7.00" lengthAdjust="spacingAndGlyphs" stroke="#fff" stroke-width="0.08" >50</text>
<text x="172.50" y="101.40" font-size="6.2" text-anchor="middle" fill="#fff" textLength="8.90" lengthAdjust="spacingAndGlyphs" stroke="#fff" stroke-width="0.08" >μM</text>
<text x="8.60" y="369.60" font-size="11" text-anchor="start" fill="#111" font-weight="bold" stroke="#111" stroke-width="0.35">B</text>
<text x="106.00" y="369.20" font-size="10.0" text-anchor="middle" fill="#222" textLength="30.20" lengthAdjust="spacingAndGlyphs" stroke="#222" stroke-width="0.08" >Vehicle</text>
<text x="16.00" y="426.90" font-size="8.8" text-anchor="middle" fill="#1a1a1a" textLength="91.80" lengthAdjust="spacingAndGlyphs" transform="rotate(-90 16.00 426.90)" stroke="#1a1a1a" stroke-width="0.18">Platelet·VWF complexes (%)</text>
<path d="M41.30 379.00 V476.20 H171.20" stroke="#111" stroke-width="1.3" fill="none"/>
<path d="M38.30 476.20 H41.30" stroke="#111" stroke-width="1.1"/>
<text x="36.30" y="479.25" font-size="8.5" text-anchor="end" fill="#1e1e1e" stroke="#1e1e1e" stroke-width="0.08" >0</text>
<path d="M38.30 457.45 H41.30" stroke="#111" stroke-width="1.1"/>
<text x="36.30" y="460.50" font-size="8.5" text-anchor="end" fill="#1e1e1e" stroke="#1e1e1e" stroke-width="0.08" >100</text>
<path d="M38.30 438.70 H41.30" stroke="#111" stroke-width="1.1"/>
<text x="36.30" y="441.75" font-size="8.5" text-anchor="end" fill="#1e1e1e" stroke="#1e1e1e" stroke-width="0.08" >200</text>
<path d="M38.30 419.95 H41.30" stroke="#111" stroke-width="1.1"/>
<text x="36.30" y="423.00" font-size="8.5" text-anchor="end" fill="#1e1e1e" stroke="#1e1e1e" stroke-width="0.08" >300</text>
<path d="M38.30 401.20 H41.30" stroke="#111" stroke-width="1.1"/>
<text x="36.30" y="404.25" font-size="8.5" text-anchor="end" fill="#1e1e1e" stroke="#1e1e1e" stroke-width="0.08" >400</text>
<path d="M38.30 382.45 H41.30" stroke="#111" stroke-width="1.1"/>
<text x="36.30" y="385.50" font-size="8.5" text-anchor="end" fill="#1e1e1e" stroke="#1e1e1e" stroke-width="0.08" >500</text>
<path d="M41.30 476.20 V479.50" stroke="#111" stroke-width="1.1"/>
<path d="M49.24 476.20 V478.60" stroke="#111" stroke-width="1.1"/>
<path d="M57.18 476.20 V478.60" stroke="#111" stroke-width="1.1"/>
<path d="M65.12 476.20 V478.60" stroke="#111" stroke-width="1.1"/>
<path d="M73.06 476.20 V478.60" stroke="#111" stroke-width="1.1"/>
<path d="M81.00 476.20 V479.50" stroke="#111" stroke-width="1.1"/>
<path d="M88.94 476.20 V478.60" stroke="#111" stroke-width="1.1"/>
<path d="M96.88 476.20 V478.60" stroke="#111" stroke-width="1.1"/>
<path d="M104.82 476.20 V478.60" stroke="#111" stroke-width="1.1"/>
<path d="M112.76 476.20 V478.60" stroke="#111" stroke-width="1.1"/>
<path d="M120.70 476.20 V479.50" stroke="#111" stroke-width="1.1"/>
<path d="M128.64 476.20 V478.60" stroke="#111" stroke-width="1.1"/>
<path d="M136.58 476.20 V478.60" stroke="#111" stroke-width="1.1"/>
<path d="M144.52 476.20 V478.60" stroke="#111" stroke-width="1.1"/>
<path d="M152.46 476.20 V478.60" stroke="#111" stroke-width="1.1"/>
<path d="M160.40 476.20 V479.50" stroke="#111" stroke-width="1.1"/>
<path d="M168.34 476.20 V478.60" stroke="#111" stroke-width="1.1"/>
<text x="41.30" y="488.30" font-size="8.2" text-anchor="middle" fill="#222" textLength="3.90" lengthAdjust="spacingAndGlyphs" stroke="#222" stroke-width="0.08" >8</text>
<text x="81.00" y="488.30" font-size="8.2" text-anchor="middle" fill="#222" textLength="7.60" lengthAdjust="spacingAndGlyphs" stroke="#222" stroke-width="0.08" >18</text>
<text x="120.70" y="488.30" font-size="8.2" text-anchor="middle" fill="#222" textLength="7.60" lengthAdjust="spacingAndGlyphs" stroke="#222" stroke-width="0.08" >28</text>
<text x="160.40" y="488.30" font-size="8.2" text-anchor="middle" fill="#222" textLength="7.60" lengthAdjust="spacingAndGlyphs" stroke="#222" stroke-width="0.08" >38</text>
<text x="106.60" y="500.80" font-size="8.6" text-anchor="middle" fill="#222" textLength="36.00" lengthAdjust="spacingAndGlyphs" stroke="#222" stroke-width="0.16">Time (min)</text>
<path d="M49.24 450.50 V454.50 M47.34 450.50 H51.14 M47.34 454.50 H51.14" stroke="#858585" stroke-width="1.05" fill="none"/>
<path d="M57.18 440.50 V453.30 M55.28 440.50 H59.08 M55.28 453.30 H59.08" stroke="#858585" stroke-width="1.05" fill="none"/>
<path d="M65.12 421.50 V447.40 M63.22 421.50 H67.02 M63.22 447.40 H67.02" stroke="#858585" stroke-width="1.05" fill="none"/>
<path d="M73.06 428.60 V448.20 M71.16 428.60 H74.96 M71.16 448.20 H74.96" stroke="#858585" stroke-width="1.05" fill="none"/>
<path d="M81.00 425.20 V448.50 M79.10 425.20 H82.90 M79.10 448.50 H82.90" stroke="#858585" stroke-width="1.05" fill="none"/>
<path d="M88.94 410.20 V443.30 M87.04 410.20 H90.84 M87.04 443.30 H90.84" stroke="#858585" stroke-width="1.05" fill="none"/>
<path d="M96.88 415.50 V441.40 M94.98 415.50 H98.78 M94.98 441.40 H98.78" stroke="#858585" stroke-width="1.05" fill="none"/>
<path d="M104.82 406.80 V441.20 M102.92 406.80 H106.72 M102.92 441.20 H106.72" stroke="#858585" stroke-width="1.05" fill="none"/>
<path d="M112.76 405.80 V436.50 M110.86 405.80 H114.66 M110.86 436.50 H114.66" stroke="#858585" stroke-width="1.05" fill="none"/>
<path d="M120.70 409.80 V438.60 M118.80 409.80 H122.60 M118.80 438.60 H122.60" stroke="#858585" stroke-width="1.05" fill="none"/>
<path d="M128.64 395.80 V436.40 M126.74 395.80 H130.54 M126.74 436.40 H130.54" stroke="#858585" stroke-width="1.05" fill="none"/>
<path d="M136.58 408.30 V437.40 M134.68 408.30 H138.48 M134.68 437.40 H138.48" stroke="#858585" stroke-width="1.05" fill="none"/>
<path d="M144.52 414.40 V440.30 M142.62 414.40 H146.42 M142.62 440.30 H146.42" stroke="#858585" stroke-width="1.05" fill="none"/>
<path d="M152.46 414.40 V442.10 M150.56 414.40 H154.36 M150.56 442.10 H154.36" stroke="#858585" stroke-width="1.05" fill="none"/>
<path d="M160.40 412.30 V444.10 M158.50 412.30 H162.30 M158.50 444.10 H162.30" stroke="#858585" stroke-width="1.05" fill="none"/>
<path d="M168.34 418.30 V445.00 M166.44 418.30 H170.24 M166.44 445.00 H170.24" stroke="#858585" stroke-width="1.05" fill="none"/>
<path d="M41.30 457.60 L49.24 452.70 L57.18 446.70 L65.12 434.80 L73.06 438.30 L81.00 436.80 L88.94 427.00 L96.88 428.80 L104.82 423.80 L112.76 421.20 L120.70 424.40 L128.64 415.90 L136.58 423.20 L144.52 427.60 L152.46 428.50 L160.40 428.30 L168.34 431.80" stroke="#0e4d80" stroke-width="1.85" fill="none" stroke-linejoin="round"/>
<circle cx="41.30" cy="457.60" r="2.55" fill="#0e4d80"/>
<circle cx="49.24" cy="452.70" r="2.55" fill="#0e4d80"/>
<circle cx="57.18" cy="446.70" r="2.55" fill="#0e4d80"/>
<circle cx="65.12" cy="434.80" r="2.55" fill="#0e4d80"/>
<circle cx="73.06" cy="438.30" r="2.55" fill="#0e4d80"/>
<circle cx="81.00" cy="436.80" r="2.55" fill="#0e4d80"/>
<circle cx="88.94" cy="427.00" r="2.55" fill="#0e4d80"/>
<circle cx="96.88" cy="428.80" r="2.55" fill="#0e4d80"/>
<circle cx="104.82" cy="423.80" r="2.55" fill="#0e4d80"/>
<circle cx="112.76" cy="421.20" r="2.55" fill="#0e4d80"/>
<circle cx="120.70" cy="424.40" r="2.55" fill="#0e4d80"/>
<circle cx="128.64" cy="415.90" r="2.55" fill="#0e4d80"/>
<circle cx="136.58" cy="423.20" r="2.55" fill="#0e4d80"/>
<circle cx="144.52" cy="427.60" r="2.55" fill="#0e4d80"/>
<circle cx="152.46" cy="428.50" r="2.55" fill="#0e4d80"/>
<circle cx="160.40" cy="428.30" r="2.55" fill="#0e4d80"/>
<circle cx="168.34" cy="431.80" r="2.55" fill="#0e4d80"/>
<text x="179.50" y="369.60" font-size="11" text-anchor="start" fill="#111" font-weight="bold" stroke="#111" stroke-width="0.35">C</text>
<text x="276.25" y="369.20" font-size="10.0" text-anchor="middle" fill="#222" textLength="40.00" lengthAdjust="spacingAndGlyphs" stroke="#222" stroke-width="0.08" >Microlyse</text>
<text x="186.60" y="427.50" font-size="8.8" text-anchor="middle" fill="#1a1a1a" textLength="91.30" lengthAdjust="spacingAndGlyphs" transform="rotate(-90 186.60 427.50)" stroke="#1a1a1a" stroke-width="0.18">Platelet·VWF complexes (%)</text>
<path d="M211.10 379.00 V476.20 H341.00" stroke="#111" stroke-width="1.3" fill="none"/>
<path d="M208.10 476.20 H211.10" stroke="#111" stroke-width="1.1"/>
<text x="206.10" y="479.25" font-size="8.5" text-anchor="end" fill="#1e1e1e" stroke="#1e1e1e" stroke-width="0.08" >0</text>
<path d="M208.10 445.00 H211.10" stroke="#111" stroke-width="1.1"/>
<text x="206.10" y="448.05" font-size="8.5" text-anchor="end" fill="#1e1e1e" stroke="#1e1e1e" stroke-width="0.08" >100</text>
<path d="M208.10 413.80 H211.10" stroke="#111" stroke-width="1.1"/>
<text x="206.10" y="416.85" font-size="8.5" text-anchor="end" fill="#1e1e1e" stroke="#1e1e1e" stroke-width="0.08" >200</text>
<path d="M208.10 382.60 H211.10" stroke="#111" stroke-width="1.1"/>
<text x="206.10" y="385.65" font-size="8.5" text-anchor="end" fill="#1e1e1e" stroke="#1e1e1e" stroke-width="0.08" >300</text>
<path d="M211.10 476.20 V479.50" stroke="#111" stroke-width="1.1"/>
<path d="M219.04 476.20 V478.60" stroke="#111" stroke-width="1.1"/>
<path d="M226.98 476.20 V478.60" stroke="#111" stroke-width="1.1"/>
<path d="M234.92 476.20 V478.60" stroke="#111" stroke-width="1.1"/>
<path d="M242.86 476.20 V478.60" stroke="#111" stroke-width="1.1"/>
<path d="M250.80 476.20 V479.50" stroke="#111" stroke-width="1.1"/>
<path d="M258.74 476.20 V478.60" stroke="#111" stroke-width="1.1"/>
<path d="M266.68 476.20 V478.60" stroke="#111" stroke-width="1.1"/>
<path d="M274.62 476.20 V478.60" stroke="#111" stroke-width="1.1"/>
<path d="M282.56 476.20 V478.60" stroke="#111" stroke-width="1.1"/>
<path d="M290.50 476.20 V479.50" stroke="#111" stroke-width="1.1"/>
<path d="M298.44 476.20 V478.60" stroke="#111" stroke-width="1.1"/>
<path d="M306.38 476.20 V478.60" stroke="#111" stroke-width="1.1"/>
<path d="M314.32 476.20 V478.60" stroke="#111" stroke-width="1.1"/>
<path d="M322.26 476.20 V478.60" stroke="#111" stroke-width="1.1"/>
<path d="M330.20 476.20 V479.50" stroke="#111" stroke-width="1.1"/>
<path d="M338.14 476.20 V478.60" stroke="#111" stroke-width="1.1"/>
<text x="211.10" y="488.30" font-size="8.2" text-anchor="middle" fill="#222" textLength="3.90" lengthAdjust="spacingAndGlyphs" stroke="#222" stroke-width="0.08" >8</text>
<text x="250.80" y="488.30" font-size="8.2" text-anchor="middle" fill="#222" textLength="7.60" lengthAdjust="spacingAndGlyphs" stroke="#222" stroke-width="0.08" >18</text>
<text x="290.50" y="488.30" font-size="8.2" text-anchor="middle" fill="#222" textLength="7.60" lengthAdjust="spacingAndGlyphs" stroke="#222" stroke-width="0.08" >28</text>
<text x="330.20" y="488.30" font-size="8.2" text-anchor="middle" fill="#222" textLength="7.60" lengthAdjust="spacingAndGlyphs" stroke="#222" stroke-width="0.08" >38</text>
<text x="276.50" y="501.40" font-size="8.6" text-anchor="middle" fill="#222" textLength="36.00" lengthAdjust="spacingAndGlyphs" stroke="#222" stroke-width="0.16">Time (min)</text>
<path d="M219.04 435.30 V442.70 M217.14 435.30 H220.94 M217.14 442.70 H220.94" stroke="#858585" stroke-width="1.05" fill="none"/>
<path d="M226.98 433.20 V442.70 M225.08 433.20 H228.88 M225.08 442.70 H228.88" stroke="#858585" stroke-width="1.05" fill="none"/>
<path d="M234.92 436.40 V447.30 M233.02 436.40 H236.82 M233.02 447.30 H236.82" stroke="#858585" stroke-width="1.05" fill="none"/>
<path d="M242.86 426.50 V448.50 M240.96 426.50 H244.76 M240.96 448.50 H244.76" stroke="#858585" stroke-width="1.05" fill="none"/>
<path d="M250.80 436.10 V455.30 M248.90 436.10 H252.70 M248.90 455.30 H252.70" stroke="#858585" stroke-width="1.05" fill="none"/>
<path d="M258.74 428.80 V458.30 M256.84 428.80 H260.64 M256.84 458.30 H260.64" stroke="#858585" stroke-width="1.05" fill="none"/>
<path d="M266.68 435.30 V464.40 M264.78 435.30 H268.58 M264.78 464.40 H268.58" stroke="#858585" stroke-width="1.05" fill="none"/>
<path d="M274.62 440.70 V470.80 M272.72 440.70 H276.52 M272.72 470.80 H276.52" stroke="#858585" stroke-width="1.05" fill="none"/>
<path d="M282.56 452.00 V472.00 M280.66 452.00 H284.46 M280.66 472.00 H284.46" stroke="#858585" stroke-width="1.05" fill="none"/>
<path d="M290.50 462.60 V473.50 M288.60 462.60 H292.40 M288.60 473.50 H292.40" stroke="#858585" stroke-width="1.05" fill="none"/>
<path d="M298.44 467.00 V473.20 M296.54 467.00 H300.34 M296.54 473.20 H300.34" stroke="#858585" stroke-width="1.05" fill="none"/>
<path d="M211.10 445.50 L219.04 439.40 L226.98 438.30 L234.92 442.40 L242.86 437.10 L250.80 445.80 L258.74 443.90 L266.68 450.80 L274.62 456.50 L282.56 462.60 L290.50 468.50 L298.44 470.80 L306.38 474.50 L314.32 475.30 L322.26 474.50 L330.20 474.50 L338.14 476.50" stroke="#3db54a" stroke-width="1.85" fill="none" stroke-linejoin="round"/>
<path d="M211.10 442.70 L213.80 447.30 L208.40 447.30 Z" fill="#3db54a"/>
<path d="M219.04 436.60 L221.74 441.20 L216.34 441.20 Z" fill="#3db54a"/>
<path d="M226.98 435.50 L229.68 440.10 L224.28 440.10 Z" fill="#3db54a"/>
<path d="M234.92 439.60 L237.62 444.20 L232.22 444.20 Z" fill="#3db54a"/>
<path d="M242.86 434.30 L245.56 438.90 L240.16 438.90 Z" fill="#3db54a"/>
<path d="M250.80 443.00 L253.50 447.60 L248.10 447.60 Z" fill="#3db54a"/>
<path d="M258.74 441.10 L261.44 445.70 L256.04 445.70 Z" fill="#3db54a"/>
<path d="M266.68 448.00 L269.38 452.60 L263.98 452.60 Z" fill="#3db54a"/>
<path d="M274.62 453.70 L277.32 458.30 L271.92 458.30 Z" fill="#3db54a"/>
<path d="M282.56 459.80 L285.26 464.40 L279.86 464.40 Z" fill="#3db54a"/>
<path d="M290.50 465.70 L293.20 470.30 L287.80 470.30 Z" fill="#3db54a"/>
<path d="M298.44 468.00 L301.14 472.60 L295.74 472.60 Z" fill="#3db54a"/>
<path d="M306.38 471.70 L309.08 476.30 L303.68 476.30 Z" fill="#3db54a"/>
<path d="M314.32 472.50 L317.02 477.10 L311.62 477.10 Z" fill="#3db54a"/>
<path d="M322.26 471.70 L324.96 476.30 L319.56 476.30 Z" fill="#3db54a"/>
<path d="M330.20 471.70 L332.90 476.30 L327.50 476.30 Z" fill="#3db54a"/>
<path d="M338.14 473.70 L340.84 478.30 L335.44 478.30 Z" fill="#3db54a"/>
<text x="348.75" y="369.60" font-size="11" text-anchor="start" fill="#111" font-weight="bold" stroke="#111" stroke-width="0.35">D</text>
<text x="443.50" y="369.20" font-size="10.0" text-anchor="middle" fill="#222" textLength="61.60" lengthAdjust="spacingAndGlyphs" stroke="#222" stroke-width="0.08" >Neg-Microlyse</text>
<text x="354.10" y="427.50" font-size="8.8" text-anchor="middle" fill="#1a1a1a" textLength="91.30" lengthAdjust="spacingAndGlyphs" transform="rotate(-90 354.10 427.50)" stroke="#1a1a1a" stroke-width="0.18">Platelet·VWF complexes (%)</text>
<path d="M378.30 379.00 V476.20 H508.70" stroke="#111" stroke-width="1.3" fill="none"/>
<path d="M375.30 476.20 H378.30" stroke="#111" stroke-width="1.1"/>
<text x="373.30" y="479.25" font-size="8.5" text-anchor="end" fill="#1e1e1e" stroke="#1e1e1e" stroke-width="0.08" >0</text>
<path d="M375.30 445.00 H378.30" stroke="#111" stroke-width="1.1"/>
<text x="373.30" y="448.05" font-size="8.5" text-anchor="end" fill="#1e1e1e" stroke="#1e1e1e" stroke-width="0.08" >100</text>
<path d="M375.30 413.80 H378.30" stroke="#111" stroke-width="1.1"/>
<text x="373.30" y="416.85" font-size="8.5" text-anchor="end" fill="#1e1e1e" stroke="#1e1e1e" stroke-width="0.08" >200</text>
<path d="M375.30 382.60 H378.30" stroke="#111" stroke-width="1.1"/>
<text x="373.30" y="385.65" font-size="8.5" text-anchor="end" fill="#1e1e1e" stroke="#1e1e1e" stroke-width="0.08" >300</text>
<path d="M378.30 476.20 V479.50" stroke="#111" stroke-width="1.1"/>
<path d="M386.24 476.20 V478.60" stroke="#111" stroke-width="1.1"/>
<path d="M394.18 476.20 V478.60" stroke="#111" stroke-width="1.1"/>
<path d="M402.12 476.20 V478.60" stroke="#111" stroke-width="1.1"/>
<path d="M410.06 476.20 V478.60" stroke="#111" stroke-width="1.1"/>
<path d="M418.00 476.20 V479.50" stroke="#111" stroke-width="1.1"/>
<path d="M425.94 476.20 V478.60" stroke="#111" stroke-width="1.1"/>
<path d="M433.88 476.20 V478.60" stroke="#111" stroke-width="1.1"/>
<path d="M441.82 476.20 V478.60" stroke="#111" stroke-width="1.1"/>
<path d="M449.76 476.20 V478.60" stroke="#111" stroke-width="1.1"/>
<path d="M457.70 476.20 V479.50" stroke="#111" stroke-width="1.1"/>
<path d="M465.64 476.20 V478.60" stroke="#111" stroke-width="1.1"/>
<path d="M473.58 476.20 V478.60" stroke="#111" stroke-width="1.1"/>
<path d="M481.52 476.20 V478.60" stroke="#111" stroke-width="1.1"/>
<path d="M489.46 476.20 V478.60" stroke="#111" stroke-width="1.1"/>
<path d="M497.40 476.20 V479.50" stroke="#111" stroke-width="1.1"/>
<path d="M505.34 476.20 V478.60" stroke="#111" stroke-width="1.1"/>
<text x="378.30" y="488.30" font-size="8.2" text-anchor="middle" fill="#222" textLength="3.90" lengthAdjust="spacingAndGlyphs" stroke="#222" stroke-width="0.08" >8</text>
<text x="418.00" y="488.30" font-size="8.2" text-anchor="middle" fill="#222" textLength="7.60" lengthAdjust="spacingAndGlyphs" stroke="#222" stroke-width="0.08" >18</text>
<text x="457.70" y="488.30" font-size="8.2" text-anchor="middle" fill="#222" textLength="7.60" lengthAdjust="spacingAndGlyphs" stroke="#222" stroke-width="0.08" >28</text>
<text x="497.40" y="488.30" font-size="8.2" text-anchor="middle" fill="#222" textLength="7.60" lengthAdjust="spacingAndGlyphs" stroke="#222" stroke-width="0.08" >38</text>
<text x="443.80" y="501.90" font-size="8.6" text-anchor="middle" fill="#222" textLength="36.00" lengthAdjust="spacingAndGlyphs" stroke="#222" stroke-width="0.16">Time (min)</text>
<path d="M386.24 430.80 V445.00 M384.34 430.80 H388.14 M384.34 445.00 H388.14" stroke="#858585" stroke-width="1.05" fill="none"/>
<path d="M394.18 430.80 V437.90 M392.28 430.80 H396.08 M392.28 437.90 H396.08" stroke="#858585" stroke-width="1.05" fill="none"/>
<path d="M402.12 424.20 V435.30 M400.22 424.20 H404.02 M400.22 435.30 H404.02" stroke="#858585" stroke-width="1.05" fill="none"/>
<path d="M410.06 417.70 V430.30 M408.16 417.70 H411.96 M408.16 430.30 H411.96" stroke="#858585" stroke-width="1.05" fill="none"/>
<path d="M418.00 414.70 V430.30 M416.10 414.70 H419.90 M416.10 430.30 H419.90" stroke="#858585" stroke-width="1.05" fill="none"/>
<path d="M425.94 406.50 V425.00 M424.04 406.50 H427.84 M424.04 425.00 H427.84" stroke="#858585" stroke-width="1.05" fill="none"/>
<path d="M433.88 389.40 V424.80 M431.98 389.40 H435.78 M431.98 424.80 H435.78" stroke="#858585" stroke-width="1.05" fill="none"/>
<path d="M441.82 391.20 V423.50 M439.92 391.20 H443.72 M439.92 423.50 H443.72" stroke="#858585" stroke-width="1.05" fill="none"/>
<path d="M449.76 389.40 V433.30 M447.86 389.40 H451.66 M447.86 433.30 H451.66" stroke="#858585" stroke-width="1.05" fill="none"/>
<path d="M457.70 390.20 V432.30 M455.80 390.20 H459.60 M455.80 432.30 H459.60" stroke="#858585" stroke-width="1.05" fill="none"/>
<path d="M465.64 395.20 V438.30 M463.74 395.20 H467.54 M463.74 438.30 H467.54" stroke="#858585" stroke-width="1.05" fill="none"/>
<path d="M473.58 403.00 V445.00 M471.68 403.00 H475.48 M471.68 445.00 H475.48" stroke="#858585" stroke-width="1.05" fill="none"/>
<path d="M481.52 410.20 V449.20 M479.62 410.20 H483.42 M479.62 449.20 H483.42" stroke="#858585" stroke-width="1.05" fill="none"/>
<path d="M489.46 419.20 V456.40 M487.56 419.20 H491.36 M487.56 456.40 H491.36" stroke="#858585" stroke-width="1.05" fill="none"/>
<path d="M497.40 430.40 V460.40 M495.50 430.40 H499.30 M495.50 460.40 H499.30" stroke="#858585" stroke-width="1.05" fill="none"/>
<path d="M505.34 437.60 V463.90 M503.44 437.60 H507.24 M503.44 463.90 H507.24" stroke="#858585" stroke-width="1.05" fill="none"/>
<path d="M378.30 444.70 L386.24 437.10 L394.18 433.80 L402.12 429.20 L410.06 423.50 L418.00 422.00 L425.94 415.20 L433.88 406.40 L441.82 406.40 L449.76 410.60 L457.70 410.60 L465.64 415.90 L473.58 423.20 L481.52 428.80 L489.46 436.80 L497.40 444.80 L505.34 450.30" stroke="#c8102e" stroke-width="1.85" fill="none" stroke-linejoin="round"/>
<path d="M378.30 447.50 L381.00 442.90 L375.60 442.90 Z" fill="#c8102e"/>
<path d="M386.24 439.90 L388.94 435.30 L383.54 435.30 Z" fill="#c8102e"/>
<path d="M394.18 436.60 L396.88 432.00 L391.48 432.00 Z" fill="#c8102e"/>
<path d="M402.12 432.00 L404.82 427.40 L399.42 427.40 Z" fill="#c8102e"/>
<path d="M410.06 426.30 L412.76 421.70 L407.36 421.70 Z" fill="#c8102e"/>
<path d="M418.00 424.80 L420.70 420.20 L415.30 420.20 Z" fill="#c8102e"/>
<path d="M425.94 418.00 L428.64 413.40 L423.24 413.40 Z" fill="#c8102e"/>
<path d="M433.88 409.20 L436.58 404.60 L431.18 404.60 Z" fill="#c8102e"/>
<path d="M441.82 409.20 L444.52 404.60 L439.12 404.60 Z" fill="#c8102e"/>
<path d="M449.76 413.40 L452.46 408.80 L447.06 408.80 Z" fill="#c8102e"/>
<path d="M457.70 413.40 L460.40 408.80 L455.00 408.80 Z" fill="#c8102e"/>
<path d="M465.64 418.70 L468.34 414.10 L462.94 414.10 Z" fill="#c8102e"/>
<path d="M473.58 426.00 L476.28 421.40 L470.88 421.40 Z" fill="#c8102e"/>
<path d="M481.52 431.60 L484.22 427.00 L478.82 427.00 Z" fill="#c8102e"/>
<path d="M489.46 439.60 L492.16 435.00 L486.76 435.00 Z" fill="#c8102e"/>
<path d="M497.40 447.60 L500.10 443.00 L494.70 443.00 Z" fill="#c8102e"/>
<path d="M505.34 453.10 L508.04 448.50 L502.64 448.50 Z" fill="#c8102e"/>
<text x="8.60" y="533.40" font-size="11" text-anchor="start" fill="#111" font-weight="bold" stroke="#111" stroke-width="0.35">E</text>
<text x="105.80" y="533.00" font-size="10.0" text-anchor="middle" fill="#222" textLength="64.00" lengthAdjust="spacingAndGlyphs" stroke="#222" stroke-width="0.08" >Caplacizumab*</text>
<text x="15.60" y="591.00" font-size="8.8" text-anchor="middle" fill="#1a1a1a" textLength="91.30" lengthAdjust="spacingAndGlyphs" transform="rotate(-90 15.60 591.00)" stroke="#1a1a1a" stroke-width="0.18">Platelet·VWF complexes (%)</text>
<path d="M40.70 543.00 V640.00 H170.00" stroke="#111" stroke-width="1.3" fill="none"/>
<path d="M37.70 640.00 H40.70" stroke="#111" stroke-width="1.1"/>
<text x="35.70" y="643.05" font-size="8.5" text-anchor="end" fill="#1e1e1e" stroke="#1e1e1e" stroke-width="0.08" >0</text>
<path d="M37.70 608.70 H40.70" stroke="#111" stroke-width="1.1"/>
<text x="35.70" y="611.75" font-size="8.5" text-anchor="end" fill="#1e1e1e" stroke="#1e1e1e" stroke-width="0.08" >100</text>
<path d="M37.70 577.40 H40.70" stroke="#111" stroke-width="1.1"/>
<text x="35.70" y="580.45" font-size="8.5" text-anchor="end" fill="#1e1e1e" stroke="#1e1e1e" stroke-width="0.08" >200</text>
<path d="M37.70 546.10 H40.70" stroke="#111" stroke-width="1.1"/>
<text x="35.70" y="549.15" font-size="8.5" text-anchor="end" fill="#1e1e1e" stroke="#1e1e1e" stroke-width="0.08" >300</text>
<path d="M40.70 640.00 V643.30" stroke="#111" stroke-width="1.1"/>
<path d="M48.64 640.00 V642.40" stroke="#111" stroke-width="1.1"/>
<path d="M56.58 640.00 V642.40" stroke="#111" stroke-width="1.1"/>
<path d="M64.52 640.00 V642.40" stroke="#111" stroke-width="1.1"/>
<path d="M72.46 640.00 V642.40" stroke="#111" stroke-width="1.1"/>
<path d="M80.40 640.00 V643.30" stroke="#111" stroke-width="1.1"/>
<path d="M88.34 640.00 V642.40" stroke="#111" stroke-width="1.1"/>
<path d="M96.28 640.00 V642.40" stroke="#111" stroke-width="1.1"/>
<path d="M104.22 640.00 V642.40" stroke="#111" stroke-width="1.1"/>
<path d="M112.16 640.00 V642.40" stroke="#111" stroke-width="1.1"/>
<path d="M120.10 640.00 V643.30" stroke="#111" stroke-width="1.1"/>
<path d="M128.04 640.00 V642.40" stroke="#111" stroke-width="1.1"/>
<path d="M135.98 640.00 V642.40" stroke="#111" stroke-width="1.1"/>
<path d="M143.92 640.00 V642.40" stroke="#111" stroke-width="1.1"/>
<path d="M151.86 640.00 V642.40" stroke="#111" stroke-width="1.1"/>
<path d="M159.80 640.00 V643.30" stroke="#111" stroke-width="1.1"/>
<path d="M167.74 640.00 V642.40" stroke="#111" stroke-width="1.1"/>
<text x="40.70" y="652.00" font-size="8.2" text-anchor="middle" fill="#222" textLength="3.90" lengthAdjust="spacingAndGlyphs" stroke="#222" stroke-width="0.08" >8</text>
<text x="80.40" y="652.00" font-size="8.2" text-anchor="middle" fill="#222" textLength="7.60" lengthAdjust="spacingAndGlyphs" stroke="#222" stroke-width="0.08" >18</text>
<text x="120.10" y="652.00" font-size="8.2" text-anchor="middle" fill="#222" textLength="7.60" lengthAdjust="spacingAndGlyphs" stroke="#222" stroke-width="0.08" >28</text>
<text x="159.80" y="652.00" font-size="8.2" text-anchor="middle" fill="#222" textLength="7.60" lengthAdjust="spacingAndGlyphs" stroke="#222" stroke-width="0.08" >38</text>
<text x="105.80" y="665.30" font-size="8.6" text-anchor="middle" fill="#222" textLength="36.00" lengthAdjust="spacingAndGlyphs" stroke="#222" stroke-width="0.16">Time (min)</text>
<path d="M48.64 593.40 V606.70 M46.74 593.40 H50.54 M46.74 606.70 H50.54" stroke="#858585" stroke-width="1.05" fill="none"/>
<path d="M56.58 587.10 V606.70 M54.68 587.10 H58.48 M54.68 606.70 H58.48" stroke="#858585" stroke-width="1.05" fill="none"/>
<path d="M64.52 588.20 V609.30 M62.62 588.20 H66.42 M62.62 609.30 H66.42" stroke="#858585" stroke-width="1.05" fill="none"/>
<path d="M72.46 592.50 V612.80 M70.56 592.50 H74.36 M70.56 612.80 H74.36" stroke="#858585" stroke-width="1.05" fill="none"/>
<path d="M80.40 599.60 V617.20 M78.50 599.60 H82.30 M78.50 617.20 H82.30" stroke="#858585" stroke-width="1.05" fill="none"/>
<path d="M88.34 599.00 V618.30 M86.44 599.00 H90.24 M86.44 618.30 H90.24" stroke="#858585" stroke-width="1.05" fill="none"/>
<path d="M96.28 603.60 V621.50 M94.38 603.60 H98.18 M94.38 621.50 H98.18" stroke="#858585" stroke-width="1.05" fill="none"/>
<path d="M104.22 605.50 V622.00 M102.32 605.50 H106.12 M102.32 622.00 H106.12" stroke="#858585" stroke-width="1.05" fill="none"/>
<path d="M112.16 607.00 V627.20 M110.26 607.00 H114.06 M110.26 627.20 H114.06" stroke="#858585" stroke-width="1.05" fill="none"/>
<path d="M120.10 606.50 V629.60 M118.20 606.50 H122.00 M118.20 629.60 H122.00" stroke="#858585" stroke-width="1.05" fill="none"/>
<path d="M128.04 611.00 V632.30 M126.14 611.00 H129.94 M126.14 632.30 H129.94" stroke="#858585" stroke-width="1.05" fill="none"/>
<path d="M135.98 614.10 V634.60 M134.08 614.10 H137.88 M134.08 634.60 H137.88" stroke="#858585" stroke-width="1.05" fill="none"/>
<path d="M143.92 612.50 V635.10 M142.02 612.50 H145.82 M142.02 635.10 H145.82" stroke="#858585" stroke-width="1.05" fill="none"/>
<path d="M151.86 617.60 V635.40 M149.96 617.60 H153.76 M149.96 635.40 H153.76" stroke="#858585" stroke-width="1.05" fill="none"/>
<path d="M159.80 618.70 V635.60 M157.90 618.70 H161.70 M157.90 635.60 H161.70" stroke="#858585" stroke-width="1.05" fill="none"/>
<path d="M167.74 623.70 V637.00 M165.84 623.70 H169.64 M165.84 637.00 H169.64" stroke="#858585" stroke-width="1.05" fill="none"/>
<path d="M40.70 608.80 L48.64 600.10 L56.58 596.60 L64.52 599.00 L72.46 602.80 L80.40 608.30 L88.34 608.50 L96.28 612.30 L104.22 614.00 L112.16 617.20 L120.10 618.10 L128.04 621.60 L135.98 624.50 L143.92 623.70 L151.86 626.80 L159.80 627.50 L167.74 630.70" stroke="#fbb81c" stroke-width="1.85" fill="none" stroke-linejoin="round"/>
<circle cx="40.70" cy="608.80" r="2.55" fill="#fbb81c"/>
<circle cx="48.64" cy="600.10" r="2.55" fill="#fbb81c"/>
<circle cx="56.58" cy="596.60" r="2.55" fill="#fbb81c"/>
<circle cx="64.52" cy="599.00" r="2.55" fill="#fbb81c"/>
<circle cx="72.46" cy="602.80" r="2.55" fill="#fbb81c"/>
<circle cx="80.40" cy="608.30" r="2.55" fill="#fbb81c"/>
<circle cx="88.34" cy="608.50" r="2.55" fill="#fbb81c"/>
<circle cx="96.28" cy="612.30" r="2.55" fill="#fbb81c"/>
<circle cx="104.22" cy="614.00" r="2.55" fill="#fbb81c"/>
<circle cx="112.16" cy="617.20" r="2.55" fill="#fbb81c"/>
<circle cx="120.10" cy="618.10" r="2.55" fill="#fbb81c"/>
<circle cx="128.04" cy="621.60" r="2.55" fill="#fbb81c"/>
<circle cx="135.98" cy="624.50" r="2.55" fill="#fbb81c"/>
<circle cx="143.92" cy="623.70" r="2.55" fill="#fbb81c"/>
<circle cx="151.86" cy="626.80" r="2.55" fill="#fbb81c"/>
<circle cx="159.80" cy="627.50" r="2.55" fill="#fbb81c"/>
<circle cx="167.74" cy="630.70" r="2.55" fill="#fbb81c"/>
<text x="176.90" y="533.40" font-size="11" text-anchor="start" fill="#111" font-weight="bold" stroke="#111" stroke-width="0.35">F</text>
<text x="277.90" y="533.00" font-size="10.0" text-anchor="middle" fill="#222" textLength="15.00" lengthAdjust="spacingAndGlyphs" stroke="#222" stroke-width="0.08" >tPA</text>
<text x="182.10" y="591.00" font-size="8.8" text-anchor="middle" fill="#1a1a1a" textLength="91.30" lengthAdjust="spacingAndGlyphs" transform="rotate(-90 182.10 591.00)" stroke="#1a1a1a" stroke-width="0.18">Platelet·VWF complexes (%)</text>
<path d="M206.30 543.00 V639.80 H335.70" stroke="#111" stroke-width="1.3" fill="none"/>
<path d="M203.30 639.80 H206.30" stroke="#111" stroke-width="1.1"/>
<text x="201.30" y="642.85" font-size="8.5" text-anchor="end" fill="#1e1e1e" stroke="#1e1e1e" stroke-width="0.08" >0</text>
<path d="M203.30 608.70 H206.30" stroke="#111" stroke-width="1.1"/>
<text x="201.30" y="611.75" font-size="8.5" text-anchor="end" fill="#1e1e1e" stroke="#1e1e1e" stroke-width="0.08" >100</text>
<path d="M203.30 577.60 H206.30" stroke="#111" stroke-width="1.1"/>
<text x="201.30" y="580.65" font-size="8.5" text-anchor="end" fill="#1e1e1e" stroke="#1e1e1e" stroke-width="0.08" >200</text>
<path d="M203.30 546.50 H206.30" stroke="#111" stroke-width="1.1"/>
<text x="201.30" y="549.55" font-size="8.5" text-anchor="end" fill="#1e1e1e" stroke="#1e1e1e" stroke-width="0.08" >300</text>
<path d="M206.30 639.80 V643.10" stroke="#111" stroke-width="1.1"/>
<path d="M214.24 639.80 V642.20" stroke="#111" stroke-width="1.1"/>
<path d="M222.18 639.80 V642.20" stroke="#111" stroke-width="1.1"/>
<path d="M230.12 639.80 V642.20" stroke="#111" stroke-width="1.1"/>
<path d="M238.06 639.80 V642.20" stroke="#111" stroke-width="1.1"/>
<path d="M246.00 639.80 V643.10" stroke="#111" stroke-width="1.1"/>
<path d="M253.94 639.80 V642.20" stroke="#111" stroke-width="1.1"/>
<path d="M261.88 639.80 V642.20" stroke="#111" stroke-width="1.1"/>
<path d="M269.82 639.80 V642.20" stroke="#111" stroke-width="1.1"/>
<path d="M277.76 639.80 V642.20" stroke="#111" stroke-width="1.1"/>
<path d="M285.70 639.80 V643.10" stroke="#111" stroke-width="1.1"/>
<path d="M293.64 639.80 V642.20" stroke="#111" stroke-width="1.1"/>
<path d="M301.58 639.80 V642.20" stroke="#111" stroke-width="1.1"/>
<path d="M309.52 639.80 V642.20" stroke="#111" stroke-width="1.1"/>
<path d="M317.46 639.80 V642.20" stroke="#111" stroke-width="1.1"/>
<path d="M325.40 639.80 V643.10" stroke="#111" stroke-width="1.1"/>
<path d="M333.34 639.80 V642.20" stroke="#111" stroke-width="1.1"/>
<text x="206.30" y="652.00" font-size="8.2" text-anchor="middle" fill="#222" textLength="3.90" lengthAdjust="spacingAndGlyphs" stroke="#222" stroke-width="0.08" >8</text>
<text x="246.00" y="652.00" font-size="8.2" text-anchor="middle" fill="#222" textLength="7.60" lengthAdjust="spacingAndGlyphs" stroke="#222" stroke-width="0.08" >18</text>
<text x="285.70" y="652.00" font-size="8.2" text-anchor="middle" fill="#222" textLength="7.60" lengthAdjust="spacingAndGlyphs" stroke="#222" stroke-width="0.08" >28</text>
<text x="325.40" y="652.00" font-size="8.2" text-anchor="middle" fill="#222" textLength="7.60" lengthAdjust="spacingAndGlyphs" stroke="#222" stroke-width="0.08" >38</text>
<text x="271.20" y="664.30" font-size="8.6" text-anchor="middle" fill="#222" textLength="36.00" lengthAdjust="spacingAndGlyphs" stroke="#222" stroke-width="0.16">Time (min)</text>
<path d="M214.24 601.70 V608.00 M212.34 601.70 H216.14 M212.34 608.00 H216.14" stroke="#858585" stroke-width="1.05" fill="none"/>
<path d="M222.18 599.60 V609.90 M220.28 599.60 H224.08 M220.28 609.90 H224.08" stroke="#858585" stroke-width="1.05" fill="none"/>
<path d="M230.12 582.30 V602.10 M228.22 582.30 H232.02 M228.22 602.10 H232.02" stroke="#858585" stroke-width="1.05" fill="none"/>
<path d="M238.06 568.70 V600.10 M236.16 568.70 H239.96 M236.16 600.10 H239.96" stroke="#858585" stroke-width="1.05" fill="none"/>
<path d="M246.00 562.80 V600.10 M244.10 562.80 H247.90 M244.10 600.10 H247.90" stroke="#858585" stroke-width="1.05" fill="none"/>
<path d="M253.94 549.30 V603.30 M252.04 549.30 H255.84 M252.04 603.30 H255.84" stroke="#858585" stroke-width="1.05" fill="none"/>
<path d="M261.88 563.30 V605.30 M259.98 563.30 H263.78 M259.98 605.30 H263.78" stroke="#858585" stroke-width="1.05" fill="none"/>
<path d="M269.82 552.50 V604.90 M267.92 552.50 H271.72 M267.92 604.90 H271.72" stroke="#858585" stroke-width="1.05" fill="none"/>
<path d="M277.76 560.40 V608.40 M275.86 560.40 H279.66 M275.86 608.40 H279.66" stroke="#858585" stroke-width="1.05" fill="none"/>
<path d="M285.70 577.60 V609.70 M283.80 577.60 H287.60 M283.80 609.70 H287.60" stroke="#858585" stroke-width="1.05" fill="none"/>
<path d="M293.64 583.50 V611.30 M291.74 583.50 H295.54 M291.74 611.30 H295.54" stroke="#858585" stroke-width="1.05" fill="none"/>
<path d="M301.58 587.40 V614.50 M299.68 587.40 H303.48 M299.68 614.50 H303.48" stroke="#858585" stroke-width="1.05" fill="none"/>
<path d="M309.52 609.70 V618.90 M307.62 609.70 H311.42 M307.62 618.90 H311.42" stroke="#858585" stroke-width="1.05" fill="none"/>
<path d="M317.46 615.70 V624.00 M315.56 615.70 H319.36 M315.56 624.00 H319.36" stroke="#858585" stroke-width="1.05" fill="none"/>
<path d="M206.30 608.50 L214.24 604.80 L222.18 604.80 L230.12 592.10 L238.06 584.70 L246.00 582.10 L253.94 576.30 L261.88 584.50 L269.82 579.00 L277.76 585.10 L285.70 593.80 L293.64 597.50 L301.58 601.00 L309.52 614.10 L317.46 620.00 L325.40 626.40 L333.34 628.30" stroke="#5c2167" stroke-width="1.85" fill="none" stroke-linejoin="round"/>
<circle cx="206.30" cy="608.50" r="2.55" fill="#5c2167"/>
<circle cx="214.24" cy="604.80" r="2.55" fill="#5c2167"/>
<circle cx="222.18" cy="604.80" r="2.55" fill="#5c2167"/>
<circle cx="230.12" cy="592.10" r="2.55" fill="#5c2167"/>
<circle cx="238.06" cy="584.70" r="2.55" fill="#5c2167"/>
<circle cx="246.00" cy="582.10" r="2.55" fill="#5c2167"/>
<circle cx="253.94" cy="576.30" r="2.55" fill="#5c2167"/>
<circle cx="261.88" cy="584.50" r="2.55" fill="#5c2167"/>
<circle cx="269.82" cy="579.00" r="2.55" fill="#5c2167"/>
<circle cx="277.76" cy="585.10" r="2.55" fill="#5c2167"/>
<circle cx="285.70" cy="593.80" r="2.55" fill="#5c2167"/>
<circle cx="293.64" cy="597.50" r="2.55" fill="#5c2167"/>
<circle cx="301.58" cy="601.00" r="2.55" fill="#5c2167"/>
<circle cx="309.52" cy="614.10" r="2.55" fill="#5c2167"/>
<circle cx="317.46" cy="620.00" r="2.55" fill="#5c2167"/>
<circle cx="325.40" cy="626.40" r="2.55" fill="#5c2167"/>
<circle cx="333.34" cy="628.30" r="2.55" fill="#5c2167"/>
<text x="339.40" y="533.40" font-size="11" text-anchor="start" fill="#111" font-weight="bold" stroke="#111" stroke-width="0.35">G</text>
<text x="347.20" y="590.60" font-size="8.8" text-anchor="middle" fill="#1a1a1a" textLength="83.00" lengthAdjust="spacingAndGlyphs" transform="rotate(-90 347.20 590.60)" stroke="#1a1a1a" stroke-width="0.18">Platelet·VWF complexes:</text>
<text x="359.50" y="591.20" font-size="8.8" text-anchor="middle" fill="#1a1a1a" textLength="34.20" lengthAdjust="spacingAndGlyphs" transform="rotate(-90 359.50 591.20)" stroke="#1a1a1a" stroke-width="0.18">T1/2 (min)</text>
<path d="M376.3 542.1 V639.8 H511.7" stroke="#111" stroke-width="1.3" fill="none"/>
<path d="M373.30 639.80 H376.3" stroke="#111" stroke-width="1"/>
<path d="M374.10 634.44 H376.3" stroke="#111" stroke-width="1"/>
<path d="M374.10 629.08 H376.3" stroke="#111" stroke-width="1"/>
<path d="M374.10 623.72 H376.3" stroke="#111" stroke-width="1"/>
<path d="M374.10 618.36 H376.3" stroke="#111" stroke-width="1"/>
<path d="M373.30 613.00 H376.3" stroke="#111" stroke-width="1"/>
<path d="M374.10 607.64 H376.3" stroke="#111" stroke-width="1"/>
<path d="M374.10 602.28 H376.3" stroke="#111" stroke-width="1"/>
<path d="M374.10 596.92 H376.3" stroke="#111" stroke-width="1"/>
<path d="M374.10 591.56 H376.3" stroke="#111" stroke-width="1"/>
<path d="M373.30 586.20 H376.3" stroke="#111" stroke-width="1"/>
<path d="M374.10 580.84 H376.3" stroke="#111" stroke-width="1"/>
<path d="M374.10 575.48 H376.3" stroke="#111" stroke-width="1"/>
<path d="M374.10 570.12 H376.3" stroke="#111" stroke-width="1"/>
<path d="M374.10 564.76 H376.3" stroke="#111" stroke-width="1"/>
<path d="M373.30 559.40 H376.3" stroke="#111" stroke-width="1"/>
<path d="M374.10 554.04 H376.3" stroke="#111" stroke-width="1"/>
<path d="M374.10 548.68 H376.3" stroke="#111" stroke-width="1"/>
<text x="370.50" y="642.85" font-size="8.5" text-anchor="end" fill="#1e1e1e" stroke="#1e1e1e" stroke-width="0.08" >0</text>
<text x="370.50" y="616.05" font-size="8.5" text-anchor="end" fill="#1e1e1e" stroke="#1e1e1e" stroke-width="0.08" >10</text>
<text x="370.50" y="589.25" font-size="8.5" text-anchor="end" fill="#1e1e1e" stroke="#1e1e1e" stroke-width="0.08" >20</text>
<text x="370.50" y="562.45" font-size="8.5" text-anchor="end" fill="#1e1e1e" stroke="#1e1e1e" stroke-width="0.08" >30</text>
<path d="M393.80 604.69 V598.53 M389.80 598.53 H397.80" stroke="#555" stroke-width="1" fill="none"/>
<rect x="385.80" y="604.69" width="16" height="35.11" fill="#3db54a"/>
<path d="M393.80 639.8 V642.5" stroke="#111" stroke-width="1"/>
<path d="M420.50 571.19 V559.94 M416.50 559.94 H424.50" stroke="#555" stroke-width="1" fill="none"/>
<rect x="412.50" y="571.19" width="16" height="68.61" fill="#c8102e"/>
<path d="M420.50 639.8 V642.5" stroke="#111" stroke-width="1"/>
<path d="M447.00 598.26 V584.59 M443.00 584.59 H451.00" stroke="#555" stroke-width="1" fill="none"/>
<rect x="439.00" y="598.26" width="16" height="41.54" fill="#fbb81c"/>
<path d="M447.00 639.8 V642.5" stroke="#111" stroke-width="1"/>
<path d="M473.30 584.06 V572.53 M469.30 572.53 H477.30" stroke="#555" stroke-width="1" fill="none"/>
<rect x="465.30" y="584.06" width="16" height="55.74" fill="#5c2167"/>
<path d="M473.30 639.8 V642.5" stroke="#111" stroke-width="1"/>
<rect x="492.00" y="554.04" width="16" height="85.76" fill="#0e4d80"/>
<path d="M500.00 639.8 V642.5" stroke="#111" stroke-width="1"/>
<path d="M377 554.04 H509" stroke="#777" stroke-width="1.5" stroke-dasharray="4.5 2.6" fill="none"/>
<clipPath id="vbar"><rect x="492" y="553.84" width="16" height="3"/></clipPath>
<path d="M377 554.04 H509" stroke="#1a1a1a" stroke-width="1.5" stroke-dasharray="4.5 2.6" fill="none" clip-path="url(#vbar)"/>
<path d="M394.1 549.3 H420.5 M394.1 547.6 V551.2 M420.5 547.6 V551.2" stroke="#555" stroke-width="0.9" fill="none"/>
<text x="407.20" y="546.00" font-size="8.5" text-anchor="middle" fill="#222" textLength="22.80" lengthAdjust="spacingAndGlyphs" stroke="#222" stroke-width="0.08" >0.0291</text>
<text x="500.00" y="551.80" font-size="8.2" text-anchor="middle" fill="#222" stroke="#222" stroke-width="0.08" >ND</text>
<text x="397.80" y="648.20" font-size="9.2" text-anchor="end" fill="#222" stroke="#222" stroke-width="0.08" textLength="38.7" lengthAdjust="spacingAndGlyphs" transform="rotate(-45 397.80 648.20)">Microlyse</text>
<text x="424.50" y="648.20" font-size="9.2" text-anchor="end" fill="#222" stroke="#222" stroke-width="0.08" textLength="55" lengthAdjust="spacingAndGlyphs" transform="rotate(-45 424.50 648.20)">Neg-Microlyse</text>
<text x="451.00" y="648.20" font-size="9.2" text-anchor="end" fill="#222" stroke="#222" stroke-width="0.08" textLength="55" lengthAdjust="spacingAndGlyphs" transform="rotate(-45 451.00 648.20)">Caplacizumab*</text>
<text x="477.30" y="648.20" font-size="9.2" text-anchor="end" fill="#222" stroke="#222" stroke-width="0.08" textLength="12.2" lengthAdjust="spacingAndGlyphs" transform="rotate(-45 477.30 648.20)">tPA</text>
<text x="504.00" y="648.20" font-size="9.2" text-anchor="end" fill="#222" stroke="#222" stroke-width="0.08" textLength="29.4" lengthAdjust="spacingAndGlyphs" transform="rotate(-45 504.00 648.20)">Vehicle</text>
<rect x="0.5" y="0.5" width="519" height="692" fill="none" stroke="#000" stroke-width="1.2"/>
</svg></body></html>
